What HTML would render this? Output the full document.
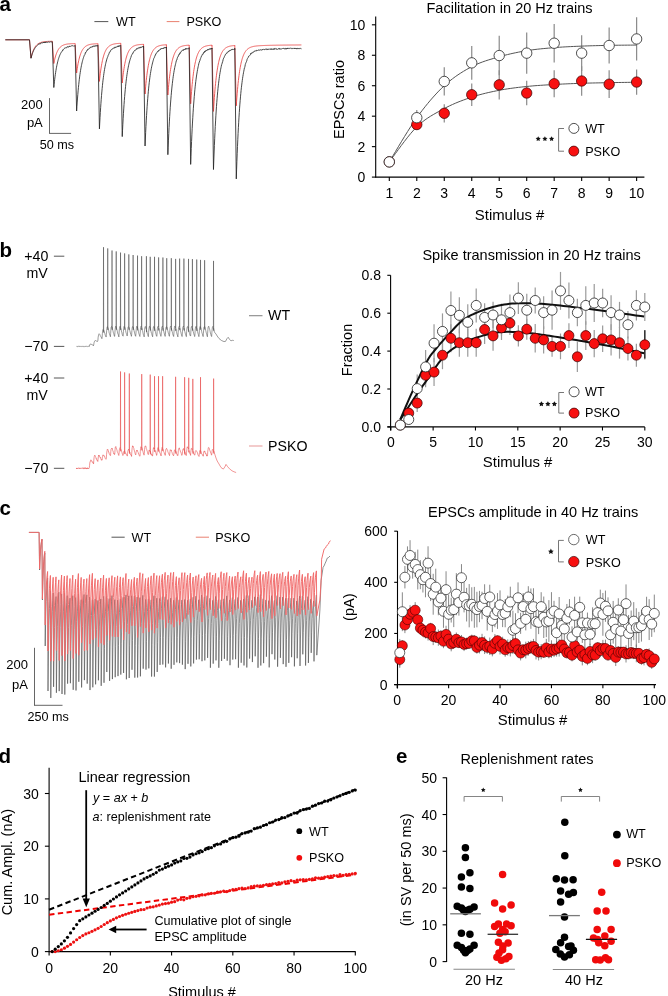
<!DOCTYPE html>
<html><head><meta charset="utf-8"><title>Figure</title>
<style>
html,body{margin:0;padding:0;background:#fff;}
body{width:668px;height:996px;overflow:hidden;}
svg{display:block;font-family:"Liberation Sans", sans-serif;will-change:transform;}
</style></head><body>
<svg width="668" height="996" viewBox="0 0 668 996">
<rect width="668" height="996" fill="#fff"/>
<text x="-0.6" y="11.4" style="font-size:20.5px;font-weight:bold">a</text>
<text x="-0.4" y="257.4" style="font-size:20.5px;font-weight:bold">b</text>
<text x="-0.6" y="515" style="font-size:20.5px;font-weight:bold">c</text>
<text x="-1.6" y="762.6" style="font-size:20.5px;font-weight:bold">d</text>
<text x="396" y="762.6" style="font-size:20.5px;font-weight:bold">e</text>
<line x1="94.4" y1="21.6" x2="108.3" y2="21.6" stroke="#555" stroke-width="1"/>
<text x="116" y="25.8" style="font-size:12.6px">WT</text>
<line x1="166.7" y1="21.6" x2="179.4" y2="21.6" stroke="#e98070" stroke-width="1"/>
<text x="186.4" y="25.8" style="font-size:12.6px">PSKO</text>
<polyline points="5.3,39.8 29.5,39.8 31,58 31.3,56.72 31.6,55.55 31.9,54.46 32.2,53.45 32.5,52.52 32.8,51.66 33.1,50.87 33.4,50.13 33.7,49.46 34,48.83 34.3,48.25 34.6,47.71 34.9,47.22 35.2,46.76 35.5,46.34 35.8,45.95 36.1,45.59 36.4,45.26 36.7,44.95 37,44.66 37.3,44.4 37.6,44.16 37.9,43.93 38.2,43.73 38.5,43.53 38.8,43.36 39.1,43.19 39.4,43.04 39.7,42.9 40,42.77 40.3,42.65 40.6,42.54 40.9,42.44 41.2,42.35 41.5,42.26 41.8,42.18 42.1,42.11 42.4,42.04 42.7,41.97 43,41.91 43.3,41.86 43.6,41.81 43.9,41.76 44.2,41.72 44.5,41.68 44.8,41.64 45.1,41.61 45.4,41.58 45.7,41.55 46,41.52 46.3,41.5 46.6,41.48 46.9,41.46 47.2,41.44 47.5,41.42 47.8,41.4 48.1,41.39 48.4,41.37 48.7,41.36 49,41.35 49.3,41.34 49.6,41.33 49.9,41.32 50.2,41.31 50.5,41.3 50.8,41.29 51.1,41.28 51.4,41.28 51.7,41.27 52,41.27 52.3,41.26 52.31,41.2 53.81,63.5 54.11,61.98 54.41,60.58 54.71,59.28 55.01,58.08 55.31,56.98 55.61,55.95 55.91,55.01 56.21,54.14 56.51,53.33 56.81,52.58 57.11,51.89 57.41,51.26 57.71,50.67 58.01,50.12 58.31,49.62 58.61,49.16 58.91,48.73 59.21,48.33 59.51,47.96 59.81,47.62 60.11,47.31 60.41,47.02 60.71,46.75 61.01,46.51 61.31,46.28 61.61,46.07 61.91,45.87 62.21,45.69 62.51,45.53 62.81,45.37 63.11,45.23 63.41,45.1 63.71,44.98 64.01,44.87 64.31,44.76 64.61,44.67 64.91,44.58 65.21,44.5 65.51,44.42 65.81,44.35 66.11,44.29 66.41,44.23 66.71,44.17 67.01,44.12 67.31,44.07 67.61,44.03 67.91,43.99 68.21,43.95 68.51,43.92 68.81,43.89 69.11,43.86 69.41,43.83 69.71,43.8 70.01,43.78 70.31,43.76 70.61,43.74 70.91,43.72 71.21,43.71 71.51,43.69 71.81,43.68 72.11,43.66 72.41,43.65 72.71,43.64 73.01,43.63 73.31,43.62 73.61,43.61 73.91,43.6 74.21,43.59 74.51,43.59 74.81,43.58 75.11,43.57 75.12,43.5 76.62,73 76.92,70.77 77.22,68.71 77.52,66.8 77.82,65.04 78.12,63.41 78.42,61.91 78.72,60.52 79.02,59.23 79.32,58.05 79.62,56.95 79.92,55.94 80.22,55 80.52,54.13 80.82,53.34 81.12,52.6 81.42,51.91 81.72,51.28 82.02,50.7 82.32,50.16 82.62,49.66 82.92,49.2 83.22,48.78 83.52,48.38 83.82,48.02 84.12,47.68 84.42,47.37 84.72,47.09 85.02,46.82 85.32,46.58 85.62,46.35 85.92,46.14 86.22,45.95 86.52,45.77 86.82,45.61 87.12,45.45 87.42,45.31 87.72,45.18 88.02,45.06 88.32,44.95 88.62,44.85 88.92,44.76 89.22,44.67 89.52,44.59 89.82,44.51 90.12,44.44 90.42,44.38 90.72,44.32 91.02,44.26 91.32,44.21 91.62,44.17 91.92,44.12 92.22,44.08 92.52,44.05 92.82,44.01 93.12,43.98 93.42,43.95 93.72,43.93 94.02,43.9 94.32,43.88 94.62,43.86 94.92,43.84 95.22,43.82 95.52,43.8 95.82,43.79 96.12,43.77 96.42,43.76 96.72,43.75 97.02,43.74 97.32,43.73 97.62,43.72 97.92,43.71 97.93,43.6 99.43,81.4 99.73,78.5 100.03,75.82 100.33,73.34 100.63,71.06 100.93,68.94 101.23,66.99 101.53,65.18 101.83,63.51 102.13,61.97 102.43,60.55 102.73,59.23 103.03,58.01 103.33,56.89 103.63,55.85 103.93,54.89 104.23,54 104.53,53.18 104.83,52.42 105.13,51.72 105.43,51.08 105.73,50.48 106.03,49.93 106.33,49.42 106.63,48.94 106.93,48.51 107.23,48.1 107.53,47.73 107.83,47.39 108.13,47.07 108.43,46.78 108.73,46.51 109.03,46.25 109.33,46.02 109.63,45.81 109.93,45.61 110.23,45.43 110.53,45.26 110.83,45.1 111.13,44.96 111.43,44.82 111.73,44.7 112.03,44.59 112.33,44.48 112.63,44.38 112.93,44.29 113.23,44.21 113.53,44.13 113.83,44.06 114.13,44 114.43,43.94 114.73,43.88 115.03,43.83 115.33,43.78 115.63,43.74 115.93,43.7 116.23,43.66 116.53,43.62 116.83,43.59 117.13,43.56 117.43,43.53 117.73,43.51 118.03,43.49 118.33,43.46 118.63,43.44 118.93,43.43 119.23,43.41 119.53,43.39 119.83,43.38 120.13,43.36 120.43,43.35 120.73,43.34 120.74,43.2 122.24,83 122.54,80.05 122.84,77.33 123.14,74.82 123.44,72.49 123.74,70.35 124.04,68.36 124.34,66.53 124.64,64.83 124.94,63.27 125.24,61.82 125.54,60.48 125.84,59.25 126.14,58.1 126.44,57.05 126.74,56.07 127.04,55.17 127.34,54.34 127.64,53.57 127.94,52.86 128.24,52.2 128.54,51.59 128.84,51.03 129.14,50.51 129.44,50.03 129.74,49.59 130.04,49.18 130.34,48.8 130.64,48.45 130.94,48.13 131.24,47.83 131.54,47.56 131.84,47.3 132.14,47.07 132.44,46.85 132.74,46.65 133.04,46.46 133.34,46.29 133.64,46.13 133.94,45.99 134.24,45.85 134.54,45.72 134.84,45.61 135.14,45.5 135.44,45.4 135.74,45.31 136.04,45.23 136.34,45.15 136.64,45.08 136.94,45.01 137.24,44.95 137.54,44.89 137.84,44.84 138.14,44.79 138.44,44.75 138.74,44.7 139.04,44.67 139.34,44.63 139.64,44.6 139.94,44.57 140.24,44.54 140.54,44.51 140.84,44.49 141.14,44.47 141.44,44.45 141.74,44.43 142.04,44.41 142.34,44.4 142.64,44.38 142.94,44.37 143.24,44.35 143.54,44.34 143.55,44.2 145.05,94 145.35,90.25 145.65,86.78 145.95,83.58 146.25,80.62 146.55,77.89 146.85,75.36 147.15,73.03 147.45,70.87 147.75,68.87 148.05,67.03 148.35,65.33 148.65,63.76 148.95,62.3 149.25,60.96 149.55,59.72 149.85,58.57 150.15,57.51 150.45,56.53 150.75,55.62 151.05,54.79 151.35,54.01 151.65,53.3 151.95,52.64 152.25,52.03 152.55,51.46 152.85,50.94 153.15,50.46 153.45,50.02 153.75,49.61 154.05,49.23 154.35,48.87 154.65,48.55 154.95,48.25 155.25,47.97 155.55,47.72 155.85,47.48 156.15,47.26 156.45,47.06 156.75,46.87 157.05,46.7 157.35,46.54 157.65,46.39 157.95,46.26 158.25,46.13 158.55,46.02 158.85,45.91 159.15,45.81 159.45,45.72 159.75,45.63 160.05,45.55 160.35,45.48 160.65,45.41 160.95,45.35 161.25,45.3 161.55,45.24 161.85,45.19 162.15,45.15 162.45,45.11 162.75,45.07 163.05,45.03 163.35,45 163.65,44.97 163.95,44.94 164.25,44.92 164.55,44.89 164.85,44.87 165.15,44.85 165.45,44.83 165.75,44.81 166.05,44.8 166.35,44.78 166.36,44.6 167.86,95 168.16,91.2 168.46,87.7 168.76,84.46 169.06,81.46 169.36,78.69 169.66,76.14 169.96,73.77 170.26,71.59 170.56,69.57 170.86,67.7 171.16,65.98 171.46,64.39 171.76,62.92 172.06,61.56 172.36,60.3 172.66,59.14 172.96,58.06 173.26,57.07 173.56,56.16 173.86,55.31 174.16,54.53 174.46,53.8 174.76,53.14 175.06,52.52 175.36,51.95 175.66,51.42 175.96,50.93 176.26,50.48 176.56,50.07 176.86,49.68 177.16,49.33 177.46,49 177.76,48.69 178.06,48.41 178.36,48.15 178.66,47.92 178.96,47.69 179.26,47.49 179.56,47.3 179.86,47.13 180.16,46.96 180.46,46.82 180.76,46.68 181.06,46.55 181.36,46.43 181.66,46.32 181.96,46.22 182.26,46.13 182.56,46.04 182.86,45.97 183.16,45.89 183.46,45.82 183.76,45.76 184.06,45.7 184.36,45.65 184.66,45.6 184.96,45.56 185.26,45.51 185.56,45.47 185.86,45.44 186.16,45.41 186.46,45.37 186.76,45.35 187.06,45.32 187.36,45.3 187.66,45.27 187.96,45.25 188.26,45.23 188.56,45.22 188.86,45.2 189.16,45.18 189.17,45 190.67,103.8 190.97,99.34 191.27,95.21 191.57,91.4 191.87,87.88 192.17,84.62 192.47,81.61 192.77,78.84 193.07,76.27 193.37,73.89 193.67,71.7 193.97,69.67 194.27,67.8 194.57,66.07 194.87,64.47 195.17,62.99 195.47,61.63 195.77,60.36 196.07,59.2 196.37,58.12 196.67,57.12 196.97,56.2 197.27,55.35 197.57,54.57 197.87,53.84 198.17,53.17 198.47,52.55 198.77,51.98 199.07,51.45 199.37,50.96 199.67,50.51 199.97,50.09 200.27,49.7 200.57,49.34 200.87,49.01 201.17,48.71 201.47,48.43 201.77,48.17 202.07,47.93 202.37,47.71 202.67,47.5 202.97,47.31 203.27,47.13 203.57,46.97 203.87,46.82 204.17,46.68 204.47,46.56 204.77,46.44 205.07,46.33 205.37,46.23 205.67,46.14 205.97,46.05 206.27,45.97 206.57,45.9 206.87,45.83 207.17,45.76 207.47,45.71 207.77,45.65 208.07,45.6 208.37,45.56 208.67,45.52 208.97,45.48 209.27,45.44 209.57,45.41 209.87,45.38 210.17,45.35 210.47,45.32 210.77,45.3 211.07,45.27 211.37,45.25 211.67,45.23 211.97,45.22 211.98,45 213.48,111.4 213.78,106.38 214.08,101.75 214.38,97.46 214.68,93.5 214.98,89.84 215.28,86.46 215.58,83.34 215.88,80.45 216.18,77.78 216.48,75.31 216.78,73.04 217.08,70.93 217.38,68.99 217.68,67.19 217.98,65.53 218.28,63.99 218.58,62.57 218.88,61.26 219.18,60.05 219.48,58.93 219.78,57.89 220.08,56.94 220.38,56.06 220.68,55.24 220.98,54.48 221.28,53.79 221.58,53.14 221.88,52.55 222.18,52 222.48,51.49 222.78,51.02 223.08,50.58 223.38,50.18 223.68,49.81 223.98,49.47 224.28,49.15 224.58,48.86 224.88,48.59 225.18,48.34 225.48,48.11 225.78,47.9 226.08,47.7 226.38,47.52 226.68,47.35 226.98,47.19 227.28,47.05 227.58,46.92 227.88,46.79 228.18,46.68 228.48,46.58 228.78,46.48 229.08,46.39 229.38,46.31 229.68,46.23 229.98,46.16 230.28,46.09 230.58,46.03 230.88,45.98 231.18,45.93 231.48,45.88 231.78,45.84 232.08,45.79 232.38,45.76 232.68,45.72 232.98,45.69 233.28,45.66 233.58,45.63 233.88,45.61 234.18,45.58 234.48,45.56 234.78,45.54 234.79,45.3 236.29,105.8 236.59,101.3 236.89,97.14 237.19,93.29 237.49,89.73 237.79,86.44 238.09,83.4 238.39,80.59 238.69,77.99 238.99,75.59 239.29,73.36 239.59,71.31 239.89,69.41 240.19,67.65 240.49,66.03 240.79,64.52 241.09,63.13 241.39,61.85 241.69,60.66 241.99,59.56 242.29,58.54 242.59,57.6 242.89,56.72 243.19,55.92 243.49,55.17 243.79,54.48 244.09,53.84 244.39,53.25 244.69,52.7 244.99,52.19 245.29,51.72 245.59,51.28 245.89,50.88 246.19,50.51 246.49,50.16 246.79,49.84 247.09,49.54 247.39,49.26 247.69,49.01 247.99,48.77 248.29,48.55 248.59,48.34 248.89,48.15 249.19,47.97 249.49,47.81 249.79,47.66 250.09,47.51 250.39,47.38 250.69,47.26 250.99,47.14 251.29,47.04 251.59,46.94 251.89,46.84 252.19,46.76 252.49,46.68 252.79,46.6 253.09,46.53 253.39,46.46 253.69,46.4 253.99,46.34 254.29,46.29 254.59,46.24 254.89,46.19 255.19,46.15 255.49,46.11 255.79,46.07 256.09,46.03 256.39,45.99 256.69,45.96 256.99,45.93 257.29,45.9 257.59,45.87 257.89,45.84 258.19,45.82 258.49,45.79 258.79,45.77 259.09,45.75 259.39,45.73 259.69,45.71 259.99,45.69 260.29,45.67 260.59,45.66 260.89,45.64 261.19,45.62 261.49,45.61 261.79,45.59 262.09,45.58 262.39,45.57 262.69,45.55 262.99,45.54 263.29,45.53 263.59,45.52 263.89,45.5 264.19,45.49 264.49,45.48 264.79,45.47 265.09,45.46 265.39,45.45 265.69,45.44 265.99,45.43 266.29,45.42 266.59,45.42 266.89,45.41 267.19,45.4 267.49,45.39 267.79,45.38 268.09,45.37 268.39,45.37 268.69,45.36 268.99,45.35 269.29,45.34 269.59,45.34 269.89,45.33 270.19,45.32 270.49,45.32 270.79,45.31 271.09,45.3 271.39,45.3 271.69,45.29 271.99,45.28 272.29,45.28 272.59,45.27 272.89,45.27 273.19,45.26 273.49,45.25 273.79,45.25 274.09,45.24 274.39,45.24 274.69,45.23 274.99,45.23 275.29,45.22 275.59,45.22 275.89,45.21 276.19,45.21 276.49,45.2 276.79,45.2 277.09,45.19 277.39,45.19 277.69,45.18 277.99,45.18 278.29,45.17 278.59,45.17 278.89,45.16 279.19,45.16 279.49,45.16 279.79,45.15 280.09,45.15 280.39,45.14 280.69,45.14 280.99,45.14 281.29,45.13 281.59,45.13 281.89,45.12 282.19,45.12 282.49,45.12 282.79,45.11 283.09,45.11 283.39,45.1 283.69,45.1 283.99,45.1 284.29,45.09 284.59,45.09 284.89,45.09 285.19,45.08 285.49,45.08 285.79,45.08 286.09,45.07 286.39,45.07 286.69,45.07 286.99,45.06 287.29,45.06 287.59,45.06 287.89,45.05 288.19,45.05 288.49,45.05 288.79,45.04 289.09,45.04 289.39,45.04 289.69,45.04 289.99,45.03 290.29,45.03 290.59,45.03 290.89,45.03 291.19,45.02 291.49,45.02 291.79,45.02 292.09,45.01 292.39,45.01 292.69,45.01 292.99,45.01 293.29,45 293.59,45 293.89,45 294.19,45 294.49,44.99 294.79,44.99 295.09,44.99 295.39,44.99 295.69,44.99 295.99,44.98 296.29,44.98 296.59,44.98 296.89,44.98 297.19,44.98 297.49,44.97 297.79,44.97 298.09,44.97 298.39,44.97 298.69,44.96 298.99,44.96 299.29,44.96 299.59,44.96 299.89,44.96 300.19,44.96 300.49,44.95 300.79,44.95 301.09,44.95 301.39,44.95" fill="none" stroke="#e8403f" stroke-width="0.85" stroke-linejoin="round"/>
<polyline points="5.3,39.8 29.5,39.8 31,58.3 31.3,57.14 31.6,56.05 31.9,55.05 32.2,54.11 32.5,53.24 32.8,52.44 33.1,51.69 33.4,50.99 33.7,50.34 34,49.74 34.3,49.18 34.6,48.66 34.9,48.17 35.2,47.72 35.5,47.31 35.8,46.92 36.1,46.56 36.4,46.22 36.7,45.91 37,45.62 37.3,45.35 37.6,45.1 37.9,44.87 38.2,44.65 38.5,44.45 38.8,44.26 39.1,43.66 39.4,44.21 39.7,43.72 40,43.86 40.3,43.99 40.6,43.43 40.9,43.28 41.2,42.74 41.5,42.84 41.8,42.98 42.1,43.08 42.4,43.13 42.7,42.63 43,42.25 43.3,42.41 43.6,42.97 43.9,42.22 44.2,42.41 44.5,42.84 44.8,41.89 45.1,42.43 45.4,42.74 45.7,41.99 46,42.27 46.3,42.6 46.6,41.8 46.9,42.16 47.2,42.37 47.5,42.26 47.8,42.04 48.1,41.76 48.4,42.03 48.7,41.89 49,41.98 49.3,41.86 49.6,42.31 49.9,42.23 50.2,41.77 50.5,42.01 50.8,41.71 51.1,41.88 51.4,41.77 51.7,42.06 52,41.77 52.3,41.85 52.31,41.8 53.81,87.5 54.11,84.54 54.41,81.78 54.71,79.22 55.01,76.84 55.31,74.63 55.61,72.58 55.91,70.67 56.21,68.89 56.51,67.24 56.81,65.71 57.11,64.28 57.41,62.95 57.71,61.72 58.01,60.58 58.31,59.51 58.61,58.53 58.91,57.61 59.21,56.75 59.51,55.96 59.81,55.22 60.11,54.53 60.41,53.9 60.71,53.3 61.01,52.75 61.31,52.24 61.61,51.77 61.91,51.54 62.21,50.83 62.51,50.94 62.81,49.86 63.11,50.09 63.41,49.46 63.71,49.18 64.01,49.12 64.31,48.77 64.61,48.43 64.91,47.8 65.21,47.7 65.51,48.13 65.81,47.77 66.11,47.79 66.41,47.9 66.71,47.49 67.01,46.73 67.31,46.87 67.61,47.04 67.91,46.58 68.21,47.22 68.51,47.11 68.81,46.93 69.11,46.48 69.41,46.78 69.71,46 70.01,46.12 70.31,46.21 70.61,46.44 70.91,46.13 71.21,45.74 71.51,45.9 71.81,45.85 72.11,45.78 72.41,45.62 72.71,45.83 73.01,45.84 73.31,46.14 73.61,46.13 73.91,45.83 74.21,45.75 74.51,46.05 74.81,46.14 75.11,45.91 75.12,45.5 76.62,111 76.92,106.36 77.22,102.06 77.52,98.05 77.82,94.33 78.12,90.87 78.42,87.65 78.72,84.67 79.02,81.89 79.32,79.31 79.62,76.91 79.92,74.68 80.22,72.6 80.52,70.68 80.82,68.89 81.12,67.22 81.42,65.68 81.72,64.24 82.02,62.9 82.32,61.66 82.62,60.51 82.92,59.43 83.22,58.44 83.52,57.51 83.82,56.65 84.12,55.85 84.42,55.1 84.72,54.71 85.02,54.21 85.32,52.71 85.62,52.99 85.92,51.88 86.22,51.6 86.52,51.47 86.82,50.98 87.12,50.02 87.42,50.17 87.72,49.25 88.02,49.23 88.32,49.4 88.62,48.75 88.92,48.67 89.22,48.57 89.52,48.45 89.82,48.19 90.12,47.25 90.42,47.49 90.72,47.37 91.02,46.82 91.32,47.16 91.62,47.1 91.92,47.2 92.22,47.2 92.52,46.29 92.82,46.29 93.12,46.63 93.42,46.02 93.72,46.04 94.02,46.32 94.32,45.85 94.62,46.4 94.92,46.41 95.22,45.54 95.52,45.99 95.82,46.2 96.12,46.34 96.42,45.6 96.72,45.46 97.02,46.13 97.32,46.13 97.62,45.39 97.92,45.61 97.93,45.3 99.43,128.9 99.73,123.02 100.03,117.55 100.33,112.46 100.63,107.74 100.93,103.35 101.23,99.27 101.53,95.47 101.83,91.95 102.13,88.67 102.43,85.62 102.73,82.79 103.03,80.16 103.33,77.71 103.63,75.44 103.93,73.33 104.23,71.37 104.53,69.54 104.83,67.84 105.13,66.27 105.43,64.8 105.73,63.44 106.03,62.17 106.33,61 106.63,59.9 106.93,58.89 107.23,57.94 107.53,57.28 107.83,56.59 108.13,55.16 108.43,54.95 108.73,54.44 109.03,53.57 109.33,52.62 109.63,51.97 109.93,51.72 110.23,51.79 110.53,50.61 110.83,50.18 111.13,50.17 111.43,49.53 111.73,49.3 112.03,48.88 112.33,49.11 112.63,49.03 112.93,48.53 113.23,48.01 113.53,48.01 113.83,48.08 114.13,48.25 114.43,48.14 114.73,47.24 115.03,46.87 115.33,47.56 115.63,47.53 115.93,46.95 116.23,47.16 116.53,47.15 116.83,46.81 117.13,46.99 117.43,46.06 117.73,46.23 118.03,46.17 118.33,45.95 118.63,46.68 118.93,45.75 119.23,46.34 119.53,45.69 119.83,45.94 120.13,45.95 120.43,45.68 120.73,45.98 120.74,45.5 122.24,136.6 122.54,130.23 122.84,124.31 123.14,118.8 123.44,113.69 123.74,108.93 124.04,104.51 124.34,100.41 124.64,96.59 124.94,93.04 125.24,89.74 125.54,86.68 125.84,83.83 126.14,81.18 126.44,78.72 126.74,76.43 127.04,74.31 127.34,72.33 127.64,70.49 127.94,68.79 128.24,67.2 128.54,65.72 128.84,64.35 129.14,63.08 129.44,61.9 129.74,60.8 130.04,59.77 130.34,58.86 130.64,57.76 130.94,57.35 131.24,56.01 131.54,55.34 131.84,54.84 132.14,54.25 132.44,53.51 132.74,53.69 133.04,53.11 133.34,51.93 133.64,51.77 133.94,51.24 134.24,51.09 134.54,50.57 134.84,50.48 135.14,50.61 135.44,49.79 135.74,49.81 136.04,49.51 136.34,49.45 136.64,48.56 136.94,49.05 137.24,49.07 137.54,48.57 137.84,48.1 138.14,48.34 138.44,48.25 138.74,48.07 139.04,47.45 139.34,48.17 139.64,48.05 139.94,47.43 140.24,47.51 140.54,46.88 140.84,47.76 141.14,47.52 141.44,47.27 141.74,47.34 142.04,46.71 142.34,46.78 142.64,46.67 142.94,46.98 143.24,46.43 143.54,47.2 143.55,46.3 145.05,146 145.35,139.01 145.65,132.52 145.95,126.49 146.25,120.88 146.55,115.67 146.85,110.82 147.15,106.32 147.45,102.13 147.75,98.24 148.05,94.63 148.35,91.27 148.65,88.14 148.95,85.24 149.25,82.54 149.55,80.03 149.85,77.7 150.15,75.54 150.45,73.52 150.75,71.65 151.05,69.91 151.35,68.3 151.65,66.79 151.95,65.4 152.25,64.1 152.55,62.89 152.85,61.77 153.15,60.69 153.45,59.71 153.75,58.46 154.05,58.21 154.35,57.56 154.65,56.65 154.95,55.59 155.25,55.51 155.55,54.29 155.85,54.43 156.15,53.69 156.45,52.93 156.75,52.72 157.05,52.43 157.35,51.69 157.65,51.93 157.95,51.18 158.25,51.35 158.55,51.01 158.85,50.02 159.15,50.32 159.45,49.76 159.75,50 160.05,49.59 160.35,49.33 160.65,49.6 160.95,48.61 161.25,48.96 161.55,48.6 161.85,48.18 162.15,48.78 162.45,48.48 162.75,48.71 163.05,48.33 163.35,47.98 163.65,48.55 163.95,47.6 164.25,47.47 164.55,48.08 164.85,47.66 165.15,47.6 165.45,48.06 165.75,47.46 166.05,47.98 166.35,47.69 166.36,47 167.86,154.7 168.16,147.14 168.46,140.12 168.76,133.59 169.06,127.52 169.36,121.89 169.66,116.64 169.96,111.77 170.26,107.24 170.56,103.04 170.86,99.12 171.16,95.49 171.46,92.11 171.76,88.97 172.06,86.05 172.36,83.34 172.66,80.82 172.96,78.47 173.26,76.29 173.56,74.27 173.86,72.39 174.16,70.64 174.46,69.01 174.76,67.5 175.06,66.1 175.36,64.79 175.66,63.58 175.96,62.28 176.26,60.96 176.56,60.18 176.86,59.99 177.16,58.59 177.46,57.56 177.76,56.97 178.06,56.9 178.36,55.54 178.66,55.57 178.96,54.38 179.26,54.7 179.56,53.8 179.86,52.88 180.16,53.36 180.46,52.41 180.76,52.44 181.06,51.9 181.36,51.17 181.66,50.9 181.96,50.69 182.26,50.46 182.56,50.12 182.86,49.91 183.16,50.61 183.46,49.58 183.76,49.82 184.06,49.28 184.36,49.23 184.66,49.64 184.96,49.69 185.26,49.11 185.56,48.53 185.86,49.43 186.16,48.38 186.46,48.64 186.76,48.71 187.06,48.98 187.36,48.84 187.66,48.57 187.96,48.29 188.26,48.67 188.56,48.66 188.86,48.61 189.16,48.41 189.17,47.6 190.67,164.4 190.97,156.19 191.27,148.55 191.57,141.46 191.87,134.86 192.17,128.74 192.47,123.04 192.77,117.74 193.07,112.82 193.37,108.25 193.67,104 193.97,100.05 194.27,96.38 194.57,92.96 194.87,89.79 195.17,86.84 195.47,84.1 195.77,81.55 196.07,79.19 196.37,76.99 196.67,74.94 196.97,73.04 197.27,71.27 197.57,69.63 197.87,68.1 198.17,66.69 198.47,65.37 198.77,63.74 199.07,62.8 199.37,61.93 199.67,60.97 199.97,60.38 200.27,58.93 200.57,58.57 200.87,57.55 201.17,57.26 201.47,56.05 201.77,55.74 202.07,54.82 202.37,54.42 202.67,54.67 202.97,53.61 203.27,53.78 203.57,53.03 203.87,52.19 204.17,52.62 204.47,51.57 204.77,52.06 205.07,50.98 205.37,51.4 205.67,50.67 205.97,50.63 206.27,51.04 206.57,50.39 206.87,50.4 207.17,50.32 207.47,49.54 207.77,50.14 208.07,50.08 208.37,49.21 208.67,49.49 208.97,49.12 209.27,49.49 209.57,48.69 209.87,49.09 210.17,49.29 210.47,49.17 210.77,48.47 211.07,49.14 211.37,48.48 211.67,49 211.97,48.64 211.98,48 213.48,169.5 213.78,160.95 214.08,153 214.38,145.61 214.68,138.75 214.98,132.36 215.28,126.43 215.58,120.92 215.88,115.8 216.18,111.03 216.48,106.61 216.78,102.49 217.08,98.67 217.38,95.12 217.68,91.81 217.98,88.74 218.28,85.89 218.58,83.24 218.88,80.77 219.18,78.48 219.48,76.35 219.78,74.37 220.08,72.53 220.38,70.82 220.68,69.23 220.98,67.76 221.28,66.38 221.58,64.77 221.88,64.16 222.18,63.13 222.48,61.99 222.78,61.31 223.08,59.71 223.38,58.87 223.68,58.02 223.98,57.7 224.28,56.9 224.58,56.24 224.88,55.78 225.18,55.06 225.48,54.3 225.78,54.31 226.08,53.68 226.38,53.46 226.68,53.57 226.98,52.48 227.28,52.62 227.58,52.33 227.88,51.7 228.18,51.63 228.48,51.89 228.78,51.05 229.08,51.21 229.38,51.15 229.68,50.49 229.98,50.96 230.28,50.44 230.58,50.17 230.88,50.25 231.18,49.84 231.48,50.01 231.78,49.47 232.08,50.03 232.38,49.55 232.68,49.16 232.98,49.28 233.28,49.66 233.58,49.51 233.88,49.12 234.18,48.93 234.48,48.9 234.78,49.45 234.79,48.3 236.29,178.9 236.59,169.88 236.89,161.5 237.19,153.71 237.49,146.46 237.79,139.72 238.09,133.46 238.39,127.63 238.69,122.22 238.99,117.18 239.29,112.5 239.59,108.14 239.89,104.09 240.19,100.33 240.49,96.83 240.79,93.57 241.09,90.54 241.39,87.72 241.69,85.1 241.99,82.66 242.29,80.39 242.59,78.28 242.89,76.32 243.19,74.49 243.49,72.79 243.79,71.21 244.09,69.74 244.39,67.98 244.69,67.49 244.99,66.27 245.29,64.53 245.59,63.63 245.89,62.89 246.19,62.23 246.49,61.55 246.79,60.82 247.09,59.38 247.39,58.62 247.69,58.29 247.99,57.78 248.29,57.34 248.59,56.28 248.89,56.35 249.19,56.18 249.49,55.76 249.79,55.41 250.09,55.03 250.39,54.73 250.69,53.51 250.99,54.09 251.29,53.17 251.59,52.97 251.89,52.87 252.19,53.14 252.49,52.58 252.79,52.14 253.09,51.97 253.39,52.34 253.69,52.09 253.99,51.26 254.29,51.23 254.59,51.22 254.89,50.94 255.19,51.17 255.49,50.72 255.79,50.97 256.09,51.24 256.39,51.06 256.69,50.23 256.99,50.25 257.29,50.38 257.59,50.54 257.89,50.22 258.19,50.02 258.49,50.05 258.79,49.85 259.09,50.46 259.39,50.24 259.69,49.91 259.99,50.15 260.29,49.92 260.59,49.89 260.89,49.69 261.19,49.77 261.49,50.24 261.79,50 262.09,50.01 262.39,49.28 262.69,49.62 262.99,49.46 263.29,49.15 263.59,49.43 263.89,49.09 264.19,49.22 264.49,49.76 264.79,49.63 265.09,49.62 265.39,48.98 265.69,49.04 265.99,48.88 266.29,48.94 266.59,48.92 266.89,49.76 267.19,49.68 267.49,48.97 267.79,49.01 268.09,49.7 268.39,49.29 268.69,49.07 268.99,49.16 269.29,48.95 269.59,49.25 269.89,49.37 270.19,49.15 270.49,49.44 270.79,48.72 271.09,49.2 271.39,49.57 271.69,48.72 271.99,49.06 272.29,49.18 272.59,48.88 272.89,49.49 273.19,49 273.49,48.98 273.79,49.4 274.09,48.5 274.39,49.34 274.69,48.59 274.99,48.83 275.29,48.93 275.59,48.91 275.89,48.47 276.19,48.73 276.49,48.76 276.79,49.36 277.09,49.31 277.39,48.97 277.69,49.31 277.99,49.23 278.29,48.73 278.59,48.47 278.89,48.95 279.19,48.66 279.49,48.33 279.79,49.3 280.09,49.28 280.39,48.84 280.69,48.91 280.99,48.96 281.29,49.21 281.59,48.74 281.89,48.85 282.19,48.49 282.49,48.5 282.79,48.77 283.09,48.47 283.39,48.26 283.69,48.6 283.99,48.97 284.29,48.49 284.59,49.07 284.89,48.9 285.19,48.85 285.49,49.08 285.79,48.26 286.09,48.36 286.39,49.08 286.69,49.07 286.99,48.24 287.29,48.93 287.59,48.17 287.89,48.28 288.19,48.25 288.49,48.43 288.79,48.52 289.09,49.03 289.39,48.56 289.69,48.24 289.99,48.38 290.29,48.11 290.59,48.13 290.89,48.53 291.19,48.6 291.49,48.33 291.79,48.46 292.09,48.18 292.39,48.73 292.69,48.46 292.99,48.22 293.29,48.56 293.59,48.26 293.89,48.34 294.19,48.17 294.49,48.82 294.79,48.32 295.09,48.99 295.39,48.43 295.69,48.18 295.99,48.73 296.29,48.75 296.59,48.9 296.89,48.14 297.19,48.8 297.49,48.86 297.79,48.3 298.09,48.45 298.39,48.61 298.69,48.23 298.99,48.86 299.29,48.68 299.59,48.83 299.89,48.42 300.19,48.49 300.49,48.16 300.79,48.28 301.09,48.69 301.39,48.92" fill="none" stroke="#262626" stroke-width="0.85" stroke-linejoin="round"/>
<line x1="49.5" y1="98.1" x2="49.5" y2="133.4" stroke="#555" stroke-width="0.9"/>
<line x1="49.1" y1="133.4" x2="71.1" y2="133.4" stroke="#555" stroke-width="0.9"/>
<text x="42.8" y="108.7" style="font-size:13px" text-anchor="end">200</text>
<text x="42.8" y="126.6" style="font-size:13px" text-anchor="end">pA</text>
<text x="39.8" y="148.5" style="font-size:12.6px">50 ms</text>
<text x="509.5" y="12.8" style="font-size:14.5px" text-anchor="middle">Facilitation in 20 Hz trains</text>
<line x1="375.7" y1="16.5" x2="375.7" y2="177.6" stroke="#000" stroke-width="1.1"/>
<line x1="375.2" y1="177.1" x2="644.4" y2="177.1" stroke="#000" stroke-width="1.1"/>
<line x1="371.9" y1="177.1" x2="375.7" y2="177.1" stroke="#000" stroke-width="1.1"/>
<text x="365.4" y="182.1" style="font-size:14px" text-anchor="end">0</text>
<line x1="371.9" y1="146.64" x2="375.7" y2="146.64" stroke="#000" stroke-width="1.1"/>
<text x="365.4" y="151.64" style="font-size:14px" text-anchor="end">2</text>
<line x1="371.9" y1="116.18" x2="375.7" y2="116.18" stroke="#000" stroke-width="1.1"/>
<text x="365.4" y="121.18" style="font-size:14px" text-anchor="end">4</text>
<line x1="371.9" y1="85.72" x2="375.7" y2="85.72" stroke="#000" stroke-width="1.1"/>
<text x="365.4" y="90.72" style="font-size:14px" text-anchor="end">6</text>
<line x1="371.9" y1="55.26" x2="375.7" y2="55.26" stroke="#000" stroke-width="1.1"/>
<text x="365.4" y="60.26" style="font-size:14px" text-anchor="end">8</text>
<line x1="371.9" y1="24.8" x2="375.7" y2="24.8" stroke="#000" stroke-width="1.1"/>
<text x="365.4" y="29.8" style="font-size:14px" text-anchor="end">10</text>
<line x1="389.3" y1="177.1" x2="389.3" y2="181.1" stroke="#000" stroke-width="1.1"/>
<text x="389.3" y="197.6" style="font-size:14px" text-anchor="middle">1</text>
<line x1="416.78" y1="177.1" x2="416.78" y2="181.1" stroke="#000" stroke-width="1.1"/>
<text x="416.78" y="197.6" style="font-size:14px" text-anchor="middle">2</text>
<line x1="444.26" y1="177.1" x2="444.26" y2="181.1" stroke="#000" stroke-width="1.1"/>
<text x="444.26" y="197.6" style="font-size:14px" text-anchor="middle">3</text>
<line x1="471.74" y1="177.1" x2="471.74" y2="181.1" stroke="#000" stroke-width="1.1"/>
<text x="471.74" y="197.6" style="font-size:14px" text-anchor="middle">4</text>
<line x1="499.22" y1="177.1" x2="499.22" y2="181.1" stroke="#000" stroke-width="1.1"/>
<text x="499.22" y="197.6" style="font-size:14px" text-anchor="middle">5</text>
<line x1="526.7" y1="177.1" x2="526.7" y2="181.1" stroke="#000" stroke-width="1.1"/>
<text x="526.7" y="197.6" style="font-size:14px" text-anchor="middle">6</text>
<line x1="554.18" y1="177.1" x2="554.18" y2="181.1" stroke="#000" stroke-width="1.1"/>
<text x="554.18" y="197.6" style="font-size:14px" text-anchor="middle">7</text>
<line x1="581.66" y1="177.1" x2="581.66" y2="181.1" stroke="#000" stroke-width="1.1"/>
<text x="581.66" y="197.6" style="font-size:14px" text-anchor="middle">8</text>
<line x1="609.14" y1="177.1" x2="609.14" y2="181.1" stroke="#000" stroke-width="1.1"/>
<text x="609.14" y="197.6" style="font-size:14px" text-anchor="middle">9</text>
<line x1="636.62" y1="177.1" x2="636.62" y2="181.1" stroke="#000" stroke-width="1.1"/>
<text x="636.62" y="197.6" style="font-size:14px" text-anchor="middle">10</text>
<text x="509.6" y="219.6" style="font-size:14.9px" text-anchor="middle">Stimulus #</text>
<text x="0" y="0" transform="translate(343.6 99.5) rotate(-90)" style="font-size:14.5px" text-anchor="middle">EPSCs ratio</text>
<line x1="389.3" y1="161.11" x2="389.3" y2="162.63" stroke="#8a8a8a" stroke-width="1.2"/>
<line x1="389.3" y1="161.11" x2="389.3" y2="162.63" stroke="#8a8a8a" stroke-width="1.2"/>
<line x1="416.78" y1="110.09" x2="416.78" y2="125.32" stroke="#8a8a8a" stroke-width="1.2"/>
<line x1="416.78" y1="119.23" x2="416.78" y2="129.89" stroke="#8a8a8a" stroke-width="1.2"/>
<line x1="444.26" y1="67.29" x2="444.26" y2="95.62" stroke="#8a8a8a" stroke-width="1.2"/>
<line x1="444.26" y1="104.15" x2="444.26" y2="122.42" stroke="#8a8a8a" stroke-width="1.2"/>
<line x1="471.74" y1="45.97" x2="471.74" y2="79.78" stroke="#8a8a8a" stroke-width="1.2"/>
<line x1="471.74" y1="83.44" x2="471.74" y2="105.98" stroke="#8a8a8a" stroke-width="1.2"/>
<line x1="499.22" y1="35.77" x2="499.22" y2="75.36" stroke="#8a8a8a" stroke-width="1.2"/>
<line x1="499.22" y1="70.19" x2="499.22" y2="99.43" stroke="#8a8a8a" stroke-width="1.2"/>
<line x1="526.7" y1="32.57" x2="526.7" y2="73.69" stroke="#8a8a8a" stroke-width="1.2"/>
<line x1="526.7" y1="80.85" x2="526.7" y2="105.21" stroke="#8a8a8a" stroke-width="1.2"/>
<line x1="554.18" y1="23.89" x2="554.18" y2="62.57" stroke="#8a8a8a" stroke-width="1.2"/>
<line x1="554.18" y1="70.34" x2="554.18" y2="97.14" stroke="#8a8a8a" stroke-width="1.2"/>
<line x1="581.66" y1="35.16" x2="581.66" y2="71.1" stroke="#8a8a8a" stroke-width="1.2"/>
<line x1="581.66" y1="66.23" x2="581.66" y2="95.77" stroke="#8a8a8a" stroke-width="1.2"/>
<line x1="609.14" y1="27.54" x2="609.14" y2="63.48" stroke="#8a8a8a" stroke-width="1.2"/>
<line x1="609.14" y1="70.34" x2="609.14" y2="98.06" stroke="#8a8a8a" stroke-width="1.2"/>
<line x1="636.62" y1="17.34" x2="636.62" y2="60.59" stroke="#8a8a8a" stroke-width="1.2"/>
<line x1="636.62" y1="69.42" x2="636.62" y2="94.71" stroke="#8a8a8a" stroke-width="1.2"/>
<polyline points="389.3,161.87 390.94,159.19 393.04,155.67 395.52,151.48 398.31,146.8 401.32,141.79 404.47,136.61 407.67,131.45 410.84,126.46 413.91,121.82 416.78,117.7 419.53,113.95 422.28,110.32 425.02,106.8 427.77,103.41 430.52,100.14 433.27,97 436.02,93.98 438.76,91.09 441.51,88.34 444.26,85.72 447.01,83.25 449.76,80.94 452.5,78.77 455.25,76.73 458,74.82 460.75,73.02 463.5,71.31 466.24,69.7 468.99,68.16 471.74,66.68 474.49,65.31 477.24,64.06 479.98,62.92 482.73,61.88 485.48,60.92 488.23,60.03 490.98,59.19 493.72,58.37 496.47,57.58 499.22,56.78 501.97,56.01 504.72,55.27 507.46,54.58 510.21,53.93 512.96,53.31 515.71,52.73 518.46,52.17 521.2,51.65 523.95,51.16 526.7,50.69 529.45,50.26 532.2,49.86 534.94,49.51 537.69,49.18 540.44,48.88 543.19,48.61 545.94,48.35 548.68,48.11 551.43,47.87 554.18,47.64 556.93,47.43 559.68,47.23 562.42,47.05 565.17,46.89 567.92,46.74 570.67,46.6 573.42,46.47 576.16,46.35 578.91,46.24 581.66,46.12 584.41,46.01 587.16,45.91 589.9,45.82 592.65,45.74 595.4,45.67 598.15,45.6 600.9,45.53 603.64,45.47 606.39,45.41 609.14,45.36 612.01,45.31 615.08,45.27 618.25,45.23 621.45,45.19 624.6,45.16 627.61,45.13 630.4,45.11 632.88,45.09 634.98,45.07 636.62,45.06" fill="none" stroke="#555" stroke-width="1" stroke-linejoin="round"/>
<polyline points="389.3,161.87 390.94,159.71 393.04,156.84 395.52,153.41 398.31,149.58 401.32,145.5 404.47,141.33 407.67,137.22 410.84,133.34 413.91,129.82 416.78,126.84 419.53,124.3 422.28,122 425.02,119.91 427.77,118 430.52,116.23 433.27,114.58 436.02,113.02 438.76,111.51 441.51,110.04 444.26,108.56 447.01,107.12 449.76,105.77 452.5,104.49 455.25,103.28 458,102.14 460.75,101.05 463.5,100.02 466.24,99.02 468.99,98.07 471.74,97.14 474.49,96.26 477.24,95.43 479.98,94.65 482.73,93.93 485.48,93.24 488.23,92.59 490.98,91.98 493.72,91.39 496.47,90.83 499.22,90.29 501.97,89.78 504.72,89.3 507.46,88.87 510.21,88.46 512.96,88.08 515.71,87.73 518.46,87.39 521.2,87.08 523.95,86.77 526.7,86.48 529.45,86.21 532.2,85.96 534.94,85.73 537.69,85.52 540.44,85.33 543.19,85.15 545.94,84.98 548.68,84.82 551.43,84.66 554.18,84.5 556.93,84.35 559.68,84.2 562.42,84.06 565.17,83.93 567.92,83.81 570.67,83.69 573.42,83.58 576.16,83.48 578.91,83.38 581.66,83.28 584.41,83.2 587.16,83.12 589.9,83.05 592.65,82.99 595.4,82.93 598.15,82.88 600.9,82.83 603.64,82.78 606.39,82.73 609.14,82.67 612.01,82.62 615.08,82.57 618.25,82.51 621.45,82.46 624.6,82.41 627.61,82.36 630.4,82.32 632.88,82.28 634.98,82.24 636.62,82.22" fill="none" stroke="#555" stroke-width="1" stroke-linejoin="round"/>
<circle cx="389.3" cy="161.87" r="5.2" fill="#f81010" stroke="#300" stroke-width="0.7"/>
<circle cx="416.78" cy="124.56" r="5.2" fill="#f81010" stroke="#300" stroke-width="0.7"/>
<circle cx="444.26" cy="113.29" r="5.2" fill="#f81010" stroke="#300" stroke-width="0.7"/>
<circle cx="471.74" cy="94.71" r="5.2" fill="#f81010" stroke="#300" stroke-width="0.7"/>
<circle cx="499.22" cy="84.81" r="5.2" fill="#f81010" stroke="#300" stroke-width="0.7"/>
<circle cx="526.7" cy="93.03" r="5.2" fill="#f81010" stroke="#300" stroke-width="0.7"/>
<circle cx="554.18" cy="83.74" r="5.2" fill="#f81010" stroke="#300" stroke-width="0.7"/>
<circle cx="581.66" cy="81" r="5.2" fill="#f81010" stroke="#300" stroke-width="0.7"/>
<circle cx="609.14" cy="84.2" r="5.2" fill="#f81010" stroke="#300" stroke-width="0.7"/>
<circle cx="636.62" cy="82.06" r="5.2" fill="#f81010" stroke="#300" stroke-width="0.7"/>
<circle cx="389.3" cy="161.87" r="5.2" fill="#fff" stroke="#222" stroke-width="0.8"/>
<circle cx="416.78" cy="117.7" r="5.2" fill="#fff" stroke="#222" stroke-width="0.8"/>
<circle cx="444.26" cy="81.46" r="5.2" fill="#fff" stroke="#222" stroke-width="0.8"/>
<circle cx="471.74" cy="62.87" r="5.2" fill="#fff" stroke="#222" stroke-width="0.8"/>
<circle cx="499.22" cy="55.56" r="5.2" fill="#fff" stroke="#222" stroke-width="0.8"/>
<circle cx="526.7" cy="53.13" r="5.2" fill="#fff" stroke="#222" stroke-width="0.8"/>
<circle cx="554.18" cy="43.23" r="5.2" fill="#fff" stroke="#222" stroke-width="0.8"/>
<circle cx="581.66" cy="53.13" r="5.2" fill="#fff" stroke="#222" stroke-width="0.8"/>
<circle cx="609.14" cy="45.51" r="5.2" fill="#fff" stroke="#222" stroke-width="0.8"/>
<circle cx="636.62" cy="38.96" r="5.2" fill="#fff" stroke="#222" stroke-width="0.8"/>
<polygon points="538.2,136.2 538.99,137.81 540.77,138.07 539.48,139.32 539.79,141.08 538.2,140.25 536.61,141.08 536.92,139.32 535.63,138.07 537.41,137.81" fill="#111"/>
<polygon points="544.9,136.2 545.69,137.81 547.47,138.07 546.18,139.32 546.49,141.08 544.9,140.25 543.31,141.08 543.62,139.32 542.33,138.07 544.11,137.81" fill="#111"/>
<polygon points="551.6,136.2 552.39,137.81 554.17,138.07 552.88,139.32 553.19,141.08 551.6,140.25 550.01,141.08 550.32,139.32 549.03,138.07 550.81,137.81" fill="#111"/>
<polyline points="564,128.5 558.6,128.5 558.6,151.2 564,151.2" fill="none" stroke="#666" stroke-width="0.9" stroke-linejoin="round"/>
<circle cx="573.9" cy="128.4" r="5" fill="#fff" stroke="#222" stroke-width="0.8"/>
<circle cx="573.8" cy="151.1" r="5" fill="#f81010" stroke="#300" stroke-width="0.7"/>
<text x="585.2" y="132.9" style="font-size:12.6px">WT</text>
<text x="585.2" y="155.6" style="font-size:12.6px">PSKO</text>
<text x="48.4" y="260.8" style="font-size:14.2px" text-anchor="end">+40</text>
<text x="47.8" y="277.8" style="font-size:14.2px" text-anchor="end">mV</text>
<text x="48.4" y="351" style="font-size:14.2px" text-anchor="end">−70</text>
<line x1="53.9" y1="256.2" x2="64.3" y2="256.2" stroke="#444" stroke-width="0.9"/>
<line x1="53.9" y1="346.4" x2="64.3" y2="346.4" stroke="#444" stroke-width="0.9"/>
<text x="48.4" y="382.6" style="font-size:14.2px" text-anchor="end">+40</text>
<text x="47.8" y="399.6" style="font-size:14.2px" text-anchor="end">mV</text>
<text x="48.4" y="472.9" style="font-size:14.2px" text-anchor="end">−70</text>
<line x1="53.9" y1="378" x2="64.3" y2="378" stroke="#444" stroke-width="0.9"/>
<line x1="53.9" y1="468.3" x2="64.3" y2="468.3" stroke="#444" stroke-width="0.9"/>
<line x1="249" y1="315.7" x2="262.5" y2="315.7" stroke="#888" stroke-width="1.1"/>
<text x="268" y="320" style="font-size:14.2px">WT</text>
<line x1="249" y1="446" x2="262.5" y2="446" stroke="#e9a0a0" stroke-width="1.1"/>
<text x="268" y="451.1" style="font-size:14.2px">PSKO</text>
<polyline points="76.4,346.43 76.65,346.52 76.9,346.27 77.15,346.41 77.4,346.64 77.65,346.64 77.9,346.18 78.15,346.22 78.4,346.13 78.65,346.36 78.9,346.12 79.15,346.37 79.4,346.49 79.65,346.27 79.9,346.51 80.15,346.45 80.4,346.11 80.65,346.44 80.9,346.26 81.15,346.35 81.4,346.27 81.65,346.52 81.9,346.36 82.15,346.19 82.4,346.43 82.65,346.57 82.9,346.28 83.15,346.23 83.4,346.33 83.65,346.66 83.9,346.69 84.15,346.5 84.4,346.64 84.65,346.61 84.9,346.33 85.15,346.16 85.4,346.49 85.65,346.43 85.9,346.32 86.15,346.24 86.4,346.34 86.65,346.38 86.9,346.26 87.15,346.28 87.4,346.37 87.65,346.62 87.9,346.45 88.15,346.27 88.4,346.27 88.65,346.37 88.9,346.22 89.15,346.22 89.4,346.41 89.65,345.04 89.9,344.57 90.15,344.08 90.4,344.08 90.65,344.05 90.9,344.06 91.15,344.17 91.4,344.13 91.65,344.48 91.9,344.46 92.15,344.79 92.4,344.82 92.65,345.05 92.9,344.98 93.15,345.23 93.4,345.8 93.65,345.14 93.9,343.61 94.15,342.38 94.4,341.66 94.65,341.06 94.9,340.9 95.15,340.5 95.4,340.5 95.65,340.64 95.9,340.69 96.15,340.76 96.4,340.86 96.65,341.19 96.9,341.03 97.15,341.52 97.4,341.36 97.65,341.26 97.9,340.37 98.15,337.27 98.4,335.84 98.65,334.7 98.9,334.07 99.15,333.72 99.4,333.98 99.65,334.24 99.9,334.7 100.15,335.4 100.4,335.8 100.65,336.19 100.9,336.82 101.15,337.1 101.4,337.55 101.65,338.28 101.9,338.68 102.15,337.03 102.4,333.31 102.65,330.94 102.9,329.54 103.15,329.38 103.4,329.51 103.52,247.2 103.7,332.51 103.4,329.77 103.65,330.14 103.9,330.63 104.15,331.4 104.4,332.1 104.65,332.93 104.9,333.7 105.15,334.97 105.4,335.56 105.65,335.93 105.9,336.71 106.15,337.04 106.4,334.39 106.65,330.72 106.9,328.34 107.15,327.09 107.4,326.66 107.6,326.97 107.72,248.4 107.9,329.97 107.65,327.15 107.9,327.96 108.15,328.51 108.4,329.28 108.65,330.31 108.9,331.36 109.15,332.89 109.4,333.59 109.65,334.65 109.9,335.05 110.15,335.83 110.4,336.75 110.65,333.52 110.9,329.54 111.15,327.3 111.4,326.83 111.65,326.33 111.9,326.82 112.02,250.5 112.2,329.82 111.9,326.97 112.15,327.33 112.4,328.57 112.65,329.69 112.9,330.69 113.15,331.53 113.4,332.77 113.65,333.37 113.9,334.36 114.15,335.23 114.4,336.24 114.65,336.46 114.9,332.88 115.15,329.43 115.4,327.63 115.65,326.45 115.9,326.28 116.1,326.76 116.22,251.4 116.4,329.76 116.15,326.73 116.4,327.83 116.65,328.85 116.9,329.73 117.15,330.67 117.4,331.61 117.65,332.95 117.9,333.93 118.15,334.34 118.4,335.21 118.65,336.3 118.9,336.95 119.15,331.98 119.4,328.79 119.65,327.15 119.9,326.51 120.15,326.24 120.4,326.96 120.52,252.6 120.7,329.96 120.4,327.17 120.65,327.77 120.9,328.87 121.15,329.59 121.4,331.1 121.65,332.03 121.9,332.79 122.15,334.09 122.4,334.81 122.65,335.68 122.9,335.92 123.15,336.18 123.4,331.72 123.65,328.5 123.9,327.05 124.15,326.24 124.4,326.81 124.5,326.69 124.62,253.4 124.8,329.69 124.65,327.05 124.9,328.06 125.15,328.59 125.4,329.88 125.65,330.7 125.9,332.24 126.15,332.98 126.4,333.68 126.65,334.54 126.9,335.6 127.15,336.02 127.4,335.48 127.65,331.05 127.9,328.34 128.15,326.97 128.4,326.5 128.65,326.5 128.7,326.66 128.82,254.4 129,329.66 128.9,327.22 129.15,327.78 129.4,328.84 129.65,330.22 129.9,330.9 130.15,331.98 130.4,332.98 130.65,334.05 130.9,334.61 131.15,335.39 131.4,336.34 131.65,334.73 131.9,330.74 132.15,328.26 132.4,326.85 132.65,326.53 132.9,326.56 133,326.84 133.12,255 133.3,329.84 133.15,326.97 133.4,328.07 133.65,329.04 133.9,330.24 134.15,331.03 134.4,332.12 134.65,333.45 134.9,334.04 135.15,334.96 135.4,336.03 135.65,336.31 135.9,334.03 136.15,330.33 136.4,327.89 136.65,326.78 136.9,326.14 137.15,326.64 137.4,327.35 137.52,255.6 137.7,330.35 137.4,327.05 137.65,328.09 137.9,329.38 138.15,330.06 138.4,331.26 138.65,332.71 138.9,333.67 139.15,334.28 139.4,335.26 139.65,335.94 139.9,336.51 140.15,333.81 140.4,329.62 140.65,327.84 140.9,326.35 141.15,326.64 141.4,326.87 141.5,327 141.62,256.2 141.8,330 141.65,327.42 141.9,328.47 142.15,329.37 142.4,330.63 142.65,331.29 142.9,332.55 143.15,333.74 143.4,334.66 143.65,335.05 143.9,335.81 144.15,336.86 144.4,332.89 144.65,329.18 144.9,327.58 145.15,326.51 145.4,326.58 145.65,326.82 145.9,327.57 146.15,328.45 146.3,329.11 146.42,256.2 146.6,332.11 146.4,329.41 146.65,330.84 146.9,331.76 147.15,332.85 147.4,333.87 147.65,334.37 147.9,335.57 148.15,336.26 148.4,336.7 148.65,332.45 148.9,328.87 149.15,327.44 149.4,326.31 149.65,326.49 149.9,326.69 150.1,327.51 150.22,256.8 150.4,330.51 150.15,327.42 150.4,328.69 150.65,329.67 150.9,330.85 151.15,331.97 151.4,333.1 151.65,333.51 151.9,334.71 152.15,335.47 152.4,336.23 152.65,336.8 152.9,331.9 153.15,329.01 153.4,327.1 153.65,326.49 153.9,326.62 154.15,326.75 154.4,327.8 154.52,256.8 154.7,330.8 154.4,327.76 154.65,328.52 154.9,329.6 155.15,330.59 155.4,331.76 155.65,332.77 155.9,333.88 156.15,334.78 156.4,335.71 156.65,336.22 156.9,336.35 157.15,331.3 157.4,328.64 157.65,327.02 157.9,326.51 158.15,326.41 158.4,327.36 158.5,327.4 158.62,257.4 158.8,330.4 158.65,328.08 158.9,328.69 159.15,329.98 159.4,331.32 159.65,331.8 159.9,332.95 160.15,334.14 160.4,334.57 160.65,335.77 160.9,336.36 161.15,335.49 161.4,330.92 161.65,328.49 161.9,326.78 162.15,326.46 162.4,326.33 162.65,327.22 162.8,327.68 162.92,257.5 163.1,330.68 162.9,327.99 163.15,329.33 163.4,330.36 163.65,330.95 163.9,331.93 164.15,332.96 164.4,333.93 164.65,335.09 164.9,335.74 165.15,336.42 165.4,334.62 165.65,330.15 165.9,327.92 166.15,327.06 166.4,326.6 166.6,326.57 166.72,258.2 166.9,329.57 166.65,326.7 166.9,327.11 167.15,328.42 167.4,329.13 167.65,330.31 167.9,331.13 168.15,332.24 168.4,333.22 168.65,334.16 168.9,334.77 169.15,335.91 169.4,336.29 169.65,334.03 169.9,330.11 170.15,327.88 170.4,326.55 170.65,326.29 170.9,326.87 171.15,327.33 171.2,327.56 171.32,258.2 171.5,330.56 171.4,328.08 171.65,329.56 171.9,330.09 172.15,331.68 172.4,332.35 172.65,333.37 172.9,334.63 173.15,335.12 173.4,336.03 173.65,336.51 173.9,333.58 174.15,329.78 174.4,327.55 174.65,326.35 174.9,326.34 175.15,326.79 175.4,327.37 175.5,327.85 175.62,258.9 175.8,330.85 175.65,328.44 175.9,329.28 176.15,330.52 176.4,331.6 176.65,332.71 176.9,333.71 177.15,334.59 177.4,335.22 177.65,335.97 177.9,336.87 178.15,332.65 178.4,329.44 178.65,327.67 178.9,326.79 179.15,326.48 179.4,326.75 179.5,327.14 179.62,258.6 179.8,330.14 179.65,327.69 179.9,328.66 180.15,329.61 180.4,330.57 180.65,331.69 180.9,332.48 181.15,333.56 181.4,334.35 181.65,335.46 181.9,336.36 182.15,336.52 182.4,331.89 182.65,329.11 182.9,327.12 183.15,326.49 183.4,326.22 183.65,326.76 183.8,327.39 183.92,258.6 184.1,330.39 183.9,327.85 184.15,328.75 184.4,329.94 184.65,331.08 184.9,331.77 185.15,332.94 185.4,333.77 185.65,334.68 185.9,335.4 186.15,336.46 186.4,336.64 186.65,331.44 186.9,328.78 187.15,327.34 187.4,326.69 187.65,326.55 187.9,326.75 188.15,328.03 188.4,328.82 188.52,258.9 188.7,331.82 188.4,329.08 188.65,330.01 188.9,330.9 189.15,331.92 189.4,333.14 189.65,333.69 189.9,334.95 190.15,335.56 190.4,336 190.65,335.98 190.9,331.09 191.15,328.15 191.4,326.74 191.65,326.64 191.9,326.37 192.15,327.3 192.3,327.61 192.42,259.1 192.6,330.61 192.4,328.15 192.65,328.71 192.9,329.98 193.15,331.26 193.4,332.12 193.65,333.34 193.9,333.97 194.15,334.97 194.4,335.49 194.65,336.56 194.9,335.25 195.15,330.74 195.4,328.02 195.65,326.73 195.9,326.47 196.15,326.4 196.4,327.24 196.6,327.91 196.72,259.5 196.9,330.91 196.65,327.97 196.9,329 197.15,330.05 197.4,331.43 197.65,332.07 197.9,333.09 198.15,333.96 198.4,334.71 198.65,335.71 198.9,336.64 199.15,334.59 199.4,330.26 199.65,327.84 199.9,326.94 200.15,326.43 200.4,326.68 200.52,259.9 200.7,329.68 200.4,326.71 200.65,327.42 200.9,327.97 201.15,329.44 201.4,330.06 201.65,331.38 201.9,332.65 202.15,333.4 202.4,334.18 202.65,335.24 202.9,336.09 203.15,336.59 203.4,333.43 203.65,330.1 203.9,327.38 204.15,326.75 204.4,326.66 204.5,326.5 204.62,260.2 204.8,329.5 204.65,326.54 204.9,327.46 205.15,328.47 205.4,329.18 205.65,330.29 205.9,331.24 206.15,332.32 206.4,333.26 206.65,334.26 206.9,335.35 207.15,336.06 207.4,336.76 207.65,333.17 207.9,329.68 208.15,327.27 208.4,326.6 208.65,326.15 208.9,326.82 209.15,327.75 209.4,328.46 209.65,329.39 209.9,330.45 210.15,331.58 210.4,332.91 210.65,333.9 210.9,334.65 211.15,335.6 211.4,336.19 211.65,336.55 211.9,332.45 212.15,329.29 212.4,327.43 212.65,326.62 212.9,326.45 213.15,326.69 213.4,327.66 213.52,260.9 213.7,330.66 213.4,327.94 213.65,328.44 213.9,329.94 214.15,330.5 214.4,332.07 216,334 217.2,336 219,338.5 221.5,340.5 224,341.6 225.5,341.4 227,338.6 228.2,337.3 229.5,339.4 231,340.8 232.5,340.3 233.8,340.5" fill="none" stroke="#4a4a4a" stroke-width="0.55" stroke-linejoin="round"/>
<polyline points="76.3,467.97 76.55,468.74 76.8,467.95 77.05,468.8 77.3,468.29 77.55,468.43 77.8,468.62 78.05,468.32 78.3,468.06 78.55,467.93 78.8,467.8 79.05,468.59 79.3,468.23 79.55,467.89 79.8,468.76 80.05,468.03 80.3,468.2 80.55,468.06 80.8,468.45 81.05,468.4 81.3,468.42 81.55,468.02 81.8,468.04 82.05,468 82.3,468.09 82.55,467.87 82.8,467.9 83.05,468.86 83.3,468.85 83.55,467.93 83.8,467.73 84.05,467.95 84.3,468.54 84.55,468.64 84.8,467.73 85.05,468.39 85.3,467.7 85.55,468.32 85.8,468.47 86.05,468.88 86.3,468.01 86.55,468.66 86.8,468.74 87.05,468.81 87.3,467.7 87.55,468.26 87.8,468.88 88.05,468.18 88.3,468.68 88.55,468.36 88.8,468.63 89.05,468.28 89.3,467.73 89.55,465.6 89.8,463.02 90.05,461.6 90.3,461.6 90.55,460.86 90.8,459.94 91.05,459.81 91.3,460.21 91.55,460.84 91.8,461.43 92.05,461.88 92.3,462.23 92.55,461.78 92.8,462.5 93.05,462.46 93.3,463.39 93.55,463.97 93.8,460.24 94.05,457.73 94.3,456.37 94.55,455.45 94.8,455.89 95.05,455.51 95.3,456.25 95.55,456.61 95.8,457.34 96.05,458.41 96.3,459.06 96.55,458.68 96.8,460.13 97.05,460.05 97.3,460.23 97.55,460.98 97.8,461.5 98.05,459.56 98.3,456.98 98.55,455.5 98.8,456.05 99.05,455.09 99.3,455.73 99.55,456.55 99.8,456.63 100.05,457.07 100.3,458.03 100.55,457.61 100.8,458.77 101.05,459.03 101.3,460.12 101.55,460.27 101.8,459.69 102.05,460.13 102.3,457.85 102.55,456.53 102.8,455.18 103.05,454.82 103.3,455.44 103.55,455.66 103.8,455.34 104.05,456.34 104.3,456.11 104.55,456.28 104.8,457.26 105.05,457.85 105.3,458.51 105.55,458.95 105.8,459.03 106.05,459.28 106.3,458.75 106.55,454.58 106.8,452.07 107.05,450.86 107.3,449.48 107.55,449.03 107.8,449.49 108.05,449.99 108.3,450.81 108.55,452.07 108.8,451.91 109.05,453.11 109.3,454.24 109.55,454.22 109.8,454.56 110.05,455.3 110.3,455.57 110.55,455.55 110.8,451.3 111.05,449.23 111.3,448.86 111.55,448.44 111.8,448.24 112.05,449 112.3,448.55 112.55,450.32 112.8,450.57 113.05,450.98 113.3,452.32 113.55,452.79 113.8,453.8 114.05,453.3 114.3,454.36 114.55,454.67 114.8,453.39 115.05,449.64 115.3,447.45 115.55,447.06 115.8,446.49 116.05,448.15 116.3,448.12 116.55,448.74 116.8,449.77 117.05,450.45 117.3,451.78 117.55,452.37 117.8,452.76 118.05,453.11 118.3,454.21 118.55,454.96 118.8,455.48 119.05,453.87 119.3,450.09 119.55,448.7 119.8,447.93 120.05,447.63 120.3,447.92 120.4,448.26 120.52,371.5 120.7,451.26 120.55,448.56 120.8,449.31 121.05,449.73 121.3,450.36 121.55,451.35 121.8,451.9 122.05,452.83 122.3,453.93 122.55,454.44 122.8,455.46 123.05,455.42 123.3,453.9 123.55,452.32 123.8,451.5 124.05,450.99 124.3,450.96 124.5,451.05 124.62,372.4 124.8,454.05 124.55,451.24 124.8,451.36 125.05,452.38 125.3,452.73 125.55,452.94 125.8,453.43 126.05,453.76 126.3,454.59 126.55,454.65 126.8,455.25 127.05,455.51 127.3,456.11 127.55,453.57 127.8,451.63 128.05,450.58 128.3,449.83 128.55,449.18 128.8,450.29 129.05,450.54 129.2,450.6 129.32,373.5 129.5,453.6 129.3,450.84 129.55,451.65 129.8,452.15 130.05,452.4 130.3,453.6 130.55,454.6 130.8,454.89 131.05,454.68 131.3,455.06 131.55,456.44 131.8,452.11 132.05,448.93 132.3,447.27 132.55,445.79 132.8,446.5 133.05,446.11 133.3,446.7 133.55,447.8 133.8,448.2 134.05,450.13 134.3,450.22 134.55,451.78 134.8,452.41 135.05,453.39 135.3,453.87 135.55,454.93 135.8,454.61 136.05,452.48 136.3,450.98 136.55,450.82 136.8,450.13 137.05,450.89 137.3,450.41 137.55,451.09 137.8,451.91 138.05,452.13 138.3,452.83 138.55,454.17 138.8,454.16 139.05,454.48 139.3,455.7 139.55,455.8 139.8,456.24 140.05,455.85 140.3,451.51 140.55,448.45 140.8,446.77 141.05,446.87 141.3,447.08 141.55,447.6 141.6,447.34 141.72,374.1 141.9,450.34 141.8,447.5 142.05,448.82 142.3,450.03 142.55,450.09 142.8,450.98 143.05,451.95 143.3,452.89 143.55,454.09 143.8,454.25 144.05,455.18 144.3,453.67 144.55,449.7 144.8,447.27 145.05,446.2 145.3,446.36 145.55,445.81 145.8,446.29 146.05,447.13 146.3,448.54 146.55,449.09 146.8,449.82 147.05,450.86 147.3,451.41 147.55,452.62 147.8,453.8 148.05,454.01 148.3,454.6 148.55,453.22 148.8,451.68 149.05,450.42 149.3,449.96 149.55,450.92 149.8,450.99 150.05,451.56 150.1,451.26 150.22,374.6 150.4,454.26 150.3,451.25 150.55,452.12 150.8,453.37 151.05,453.38 151.3,454.54 151.55,455.11 151.8,454.45 152.05,455.41 152.3,455.99 152.55,456.06 152.8,453.72 153.05,450.66 153.3,448.73 153.55,447.61 153.8,448.21 154.05,448.72 154.3,448.03 154.4,448.83 154.52,376.2 154.7,451.83 154.55,449.66 154.8,450.02 155.05,450.17 155.3,451.01 155.55,452.31 155.8,452.52 156.05,453.41 156.3,454 156.55,455.38 156.8,455.27 157.05,452.46 157.3,450.69 157.55,449.29 157.8,448.36 158.05,447.58 158.3,448.77 158.4,448.5 158.52,376.2 158.7,451.5 158.55,448.77 158.8,449.86 159.05,450.54 159.3,451.24 159.55,452.14 159.8,452.94 160.05,453.21 160.3,453.88 160.55,454 160.8,454.85 161.05,455.94 161.3,451.96 161.55,450.13 161.8,448.83 162.05,447.51 162.3,448.16 162.5,448.08 162.62,376.2 162.8,451.08 162.55,448.36 162.8,449.3 163.05,449.3 163.3,450.51 163.55,451.41 163.8,451.63 164.05,452.19 164.3,453.07 164.55,454.06 164.8,454.17 165.05,455.42 165.3,455.22 165.55,452.42 165.8,449.78 166.05,448.86 166.3,448.87 166.55,448.44 166.8,448.97 167.05,449.19 167.3,450.02 167.55,450.27 167.8,451.57 168.05,452.22 168.3,452.74 168.55,453.24 168.8,454.04 169.05,454.54 169.3,455.11 169.55,455.65 169.8,452.93 170.05,451.26 170.3,449.79 170.55,450.07 170.8,449.79 171.05,450.63 171.3,450.11 171.55,451.48 171.8,451.93 172.05,452.51 172.3,453.44 172.55,454.14 172.8,454.71 173.05,454.65 173.3,455.17 173.55,455.85 173.8,454.62 174.05,452.81 174.3,450.91 174.55,449.9 174.8,449.86 175.05,450.35 175.3,450.53 175.5,450.57 175.62,376.8 175.8,453.57 175.55,450.87 175.8,450.94 176.05,452.5 176.3,452.45 176.55,453.71 176.8,453.83 177.05,454.6 177.3,455.37 177.55,454.84 177.8,455.54 178.05,454.07 178.3,450.79 178.55,449.3 178.8,449.05 179.05,447.95 179.3,447.92 179.55,449.35 179.8,449.42 180.05,450.1 180.3,451.11 180.55,452.03 180.8,452.06 181.05,452.72 181.3,453.64 181.55,454.74 181.8,455.38 182.05,454.98 182.3,453.98 182.55,451.15 182.8,450.21 183.05,448.82 183.3,448.64 183.55,448.56 183.8,450.04 184.05,449.79 184.3,450.61 184.5,451.44 184.62,377.2 184.8,454.44 184.55,451.28 184.8,452.8 185.05,452.47 185.3,453.42 185.55,454.42 185.8,454.35 186.05,455.33 186.3,455.59 186.55,452.34 186.8,449.91 187.05,447.79 187.3,446.76 187.55,447.47 187.8,447.56 188.05,447.63 188.3,448.2 188.55,448.65 188.6,449.4 188.72,377.8 188.9,452.4 188.8,450.37 189.05,450.66 189.3,451.78 189.55,452.7 189.8,453.57 190.05,453.51 190.3,454.03 190.55,455.38 190.8,452.01 191.05,450.23 191.3,448.57 191.55,448.28 191.8,448.25 192.05,449.35 192.3,449.77 192.55,449.83 192.7,450.56 192.82,378.9 193,453.56 192.8,450.96 193.05,451.58 193.3,451.82 193.55,452.83 193.8,453.95 194.05,453.8 194.3,454.48 194.55,455.11 194.8,455.12 195.05,453.66 195.3,451.52 195.55,450.92 195.8,450.44 196.05,450.78 196.3,450.93 196.55,451.07 196.8,451.29 197.05,452.25 197.3,452.35 197.55,453.02 197.8,454.49 198.05,454.64 198.3,455.45 198.55,455.83 198.8,455.97 199.05,456.44 199.3,454.01 199.55,452.39 199.8,450.68 200.05,451.13 200.3,450.64 200.4,450.77 200.52,377.2 200.7,453.77 200.55,450.61 200.8,451.3 201.05,452.04 201.3,452.98 201.55,453.58 201.8,453.75 202.05,454.59 202.3,454.77 202.55,454.71 202.8,455.55 203.05,456.25 203.3,456.11 203.55,453.71 203.8,451.51 204.05,451.62 204.3,451.73 204.55,450.89 204.8,451.79 205.05,451.6 205.3,452.79 205.55,453.54 205.8,453.21 206.05,454.49 206.3,454.36 206.55,455.52 206.8,454.94 207.05,456.2 207.3,455.9 207.55,454.88 207.8,451.01 208.05,449.6 208.3,447.71 208.55,447.46 208.8,447.54 209.05,447.83 209.3,448.39 209.55,449.76 209.8,450.35 210.05,451.39 210.3,451.44 210.55,452.66 210.8,452.8 211.05,453.46 211.3,454.45 211.55,455.17 211.8,454.16 212.05,451.58 212.3,449.62 212.55,449.33 212.8,449.64 213.05,450.11 213.3,450.49 213.5,450.46 213.62,378.6 213.8,453.46 213.55,450.58 213.8,451.76 214.05,451.62 214.3,452.73 216,458 217.2,461 219,464 221,467.5 223.3,469.1 224.8,467 226,464.4 227.5,466.5 229.5,468.8 232,470.8 234,471.8 236.1,472.5" fill="none" stroke="#e64848" stroke-width="0.58" stroke-linejoin="round"/>
<text x="531.6" y="259.8" style="font-size:14.5px" text-anchor="middle">Spike transmission in 20 Hz trains</text>
<line x1="390.6" y1="275.2" x2="390.6" y2="430.6" stroke="#000" stroke-width="1.1"/>
<line x1="387.4" y1="426.9" x2="644.8" y2="426.9" stroke="#000" stroke-width="1.1"/>
<line x1="387.3" y1="426.9" x2="390.6" y2="426.9" stroke="#000" stroke-width="1.1"/>
<text x="381" y="431.9" style="font-size:14px" text-anchor="end">0.0</text>
<line x1="387.3" y1="389" x2="390.6" y2="389" stroke="#000" stroke-width="1.1"/>
<text x="381" y="394" style="font-size:14px" text-anchor="end">0.2</text>
<line x1="387.3" y1="351.1" x2="390.6" y2="351.1" stroke="#000" stroke-width="1.1"/>
<text x="381" y="356.1" style="font-size:14px" text-anchor="end">0.4</text>
<line x1="387.3" y1="313.2" x2="390.6" y2="313.2" stroke="#000" stroke-width="1.1"/>
<text x="381" y="318.2" style="font-size:14px" text-anchor="end">0.6</text>
<line x1="387.3" y1="275.3" x2="390.6" y2="275.3" stroke="#000" stroke-width="1.1"/>
<text x="381" y="280.3" style="font-size:14px" text-anchor="end">0.8</text>
<line x1="390.8" y1="426.9" x2="390.8" y2="430.5" stroke="#000" stroke-width="1.1"/>
<text x="390.8" y="447.3" style="font-size:14px" text-anchor="middle">0</text>
<line x1="433.13" y1="426.9" x2="433.13" y2="430.5" stroke="#000" stroke-width="1.1"/>
<text x="433.13" y="447.3" style="font-size:14px" text-anchor="middle">5</text>
<line x1="475.47" y1="426.9" x2="475.47" y2="430.5" stroke="#000" stroke-width="1.1"/>
<text x="475.47" y="447.3" style="font-size:14px" text-anchor="middle">10</text>
<line x1="517.81" y1="426.9" x2="517.81" y2="430.5" stroke="#000" stroke-width="1.1"/>
<text x="517.81" y="447.3" style="font-size:14px" text-anchor="middle">15</text>
<line x1="560.14" y1="426.9" x2="560.14" y2="430.5" stroke="#000" stroke-width="1.1"/>
<text x="560.14" y="447.3" style="font-size:14px" text-anchor="middle">20</text>
<line x1="602.48" y1="426.9" x2="602.48" y2="430.5" stroke="#000" stroke-width="1.1"/>
<text x="602.48" y="447.3" style="font-size:14px" text-anchor="middle">25</text>
<line x1="644.81" y1="426.9" x2="644.81" y2="430.5" stroke="#000" stroke-width="1.1"/>
<text x="644.81" y="447.3" style="font-size:14px" text-anchor="middle">30</text>
<text x="517.6" y="466.8" style="font-size:14.9px" text-anchor="middle">Stimulus #</text>
<text x="0" y="0" transform="translate(351.6 350) rotate(-90)" style="font-size:14.5px" text-anchor="middle">Fraction</text>
<line x1="400.33" y1="423.6" x2="400.33" y2="426.6" stroke="#9a9a9a" stroke-width="1.2"/>
<line x1="400.33" y1="423.6" x2="400.33" y2="426.6" stroke="#9a9a9a" stroke-width="1.2"/>
<line x1="408.76" y1="415.5" x2="408.76" y2="423.5" stroke="#9a9a9a" stroke-width="1.2"/>
<line x1="408.76" y1="408.1" x2="408.76" y2="418.1" stroke="#9a9a9a" stroke-width="1.2"/>
<line x1="417.19" y1="374.6" x2="417.19" y2="402.6" stroke="#9a9a9a" stroke-width="1.2"/>
<line x1="417.19" y1="394.1" x2="417.19" y2="412.1" stroke="#9a9a9a" stroke-width="1.2"/>
<line x1="425.62" y1="349.9" x2="425.62" y2="383.9" stroke="#9a9a9a" stroke-width="1.2"/>
<line x1="425.62" y1="363.3" x2="425.62" y2="387.3" stroke="#9a9a9a" stroke-width="1.2"/>
<line x1="434.05" y1="324.2" x2="434.05" y2="362.2" stroke="#9a9a9a" stroke-width="1.2"/>
<line x1="434.05" y1="358.1" x2="434.05" y2="386.1" stroke="#9a9a9a" stroke-width="1.2"/>
<line x1="442.48" y1="313.4" x2="442.48" y2="349.4" stroke="#9a9a9a" stroke-width="1.2"/>
<line x1="442.48" y1="341.2" x2="442.48" y2="369.2" stroke="#9a9a9a" stroke-width="1.2"/>
<line x1="450.91" y1="291.5" x2="450.91" y2="329.5" stroke="#9a9a9a" stroke-width="1.2"/>
<line x1="450.91" y1="324.3" x2="450.91" y2="352.3" stroke="#9a9a9a" stroke-width="1.2"/>
<line x1="459.34" y1="297.3" x2="459.34" y2="333.3" stroke="#9a9a9a" stroke-width="1.2"/>
<line x1="459.34" y1="328.7" x2="459.34" y2="356.7" stroke="#9a9a9a" stroke-width="1.2"/>
<line x1="467.77" y1="304.3" x2="467.77" y2="340.3" stroke="#9a9a9a" stroke-width="1.2"/>
<line x1="467.77" y1="328.7" x2="467.77" y2="356.7" stroke="#9a9a9a" stroke-width="1.2"/>
<line x1="476.2" y1="288.4" x2="476.2" y2="322.4" stroke="#9a9a9a" stroke-width="1.2"/>
<line x1="476.2" y1="328.7" x2="476.2" y2="356.7" stroke="#9a9a9a" stroke-width="1.2"/>
<line x1="484.63" y1="303.14" x2="484.63" y2="331.66" stroke="#9a9a9a" stroke-width="1.2"/>
<line x1="484.63" y1="314.95" x2="484.63" y2="344.05" stroke="#9a9a9a" stroke-width="1.2"/>
<line x1="493.06" y1="301.86" x2="493.06" y2="328.14" stroke="#9a9a9a" stroke-width="1.2"/>
<line x1="493.06" y1="320.99" x2="493.06" y2="350.81" stroke="#9a9a9a" stroke-width="1.2"/>
<line x1="501.49" y1="303.56" x2="501.49" y2="336.04" stroke="#9a9a9a" stroke-width="1.2"/>
<line x1="501.49" y1="315.83" x2="501.49" y2="339.97" stroke="#9a9a9a" stroke-width="1.2"/>
<line x1="509.92" y1="294.53" x2="509.92" y2="330.67" stroke="#9a9a9a" stroke-width="1.2"/>
<line x1="509.92" y1="311.19" x2="509.92" y2="335.01" stroke="#9a9a9a" stroke-width="1.2"/>
<line x1="518.35" y1="282.16" x2="518.35" y2="314.04" stroke="#9a9a9a" stroke-width="1.2"/>
<line x1="518.35" y1="325.23" x2="518.35" y2="346.57" stroke="#9a9a9a" stroke-width="1.2"/>
<line x1="526.78" y1="293.8" x2="526.78" y2="326.6" stroke="#9a9a9a" stroke-width="1.2"/>
<line x1="526.78" y1="318.7" x2="526.78" y2="339.7" stroke="#9a9a9a" stroke-width="1.2"/>
<line x1="535.21" y1="287.41" x2="535.21" y2="313.59" stroke="#9a9a9a" stroke-width="1.2"/>
<line x1="535.21" y1="324.02" x2="535.21" y2="352.58" stroke="#9a9a9a" stroke-width="1.2"/>
<line x1="543.64" y1="296.19" x2="543.64" y2="329.01" stroke="#9a9a9a" stroke-width="1.2"/>
<line x1="543.64" y1="326.3" x2="543.64" y2="353.5" stroke="#9a9a9a" stroke-width="1.2"/>
<line x1="552.07" y1="290.61" x2="552.07" y2="329.79" stroke="#9a9a9a" stroke-width="1.2"/>
<line x1="552.07" y1="336.07" x2="552.07" y2="356.73" stroke="#9a9a9a" stroke-width="1.2"/>
<line x1="560.5" y1="271.94" x2="560.5" y2="309.86" stroke="#9a9a9a" stroke-width="1.2"/>
<line x1="560.5" y1="333.52" x2="560.5" y2="359.28" stroke="#9a9a9a" stroke-width="1.2"/>
<line x1="568.93" y1="282.39" x2="568.93" y2="318.61" stroke="#9a9a9a" stroke-width="1.2"/>
<line x1="568.93" y1="323.19" x2="568.93" y2="348.01" stroke="#9a9a9a" stroke-width="1.2"/>
<line x1="577.36" y1="298.84" x2="577.36" y2="326.36" stroke="#9a9a9a" stroke-width="1.2"/>
<line x1="577.36" y1="341.71" x2="577.36" y2="371.89" stroke="#9a9a9a" stroke-width="1.2"/>
<line x1="585.79" y1="286.14" x2="585.79" y2="324.66" stroke="#9a9a9a" stroke-width="1.2"/>
<line x1="585.79" y1="321.29" x2="585.79" y2="349.91" stroke="#9a9a9a" stroke-width="1.2"/>
<line x1="594.22" y1="284" x2="594.22" y2="322" stroke="#9a9a9a" stroke-width="1.2"/>
<line x1="594.22" y1="329.99" x2="594.22" y2="357.21" stroke="#9a9a9a" stroke-width="1.2"/>
<line x1="602.65" y1="288.84" x2="602.65" y2="317.16" stroke="#9a9a9a" stroke-width="1.2"/>
<line x1="602.65" y1="325.49" x2="602.65" y2="352.11" stroke="#9a9a9a" stroke-width="1.2"/>
<line x1="611.08" y1="295.17" x2="611.08" y2="330.03" stroke="#9a9a9a" stroke-width="1.2"/>
<line x1="611.08" y1="324.21" x2="611.08" y2="355.59" stroke="#9a9a9a" stroke-width="1.2"/>
<line x1="619.51" y1="301.86" x2="619.51" y2="328.14" stroke="#9a9a9a" stroke-width="1.2"/>
<line x1="619.51" y1="326.78" x2="619.51" y2="358.62" stroke="#9a9a9a" stroke-width="1.2"/>
<line x1="627.94" y1="310.88" x2="627.94" y2="338.52" stroke="#9a9a9a" stroke-width="1.2"/>
<line x1="627.94" y1="336.47" x2="627.94" y2="360.53" stroke="#9a9a9a" stroke-width="1.2"/>
<line x1="636.37" y1="290.19" x2="636.37" y2="320.61" stroke="#9a9a9a" stroke-width="1.2"/>
<line x1="636.37" y1="343.76" x2="636.37" y2="366.64" stroke="#9a9a9a" stroke-width="1.2"/>
<line x1="644.8" y1="292.89" x2="644.8" y2="321.11" stroke="#9a9a9a" stroke-width="1.2"/>
<line x1="644.8" y1="330.02" x2="644.8" y2="359.58" stroke="#9a9a9a" stroke-width="1.2"/>
<line x1="644.8" y1="330.3" x2="644.8" y2="358.4" stroke="#222" stroke-width="1.3"/>
<polyline points="400.3,419.5 401.6,416.45 403.39,412.24 405.51,407.25 407.83,401.85 410.2,396.41 412.5,391.3 414.83,386.24 417.34,380.87 419.91,375.47 422.41,370.29 424.75,365.61 426.8,361.7 428.43,358.77 429.72,356.65 430.83,355.03 431.95,353.59 433.25,352.02 434.9,350 436.98,347.49 439.35,344.72 441.91,341.82 444.53,338.91 447.1,336.1 449.5,333.5 451.72,331.08 453.84,328.75 455.91,326.52 457.97,324.4 460.09,322.42 462.3,320.6 464.56,318.96 466.83,317.51 469.15,316.19 471.56,314.97 474.09,313.78 476.8,312.6 479.76,311.4 482.96,310.21 486.29,309.06 489.65,307.99 492.92,307.03 496,306.2 498.88,305.52 501.63,304.97 504.3,304.52 506.93,304.16 509.55,303.86 512.2,303.6 514.88,303.39 517.54,303.26 520.21,303.19 522.87,303.16 525.53,303.17 528.2,303.2 530.88,303.25 533.56,303.35 536.24,303.47 538.93,303.63 541.62,303.81 544.3,304 546.94,304.21 549.54,304.45 552.13,304.71 554.77,304.99 557.51,305.28 560.4,305.6 563.32,305.92 566.21,306.25 569.21,306.59 572.42,306.97 575.98,307.4 580,307.9 584.61,308.47 589.74,309.11 595.22,309.81 600.87,310.53 606.52,311.27 612,312 617.72,312.79 623.88,313.67 630.05,314.56 635.77,315.39 640.61,316.09 644.1,316.6" fill="none" stroke="#111" stroke-width="2" stroke-linejoin="round"/>
<polyline points="400.3,419.5 402.21,416.58 404.92,412.41 408.09,407.54 411.39,402.49 414.47,397.8 417,394 418.87,391.25 420.34,389.14 421.59,387.39 422.81,385.71 424.19,383.81 425.9,381.4 428.04,378.31 430.47,374.73 433.05,370.93 435.64,367.17 438.11,363.71 440.3,360.8 442.16,358.51 443.79,356.63 445.28,355.04 446.75,353.64 448.29,352.3 450,350.9 451.87,349.47 453.83,348.1 455.85,346.79 457.94,345.54 460.09,344.34 462.3,343.2 464.53,342.12 466.8,341.12 469.12,340.18 471.54,339.27 474.09,338.38 476.8,337.5 479.76,336.59 482.96,335.65 486.29,334.74 489.65,333.89 492.92,333.16 496,332.6 498.88,332.22 501.63,331.99 504.3,331.88 506.93,331.84 509.55,331.86 512.2,331.9 514.88,331.97 517.54,332.1 520.21,332.27 522.87,332.49 525.53,332.74 528.2,333 530.88,333.29 533.56,333.61 536.24,333.97 538.93,334.34 541.62,334.72 544.3,335.1 546.94,335.47 549.54,335.85 552.13,336.23 554.77,336.63 557.51,337.05 560.4,337.5 563.32,337.96 566.21,338.41 569.21,338.89 572.42,339.41 575.98,340.01 580,340.7 584.61,341.5 589.74,342.4 595.22,343.37 600.87,344.4 606.52,345.45 612,346.5 617.72,347.65 623.88,348.94 630.05,350.26 635.77,351.5 640.61,352.55 644.1,353.3" fill="none" stroke="#111" stroke-width="2" stroke-linejoin="round"/>
<circle cx="400.33" cy="425.1" r="5" fill="#f81010" stroke="#300" stroke-width="0.7"/>
<circle cx="408.76" cy="413.1" r="5" fill="#f81010" stroke="#300" stroke-width="0.7"/>
<circle cx="417.19" cy="403.1" r="5" fill="#f81010" stroke="#300" stroke-width="0.7"/>
<circle cx="425.62" cy="375.3" r="5" fill="#f81010" stroke="#300" stroke-width="0.7"/>
<circle cx="434.05" cy="372.1" r="5" fill="#f81010" stroke="#300" stroke-width="0.7"/>
<circle cx="442.48" cy="355.2" r="5" fill="#f81010" stroke="#300" stroke-width="0.7"/>
<circle cx="450.91" cy="338.3" r="5" fill="#f81010" stroke="#300" stroke-width="0.7"/>
<circle cx="459.34" cy="342.7" r="5" fill="#f81010" stroke="#300" stroke-width="0.7"/>
<circle cx="467.77" cy="342.7" r="5" fill="#f81010" stroke="#300" stroke-width="0.7"/>
<circle cx="476.2" cy="342.7" r="5" fill="#f81010" stroke="#300" stroke-width="0.7"/>
<circle cx="484.63" cy="329.5" r="5" fill="#f81010" stroke="#300" stroke-width="0.7"/>
<circle cx="493.06" cy="335.9" r="5" fill="#f81010" stroke="#300" stroke-width="0.7"/>
<circle cx="501.49" cy="327.9" r="5" fill="#f81010" stroke="#300" stroke-width="0.7"/>
<circle cx="509.92" cy="323.1" r="5" fill="#f81010" stroke="#300" stroke-width="0.7"/>
<circle cx="518.35" cy="335.9" r="5" fill="#f81010" stroke="#300" stroke-width="0.7"/>
<circle cx="526.78" cy="329.2" r="5" fill="#f81010" stroke="#300" stroke-width="0.7"/>
<circle cx="535.21" cy="338.3" r="5" fill="#f81010" stroke="#300" stroke-width="0.7"/>
<circle cx="543.64" cy="339.9" r="5" fill="#f81010" stroke="#300" stroke-width="0.7"/>
<circle cx="552.07" cy="346.4" r="5" fill="#f81010" stroke="#300" stroke-width="0.7"/>
<circle cx="560.5" cy="346.4" r="5" fill="#f81010" stroke="#300" stroke-width="0.7"/>
<circle cx="568.93" cy="335.6" r="5" fill="#f81010" stroke="#300" stroke-width="0.7"/>
<circle cx="577.36" cy="356.8" r="5" fill="#f81010" stroke="#300" stroke-width="0.7"/>
<circle cx="585.79" cy="335.6" r="5" fill="#f81010" stroke="#300" stroke-width="0.7"/>
<circle cx="594.22" cy="343.6" r="5" fill="#f81010" stroke="#300" stroke-width="0.7"/>
<circle cx="602.65" cy="338.8" r="5" fill="#f81010" stroke="#300" stroke-width="0.7"/>
<circle cx="611.08" cy="339.9" r="5" fill="#f81010" stroke="#300" stroke-width="0.7"/>
<circle cx="619.51" cy="342.7" r="5" fill="#f81010" stroke="#300" stroke-width="0.7"/>
<circle cx="627.94" cy="348.5" r="5" fill="#f81010" stroke="#300" stroke-width="0.7"/>
<circle cx="636.37" cy="355.2" r="5" fill="#f81010" stroke="#300" stroke-width="0.7"/>
<circle cx="644.8" cy="344.8" r="5" fill="#f81010" stroke="#300" stroke-width="0.7"/>
<circle cx="400.33" cy="425.1" r="5" fill="#fff" stroke="#222" stroke-width="0.8"/>
<circle cx="408.76" cy="419.5" r="5" fill="#fff" stroke="#222" stroke-width="0.8"/>
<circle cx="417.19" cy="388.6" r="5" fill="#fff" stroke="#222" stroke-width="0.8"/>
<circle cx="425.62" cy="366.9" r="5" fill="#fff" stroke="#222" stroke-width="0.8"/>
<circle cx="434.05" cy="343.2" r="5" fill="#fff" stroke="#222" stroke-width="0.8"/>
<circle cx="442.48" cy="331.4" r="5" fill="#fff" stroke="#222" stroke-width="0.8"/>
<circle cx="450.91" cy="310.5" r="5" fill="#fff" stroke="#222" stroke-width="0.8"/>
<circle cx="459.34" cy="315.3" r="5" fill="#fff" stroke="#222" stroke-width="0.8"/>
<circle cx="467.77" cy="322.3" r="5" fill="#fff" stroke="#222" stroke-width="0.8"/>
<circle cx="476.2" cy="305.4" r="5" fill="#fff" stroke="#222" stroke-width="0.8"/>
<circle cx="484.63" cy="317.4" r="5" fill="#fff" stroke="#222" stroke-width="0.8"/>
<circle cx="493.06" cy="315" r="5" fill="#fff" stroke="#222" stroke-width="0.8"/>
<circle cx="501.49" cy="319.8" r="5" fill="#fff" stroke="#222" stroke-width="0.8"/>
<circle cx="509.92" cy="312.6" r="5" fill="#fff" stroke="#222" stroke-width="0.8"/>
<circle cx="518.35" cy="298.1" r="5" fill="#fff" stroke="#222" stroke-width="0.8"/>
<circle cx="526.78" cy="310.2" r="5" fill="#fff" stroke="#222" stroke-width="0.8"/>
<circle cx="535.21" cy="300.5" r="5" fill="#fff" stroke="#222" stroke-width="0.8"/>
<circle cx="543.64" cy="312.6" r="5" fill="#fff" stroke="#222" stroke-width="0.8"/>
<circle cx="552.07" cy="310.2" r="5" fill="#fff" stroke="#222" stroke-width="0.8"/>
<circle cx="560.5" cy="290.9" r="5" fill="#fff" stroke="#222" stroke-width="0.8"/>
<circle cx="568.93" cy="300.5" r="5" fill="#fff" stroke="#222" stroke-width="0.8"/>
<circle cx="577.36" cy="312.6" r="5" fill="#fff" stroke="#222" stroke-width="0.8"/>
<circle cx="585.79" cy="305.4" r="5" fill="#fff" stroke="#222" stroke-width="0.8"/>
<circle cx="594.22" cy="303" r="5" fill="#fff" stroke="#222" stroke-width="0.8"/>
<circle cx="602.65" cy="303" r="5" fill="#fff" stroke="#222" stroke-width="0.8"/>
<circle cx="611.08" cy="312.6" r="5" fill="#fff" stroke="#222" stroke-width="0.8"/>
<circle cx="619.51" cy="315" r="5" fill="#fff" stroke="#222" stroke-width="0.8"/>
<circle cx="627.94" cy="324.7" r="5" fill="#fff" stroke="#222" stroke-width="0.8"/>
<circle cx="636.37" cy="305.4" r="5" fill="#fff" stroke="#222" stroke-width="0.8"/>
<circle cx="644.8" cy="307" r="5" fill="#fff" stroke="#222" stroke-width="0.8"/>
<polygon points="541.4,401.2 542.22,402.87 544.06,403.13 542.73,404.43 543.05,406.27 541.4,405.4 539.75,406.27 540.07,404.43 538.74,403.13 540.58,402.87" fill="#111"/>
<polygon points="547.9,401.2 548.72,402.87 550.56,403.13 549.23,404.43 549.55,406.27 547.9,405.4 546.25,406.27 546.57,404.43 545.24,403.13 547.08,402.87" fill="#111"/>
<polygon points="554.4,401.2 555.22,402.87 557.06,403.13 555.73,404.43 556.05,406.27 554.4,405.4 552.75,406.27 553.07,404.43 551.74,403.13 553.58,402.87" fill="#111"/>
<polyline points="564,392.5 558.8,392.5 558.8,413.1 564,413.1" fill="none" stroke="#666" stroke-width="0.9" stroke-linejoin="round"/>
<circle cx="574.1" cy="391.8" r="5" fill="#fff" stroke="#222" stroke-width="0.8"/>
<circle cx="574.1" cy="413.1" r="5" fill="#f81010" stroke="#300" stroke-width="0.7"/>
<text x="585" y="396.2" style="font-size:12.6px">WT</text>
<text x="585" y="417.4" style="font-size:12.6px">PSKO</text>
<line x1="111.5" y1="537.2" x2="124.7" y2="537.2" stroke="#555" stroke-width="1"/>
<text x="131.6" y="541.7" style="font-size:12.6px">WT</text>
<line x1="195.8" y1="537.2" x2="209" y2="537.2" stroke="#e98070" stroke-width="1"/>
<text x="215.2" y="541.7" style="font-size:12.6px">PSKO</text>
<line x1="34.5" y1="647.8" x2="34.5" y2="705.5" stroke="#555" stroke-width="0.9"/>
<line x1="34.1" y1="705.3" x2="62.5" y2="705.3" stroke="#555" stroke-width="0.9"/>
<text x="28" y="668.9" style="font-size:13px" text-anchor="end">200</text>
<text x="28" y="689.2" style="font-size:13px" text-anchor="end">pA</text>
<text x="27.6" y="720.6" style="font-size:12.6px">250 ms</text>
<polyline points="28.9,532.4 39.1,532.4 39.6,570 40.08,557.84 40.56,549.98 41.04,544.91 41.52,541.62 42,539.5 42.4,600 42.88,581.27 43.36,569.16 43.84,561.33 44.32,556.27 44.8,553 45.2,646 45.68,618.9 46.16,601.38 46.64,590.05 47.12,582.73 47.6,578 48,691 48.48,651.08 48.96,625.27 49.44,608.59 49.92,597.81 50.4,590.84 50.8,697.94 51.28,656.12 51.76,629.09 52.24,611.62 52.72,600.32 53.2,593.02 53.6,686.82 54.08,650.84 54.56,627.58 55.04,612.55 55.52,602.83 56,596.55 56.4,692.79 56.88,652.68 57.36,626.75 57.84,609.99 58.32,599.15 58.8,592.15 59.2,691.14 59.68,652.4 60.16,627.36 60.64,611.17 61.12,600.7 61.6,593.94 62,694 62.48,653.88 62.96,627.95 63.44,611.19 63.92,600.36 64.4,593.36 64.8,694.58 65.28,655.13 65.76,629.63 66.24,613.15 66.72,602.5 67.2,595.62 67.6,683.66 68.08,649.58 68.56,627.55 69.04,613.31 69.52,604.11 70,598.16 70.4,683.21 70.88,648.32 71.36,625.77 71.84,611.19 72.32,601.77 72.8,595.68 73.2,689.8 73.68,653.06 74.16,629.31 74.64,613.96 75.12,604.03 75.6,597.62 76,690.47 76.48,652.03 76.96,627.18 77.44,611.12 77.92,600.74 78.4,594.03 78.8,681.78 79.28,649.03 79.76,627.87 80.24,614.19 80.72,605.34 81.2,599.63 81.6,687.44 82.08,650.39 82.56,626.45 83.04,610.97 83.52,600.97 84,594.5 84.4,680.11 84.88,646.12 85.36,624.14 85.84,609.94 86.32,600.76 86.8,594.83 87.2,683.63 87.68,649.12 88.16,626.82 88.64,612.4 89.12,603.08 89.6,597.06 90,690.06 90.48,654.02 90.96,630.73 91.44,615.67 91.92,605.94 92.4,599.65 92.8,687.31 93.28,652.08 93.76,629.31 94.24,614.59 94.72,605.07 95.2,598.92 95.6,684.35 96.08,650.9 96.56,629.27 97.04,615.29 97.52,606.26 98,600.42 98.4,680.31 98.88,647.88 99.36,626.92 99.84,613.37 100.32,604.61 100.8,598.95 101.2,685.83 101.68,650.16 102.16,627.1 102.64,612.2 103.12,602.56 103.6,596.34 104,682.76 104.48,648.38 104.96,626.16 105.44,611.8 105.92,602.52 106.4,596.52 106.8,672.03 107.28,642.79 107.76,623.88 108.24,611.66 108.72,603.77 109.2,598.66 109.6,680.92 110.08,646.9 110.56,624.91 111.04,610.7 111.52,601.51 112,595.57 112.4,679.1 112.88,647.44 113.36,626.98 113.84,613.75 114.32,605.2 114.8,599.67 115.2,677.21 115.68,646.47 116.16,626.6 116.64,613.76 117.12,605.46 117.6,600.09 118,676.11 118.48,645.39 118.96,625.53 119.44,612.7 119.92,604.4 120.4,599.04 120.8,674.59 121.28,643.8 121.76,623.9 122.24,611.03 122.72,602.72 123.2,597.34 123.6,672.98 124.08,641.86 124.56,621.75 125.04,608.75 125.52,600.34 126,594.91 126.4,679.31 126.88,646.04 127.36,624.53 127.84,610.63 128.32,601.65 128.8,595.84 129.2,678.02 129.68,645.23 130.16,624.03 130.64,610.33 131.12,601.47 131.6,595.75 132,669.78 132.48,640.4 132.96,621.4 133.44,609.13 133.92,601.19 134.4,596.06 134.8,677.65 135.28,645.5 135.76,624.73 136.24,611.29 136.72,602.61 137.2,597 137.6,677.5 138.08,645.65 138.56,625.07 139.04,611.76 139.52,603.16 140,597.6 140.4,676.34 140.88,644.05 141.36,623.18 141.84,609.68 142.32,600.96 142.8,595.33 143.2,668.7 143.68,641.08 144.16,623.23 144.64,611.69 145.12,604.23 145.6,599.41 146,669.62 146.48,641.44 146.96,623.22 147.44,611.44 147.92,603.83 148.4,598.91 148.8,668.37 149.28,641.03 149.76,623.36 150.24,611.94 150.72,604.55 151.2,599.78 151.6,676.57 152.08,644.34 152.56,623.51 153.04,610.05 153.52,601.35 154,595.72 154.4,676.6 154.88,645.34 155.36,625.13 155.84,612.06 156.32,603.62 156.8,598.16 157.2,671.96 157.68,642.66 158.16,623.71 158.64,611.47 159.12,603.56 159.6,598.44 160,664.9 160.48,637.67 160.96,620.07 161.44,608.7 161.92,601.34 162.4,596.59 162.8,664.53 163.28,637.52 163.76,620.06 164.24,608.77 164.72,601.48 165.2,596.77 165.6,667.37 166.08,640.35 166.56,622.88 167.04,611.59 167.52,604.29 168,599.58 168.4,663.52 168.88,637.45 169.36,620.6 169.84,609.71 170.32,602.67 170.8,598.12 171.2,668.72 171.68,641.41 172.16,623.76 172.64,612.36 173.12,604.98 173.6,600.22 174,664.83 174.48,637.94 174.96,620.56 175.44,609.32 175.92,602.06 176.4,597.37 176.8,662.4 177.28,637.43 177.76,621.28 178.24,610.85 178.72,604.11 179.2,599.75 179.6,663.13 180.08,637.96 180.56,621.69 181.04,611.17 181.52,604.37 182,599.97 182.4,664.69 182.88,638.7 183.36,621.9 183.84,611.05 184.32,604.03 184.8,599.49 185.2,669.12 185.68,641.65 186.16,623.89 186.64,612.41 187.12,604.99 187.6,600.2 188,663.82 188.48,637.94 188.96,621.21 189.44,610.39 189.92,603.4 190.4,598.89 190.8,666.44 191.28,638.83 191.76,620.99 192.24,609.46 192.72,602 193.2,597.19 193.6,663.42 194.08,636.61 194.56,619.28 195.04,608.08 195.52,600.84 196,596.16 196.4,659.64 196.88,635.77 197.36,620.35 197.84,610.38 198.32,603.93 198.8,599.77 199.2,659.29 199.68,633.67 200.16,617.11 200.64,606.41 201.12,599.49 201.6,595.02 202,661.23 202.48,635.57 202.96,618.99 203.44,608.27 203.92,601.34 204.4,596.86 204.8,660.41 205.28,634.61 205.76,617.93 206.24,607.15 206.72,600.18 207.2,595.68 207.6,657.88 208.08,634.09 208.56,618.72 209.04,608.78 209.52,602.36 210,598.21 210.4,667.74 210.88,640.85 211.36,623.48 211.84,612.24 212.32,604.98 212.8,600.29 213.2,663.65 213.68,636.84 214.16,619.51 214.64,608.31 215.12,601.07 215.6,596.39 216,660.39 216.48,636.21 216.96,620.59 217.44,610.49 217.92,603.96 218.4,599.74 218.8,667.74 219.28,640.62 219.76,623.09 220.24,611.76 220.72,604.43 221.2,599.7 221.6,660.98 222.08,636.19 222.56,620.17 223.04,609.81 223.52,603.12 224,598.79 224.4,658.84 224.88,633.73 225.36,617.5 225.84,607.01 226.32,600.23 226.8,595.85 227.2,660.74 227.68,636.48 228.16,620.81 228.64,610.67 229.12,604.12 229.6,599.89 230,665.22 230.48,638.2 230.96,620.74 231.44,609.45 231.92,602.15 232.4,597.44 232.8,659.61 233.28,635.59 233.76,620.07 234.24,610.03 234.72,603.54 235.2,599.35 235.6,659.22 236.08,634.58 236.56,618.66 237.04,608.36 237.52,601.71 238,597.41 238.4,667.69 238.88,640.8 239.36,623.43 239.84,612.2 240.32,604.94 240.8,600.25 241.2,662.75 241.68,637.39 242.16,620.99 242.64,610.4 243.12,603.55 243.6,599.12 244,665.46 244.48,637.53 244.96,619.48 245.44,607.81 245.92,600.27 246.4,595.39 246.8,667.47 247.28,638.78 247.76,620.23 248.24,608.24 248.72,600.49 249.2,595.49 249.6,658.59 250.08,635.31 250.56,620.26 251.04,610.54 251.52,604.25 252,600.19 252.4,662.07 252.88,636.06 253.36,619.24 253.84,608.37 254.32,601.35 254.8,596.81 255.2,656.31 255.68,632.64 256.16,617.35 256.64,607.46 257.12,601.06 257.6,596.93 258,667.77 258.48,638.59 258.96,619.73 259.44,607.54 259.92,599.66 260.4,594.56 260.8,665.52 261.28,638.9 261.76,621.69 262.24,610.56 262.72,603.37 263.2,598.73 263.6,663.12 264.08,637.93 264.56,621.65 265.04,611.13 265.52,604.32 266,599.93 266.4,656.73 266.88,634.35 267.36,619.89 267.84,610.54 268.32,604.5 268.8,600.59 269.2,667.38 269.68,638.8 270.16,620.33 270.64,608.39 271.12,600.67 271.6,595.68 272,654.18 272.48,632.72 272.96,618.84 273.44,609.88 273.92,604.08 274.4,600.33 274.8,659.5 275.28,634.02 275.76,617.55 276.24,606.91 276.72,600.03 277.2,595.58 277.6,666.7 278.08,638.9 278.56,620.94 279.04,609.33 279.52,601.82 280,596.97 280.4,657.84 280.88,633.6 281.36,617.94 281.84,607.82 282.32,601.27 282.8,597.04 283.2,664.14 283.68,637.92 284.16,620.98 284.64,610.03 285.12,602.95 285.6,598.37 286,666.81 286.48,639.37 286.96,621.63 287.44,610.17 287.92,602.76 288.4,597.97 288.8,662.88 289.28,637.06 289.76,620.37 290.24,609.58 290.72,602.61 291.2,598.1 291.6,657.18 292.08,633.62 292.56,618.39 293.04,608.55 293.52,602.19 294,598.07 294.4,666.4 294.88,640.31 295.36,623.45 295.84,612.55 296.32,605.5 296.8,600.94 297.2,658.28 297.68,633.52 298.16,617.51 298.64,607.17 299.12,600.48 299.6,596.16 300,665.95 300.48,638.03 300.96,619.98 301.44,608.32 301.92,600.78 302.4,595.9 302.8,654.34 303.28,632.75 303.76,618.79 304.24,609.77 304.72,603.94 305.2,600.17 305.6,665.54 306.08,638.06 306.56,620.29 307.04,608.81 307.52,601.39 308,596.59 308.4,662.92 308.88,637.52 309.36,621.11 309.84,610.5 310.32,603.64 310.8,599.21 311.2,652.86 311.68,632.17 312.16,618.8 312.64,610.15 313.12,604.57 313.6,600.95 314,661.39 314.48,634.92 314.96,617.81 315.44,606.76 315.92,599.61 316.4,594.99 316.8,655.17 319.9,610 321.1,580.3 323.1,567.2 324,566 325.2,563.2 326.2,561 327.2,558.2 328.5,557.5 330,556" fill="none" stroke="#4a4a4a" stroke-width="0.62" stroke-linejoin="round"/>
<polyline points="28.9,532.4 39.1,532.4 39.6,569 40.08,557.04 40.56,549.31 41.04,544.32 41.52,541.09 42,539 42.4,599 42.88,579.99 43.36,567.7 43.84,559.75 44.32,554.62 44.8,551.3 45.2,625 45.68,603.68 46.16,589.89 46.64,580.98 47.12,575.22 47.6,571.5 48,651 48.48,620.89 48.96,601.43 49.44,588.85 49.92,580.72 50.4,575.46 50.8,661.25 51.28,627.8 51.76,606.18 52.24,592.2 52.72,583.16 53.2,577.32 53.6,661.14 54.08,627.54 54.56,605.83 55.04,591.79 55.52,582.71 56,576.85 56.4,650.48 56.88,622.34 57.36,604.14 57.84,592.39 58.32,584.78 58.8,579.87 59.2,660.56 59.68,626.46 60.16,604.42 60.64,590.17 61.12,580.96 61.6,575.01 62,655.63 62.48,623.95 62.96,603.46 63.44,590.22 63.92,581.67 64.4,576.14 64.8,661.08 65.28,627.01 65.76,604.99 66.24,590.76 66.72,581.56 67.2,575.61 67.6,654.07 68.08,623.95 68.56,604.48 69.04,591.9 69.52,583.76 70,578.51 70.4,650.5 70.88,620.47 71.36,601.06 71.84,588.52 72.32,580.41 72.8,575.16 73.2,658.54 73.68,626.94 74.16,606.51 74.64,593.31 75.12,584.77 75.6,579.26 76,653.44 76.48,621.62 76.96,601.05 77.44,587.75 77.92,579.16 78.4,573.6 78.8,655.31 79.28,624.26 79.76,604.19 80.24,591.21 80.72,582.83 81.2,577.41 81.6,642.74 82.08,617.38 82.56,600.99 83.04,590.4 83.52,583.55 84,579.13 84.4,650.86 84.88,622.06 85.36,603.44 85.84,591.41 86.32,583.63 86.8,578.6 87.2,650.35 87.68,620.18 88.16,600.68 88.64,588.07 89.12,579.93 89.6,574.66 90,643.88 90.48,615.76 90.96,597.58 91.44,585.83 91.92,578.24 92.4,573.33 92.8,639.71 93.28,615.37 93.76,599.64 94.24,589.47 94.72,582.9 95.2,578.65 95.6,638.03 96.08,614.86 96.56,599.88 97.04,590.2 97.52,583.94 98,579.9 98.4,646.79 98.88,619.39 99.36,601.69 99.84,590.24 100.32,582.84 100.8,578.06 101.2,643.23 101.68,616.11 102.16,598.58 102.64,587.24 103.12,579.92 103.6,575.18 104,644.75 104.48,618.32 104.96,601.23 105.44,590.18 105.92,583.04 106.4,578.43 106.8,635.41 107.28,612.45 107.76,597.62 108.24,588.03 108.72,581.83 109.2,577.82 109.6,640.29 110.08,614.53 110.56,597.88 111.04,587.12 111.52,580.16 112,575.67 112.4,636.42 112.88,612.82 113.36,597.57 113.84,587.71 114.32,581.34 114.8,577.22 115.2,636.87 115.68,612.55 116.16,596.83 116.64,586.67 117.12,580.1 117.6,575.86 118,636.92 118.48,613 118.96,597.53 119.44,587.54 119.92,581.08 120.4,576.91 120.8,628.82 121.28,608.44 121.76,595.26 122.24,586.75 122.72,581.24 123.2,577.69 123.6,639.88 124.08,613.42 124.56,596.32 125.04,585.27 125.52,578.12 126,573.5 126.4,631.9 126.88,610.87 127.36,597.28 127.84,588.49 128.32,582.81 128.8,579.14 129.2,633.88 129.68,612.22 130.16,598.22 130.64,589.18 131.12,583.33 131.6,579.55 132,625.77 132.48,606.46 132.96,593.98 133.44,585.91 133.92,580.69 134.4,577.32 134.8,625.69 135.28,606.72 135.76,594.46 136.24,586.53 136.72,581.41 137.2,578.1 137.6,637.4 138.08,611.61 138.56,594.93 139.04,584.16 139.52,577.19 140,572.69 140.4,626.64 140.88,605.53 141.36,591.89 141.84,583.07 142.32,577.37 142.8,573.68 143.2,633.15 143.68,611.37 144.16,597.3 144.64,588.2 145.12,582.32 145.6,578.51 146,627.91 146.48,607.84 146.96,594.86 147.44,586.48 147.92,581.06 148.4,577.56 148.8,631.97 149.28,609.6 149.76,595.14 150.24,585.8 150.72,579.76 151.2,575.85 151.6,630.12 152.08,607.41 152.56,592.73 153.04,583.24 153.52,577.11 154,573.15 154.4,633.22 154.88,610.25 155.36,595.4 155.84,585.8 156.32,579.6 156.8,575.59 157.2,628.13 157.68,607.26 158.16,593.77 158.64,585.04 159.12,579.41 159.6,575.76 160,619.32 160.48,601.37 160.96,589.77 161.44,582.27 161.92,577.42 162.4,574.28 162.8,619.68 163.28,600.83 163.76,588.64 164.24,580.76 164.72,575.67 165.2,572.38 165.6,627.92 166.08,606.86 166.56,593.24 167.04,584.44 167.52,578.75 168,575.07 168.4,622.92 168.88,602.88 169.36,589.92 169.84,581.55 170.32,576.13 170.8,572.63 171.2,624.33 171.68,603.57 172.16,590.14 172.64,581.47 173.12,575.86 173.6,572.23 174,627.23 174.48,607.07 174.96,594.04 175.44,585.62 175.92,580.18 176.4,576.66 176.8,621.41 177.28,604.01 177.76,592.77 178.24,585.5 178.72,580.8 179.2,577.77 179.6,625.1 180.08,604.2 180.56,590.68 181.04,581.95 181.52,576.3 182,572.65 182.4,622.02 182.88,602.33 183.36,589.61 183.84,581.38 184.32,576.07 184.8,572.63 185.2,618.62 185.68,601.23 186.16,589.99 186.64,582.72 187.12,578.03 187.6,574.99 188,614.67 188.48,598.07 188.96,587.33 189.44,580.4 189.92,575.91 190.4,573.01 190.8,622.44 191.28,604.35 191.76,592.66 192.24,585.1 192.72,580.21 193.2,577.06 193.6,617.15 194.08,600.66 194.56,590.01 195.04,583.12 195.52,578.67 196,575.79 196.4,610.12 196.88,595.96 197.36,586.81 197.84,580.89 198.32,577.07 198.8,574.59 199.2,611.66 199.68,598.37 200.16,589.78 200.64,584.23 201.12,580.64 201.6,578.32 202,621.97 202.48,603.79 202.96,592.04 203.44,584.44 203.92,579.53 204.4,576.36 204.8,609.49 205.28,594.9 205.76,585.47 206.24,579.37 206.72,575.43 207.2,572.88 207.6,615.35 208.08,598.26 208.56,587.21 209.04,580.07 209.52,575.46 210,572.47 210.4,609.6 210.88,595.82 211.36,586.91 211.84,581.15 212.32,577.43 212.8,575.02 213.2,615.81 213.68,598.9 214.16,587.98 214.64,580.92 215.12,576.35 215.6,573.4 216,617.73 216.48,601.71 216.96,591.36 217.44,584.66 217.92,580.34 218.4,577.54 218.8,608.48 219.28,593.82 219.76,584.35 220.24,578.23 220.72,574.27 221.2,571.71 221.6,620.64 222.08,601.76 222.56,589.55 223.04,581.66 223.52,576.56 224,573.26 224.4,613.28 224.88,597.05 225.36,586.55 225.84,579.77 226.32,575.38 226.8,572.55 227.2,620.6 227.68,602.87 228.16,591.41 228.64,584.01 229.12,579.22 229.6,576.13 230,612.02 230.48,597.95 230.96,588.86 231.44,582.98 231.92,579.18 232.4,576.72 232.8,614.6 233.28,599.25 233.76,589.33 234.24,582.91 234.72,578.77 235.2,576.09 235.6,610.13 236.08,594.96 236.56,585.15 237.04,578.81 237.52,574.72 238,572.07 238.4,608.5 238.88,595.86 239.36,587.69 239.84,582.41 240.32,578.99 240.8,576.79 241.2,612.91 241.68,596.12 242.16,585.26 242.64,578.24 243.12,573.7 243.6,570.77 244,619.47 244.48,601.02 244.96,589.1 245.44,581.39 245.92,576.41 246.4,573.19 246.8,612.37 247.28,598.39 247.76,589.36 248.24,583.52 248.72,579.75 249.2,577.31 249.6,609.76 250.08,596.77 250.56,588.38 251.04,582.96 251.52,579.45 252,577.18 252.4,607.59 252.88,592.89 253.36,583.38 253.84,577.24 254.32,573.27 254.8,570.7 255.2,605.53 255.68,593.44 256.16,585.63 256.64,580.58 257.12,577.32 257.6,575.21 258,612.63 258.48,596.28 258.96,585.7 259.44,578.87 259.92,574.45 260.4,571.6 260.8,611.6 261.28,596.77 261.76,587.17 262.24,580.97 262.72,576.97 263.2,574.38 263.6,616.82 264.08,598.97 264.56,587.44 265.04,579.98 265.52,575.16 266,572.05 266.4,610.46 266.88,594.9 267.36,584.83 267.84,578.33 268.32,574.13 268.8,571.41 269.2,608.37 269.68,594.58 270.16,585.67 270.64,579.91 271.12,576.19 271.6,573.78 272,618.64 272.48,600.93 272.96,589.49 273.44,582.09 273.92,577.3 274.4,574.21 274.8,615.8 275.28,598.92 275.76,588.01 276.24,580.96 276.72,576.4 277.2,573.45 277.6,605.46 278.08,592.79 278.56,584.6 279.04,579.31 279.52,575.88 280,573.67 280.4,608.96 280.88,594.36 281.36,584.93 281.84,578.83 282.32,574.88 282.8,572.33 283.2,605.66 283.68,593.93 284.16,586.34 284.64,581.44 285.12,578.27 285.6,576.23 286,614.9 286.48,597.69 286.96,586.57 287.44,579.39 287.92,574.74 288.4,571.74 288.8,607.96 289.28,595.21 289.76,586.96 290.24,581.63 290.72,578.19 291.2,575.96 291.6,609.29 292.08,595.35 292.56,586.34 293.04,580.52 293.52,576.76 294,574.33 294.4,613.52 294.88,598.05 295.36,588.05 295.84,581.59 296.32,577.41 296.8,574.71 297.2,615.98 297.68,597.65 298.16,585.8 298.64,578.15 299.12,573.2 299.6,570 300,614.35 300.48,598.4 300.96,588.09 301.44,581.43 301.92,577.12 302.4,574.34 302.8,609.89 303.28,596.65 303.76,588.1 304.24,582.57 304.72,579 305.2,576.68 305.6,615.04 306.08,598.36 306.56,587.57 307.04,580.6 307.52,576.1 308,573.19 308.4,609.56 308.88,596.23 309.36,587.62 309.84,582.05 310.32,578.45 310.8,576.12 311.2,613.37 311.68,597.13 312.16,586.64 312.64,579.85 313.12,575.47 313.6,572.63 314,606.59 314.48,592.36 314.96,583.17 315.44,577.23 315.92,573.38 316.4,570.9 316.8,615.87 319.9,600 321.3,577.3 321.6,559.2 324.1,549.1 325.5,548 326.2,546.5 327.2,545.1 328.5,544 329,542.5 330.4,540.6" fill="none" stroke="#f06868" stroke-width="0.95" stroke-linejoin="round"/>
<text x="533.2" y="517.2" style="font-size:14.5px" text-anchor="middle">EPSCs amplitude in 40 Hz trains</text>
<line x1="397.5" y1="531" x2="397.5" y2="688.4" stroke="#000" stroke-width="1.1"/>
<line x1="394.2" y1="684.6" x2="656" y2="684.6" stroke="#000" stroke-width="1.1"/>
<line x1="394.2" y1="684.6" x2="397.5" y2="684.6" stroke="#000" stroke-width="1.1"/>
<text x="387.6" y="689.6" style="font-size:14px" text-anchor="end">0</text>
<line x1="394.2" y1="633.46" x2="397.5" y2="633.46" stroke="#000" stroke-width="1.1"/>
<text x="387.6" y="638.46" style="font-size:14px" text-anchor="end">200</text>
<line x1="394.2" y1="582.32" x2="397.5" y2="582.32" stroke="#000" stroke-width="1.1"/>
<text x="387.6" y="587.32" style="font-size:14px" text-anchor="end">400</text>
<line x1="394.2" y1="531.18" x2="397.5" y2="531.18" stroke="#000" stroke-width="1.1"/>
<text x="387.6" y="536.18" style="font-size:14px" text-anchor="end">600</text>
<line x1="397.2" y1="684.6" x2="397.2" y2="688.2" stroke="#000" stroke-width="1.1"/>
<text x="397.2" y="704.6" style="font-size:14px" text-anchor="middle">0</text>
<line x1="448.62" y1="684.6" x2="448.62" y2="688.2" stroke="#000" stroke-width="1.1"/>
<text x="448.62" y="704.6" style="font-size:14px" text-anchor="middle">20</text>
<line x1="500.04" y1="684.6" x2="500.04" y2="688.2" stroke="#000" stroke-width="1.1"/>
<text x="500.04" y="704.6" style="font-size:14px" text-anchor="middle">40</text>
<line x1="551.46" y1="684.6" x2="551.46" y2="688.2" stroke="#000" stroke-width="1.1"/>
<text x="551.46" y="704.6" style="font-size:14px" text-anchor="middle">60</text>
<line x1="602.88" y1="684.6" x2="602.88" y2="688.2" stroke="#000" stroke-width="1.1"/>
<text x="602.88" y="704.6" style="font-size:14px" text-anchor="middle">80</text>
<line x1="654.3" y1="684.6" x2="654.3" y2="688.2" stroke="#000" stroke-width="1.1"/>
<text x="654.3" y="704.6" style="font-size:14px" text-anchor="middle">100</text>
<text x="532.6" y="725.2" style="font-size:14.9px" text-anchor="middle">Stimulus #</text>
<text x="0" y="0" transform="translate(354.2 607.2) rotate(-90)" style="font-size:14.5px" text-anchor="middle">(pA)</text>
<line x1="399.77" y1="638.95" x2="399.77" y2="666.32" stroke="#6a6a6a" stroke-width="0.8"/>
<line x1="402.34" y1="592.31" x2="402.34" y2="631.14" stroke="#6a6a6a" stroke-width="0.8"/>
<line x1="404.91" y1="565.99" x2="404.91" y2="588.42" stroke="#6a6a6a" stroke-width="0.8"/>
<line x1="407.48" y1="546.37" x2="407.48" y2="572.25" stroke="#6a6a6a" stroke-width="0.8"/>
<line x1="410.06" y1="540.2" x2="410.06" y2="570.74" stroke="#6a6a6a" stroke-width="0.8"/>
<line x1="412.63" y1="555.3" x2="412.63" y2="578.66" stroke="#6a6a6a" stroke-width="0.8"/>
<line x1="415.2" y1="551.86" x2="415.2" y2="576.99" stroke="#6a6a6a" stroke-width="0.8"/>
<line x1="417.77" y1="549.62" x2="417.77" y2="589.45" stroke="#6a6a6a" stroke-width="0.8"/>
<line x1="420.34" y1="560.14" x2="420.34" y2="589.16" stroke="#6a6a6a" stroke-width="0.8"/>
<line x1="422.91" y1="567.02" x2="422.91" y2="592.51" stroke="#6a6a6a" stroke-width="0.8"/>
<line x1="425.48" y1="557.35" x2="425.48" y2="597.28" stroke="#6a6a6a" stroke-width="0.8"/>
<line x1="428.05" y1="546.29" x2="428.05" y2="579.99" stroke="#6a6a6a" stroke-width="0.8"/>
<line x1="430.62" y1="566.01" x2="430.62" y2="601.05" stroke="#6a6a6a" stroke-width="0.8"/>
<line x1="433.19" y1="573.8" x2="433.19" y2="614.71" stroke="#6a6a6a" stroke-width="0.8"/>
<line x1="435.76" y1="568.69" x2="435.76" y2="605.57" stroke="#6a6a6a" stroke-width="0.8"/>
<line x1="438.34" y1="588.69" x2="438.34" y2="615.25" stroke="#6a6a6a" stroke-width="0.8"/>
<line x1="440.91" y1="587.79" x2="440.91" y2="608.47" stroke="#6a6a6a" stroke-width="0.8"/>
<line x1="443.48" y1="594.73" x2="443.48" y2="627.83" stroke="#6a6a6a" stroke-width="0.8"/>
<line x1="446.05" y1="571.28" x2="446.05" y2="608.02" stroke="#6a6a6a" stroke-width="0.8"/>
<line x1="448.62" y1="594.75" x2="448.62" y2="633.75" stroke="#6a6a6a" stroke-width="0.8"/>
<line x1="451.19" y1="597.71" x2="451.19" y2="622.55" stroke="#6a6a6a" stroke-width="0.8"/>
<line x1="453.76" y1="592.04" x2="453.76" y2="627.1" stroke="#6a6a6a" stroke-width="0.8"/>
<line x1="456.33" y1="573.14" x2="456.33" y2="615.19" stroke="#6a6a6a" stroke-width="0.8"/>
<line x1="458.9" y1="589.23" x2="458.9" y2="615.63" stroke="#6a6a6a" stroke-width="0.8"/>
<line x1="461.48" y1="564.12" x2="461.48" y2="591.31" stroke="#6a6a6a" stroke-width="0.8"/>
<line x1="464.05" y1="582.13" x2="464.05" y2="612.39" stroke="#6a6a6a" stroke-width="0.8"/>
<line x1="466.62" y1="587.87" x2="466.62" y2="621.47" stroke="#6a6a6a" stroke-width="0.8"/>
<line x1="469.19" y1="584.1" x2="469.19" y2="627.34" stroke="#6a6a6a" stroke-width="0.8"/>
<line x1="471.76" y1="587.28" x2="471.76" y2="621.27" stroke="#6a6a6a" stroke-width="0.8"/>
<line x1="474.33" y1="586.9" x2="474.33" y2="627.79" stroke="#6a6a6a" stroke-width="0.8"/>
<line x1="476.9" y1="591.8" x2="476.9" y2="627.35" stroke="#6a6a6a" stroke-width="0.8"/>
<line x1="479.47" y1="590.86" x2="479.47" y2="622.2" stroke="#6a6a6a" stroke-width="0.8"/>
<line x1="482.04" y1="591.74" x2="482.04" y2="619.23" stroke="#6a6a6a" stroke-width="0.8"/>
<line x1="484.61" y1="584.27" x2="484.61" y2="612.79" stroke="#6a6a6a" stroke-width="0.8"/>
<line x1="487.19" y1="592.2" x2="487.19" y2="630.54" stroke="#6a6a6a" stroke-width="0.8"/>
<line x1="489.76" y1="584.72" x2="489.76" y2="609.26" stroke="#6a6a6a" stroke-width="0.8"/>
<line x1="492.33" y1="608.54" x2="492.33" y2="632.17" stroke="#6a6a6a" stroke-width="0.8"/>
<line x1="494.9" y1="601.87" x2="494.9" y2="627.23" stroke="#6a6a6a" stroke-width="0.8"/>
<line x1="497.47" y1="593.04" x2="497.47" y2="628.89" stroke="#6a6a6a" stroke-width="0.8"/>
<line x1="500.04" y1="590.4" x2="500.04" y2="619.41" stroke="#6a6a6a" stroke-width="0.8"/>
<line x1="502.61" y1="601.9" x2="502.61" y2="627.11" stroke="#6a6a6a" stroke-width="0.8"/>
<line x1="505.18" y1="599.21" x2="505.18" y2="627.28" stroke="#6a6a6a" stroke-width="0.8"/>
<line x1="507.75" y1="595.64" x2="507.75" y2="617.97" stroke="#6a6a6a" stroke-width="0.8"/>
<line x1="510.32" y1="586.7" x2="510.32" y2="617.2" stroke="#6a6a6a" stroke-width="0.8"/>
<line x1="512.89" y1="610.7" x2="512.89" y2="649.83" stroke="#6a6a6a" stroke-width="0.8"/>
<line x1="515.47" y1="613.24" x2="515.47" y2="643.95" stroke="#6a6a6a" stroke-width="0.8"/>
<line x1="518.04" y1="582.39" x2="518.04" y2="613.14" stroke="#6a6a6a" stroke-width="0.8"/>
<line x1="520.61" y1="612.8" x2="520.61" y2="633.89" stroke="#6a6a6a" stroke-width="0.8"/>
<line x1="523.18" y1="593.1" x2="523.18" y2="619.97" stroke="#6a6a6a" stroke-width="0.8"/>
<line x1="525.75" y1="608.24" x2="525.75" y2="630.42" stroke="#6a6a6a" stroke-width="0.8"/>
<line x1="528.32" y1="586.21" x2="528.32" y2="607.77" stroke="#6a6a6a" stroke-width="0.8"/>
<line x1="530.89" y1="588.49" x2="530.89" y2="628.82" stroke="#6a6a6a" stroke-width="0.8"/>
<line x1="533.46" y1="588.24" x2="533.46" y2="625.13" stroke="#6a6a6a" stroke-width="0.8"/>
<line x1="536.03" y1="601.82" x2="536.03" y2="641.39" stroke="#6a6a6a" stroke-width="0.8"/>
<line x1="538.61" y1="610.61" x2="538.61" y2="634.12" stroke="#6a6a6a" stroke-width="0.8"/>
<line x1="541.18" y1="592.21" x2="541.18" y2="621.08" stroke="#6a6a6a" stroke-width="0.8"/>
<line x1="543.75" y1="596.54" x2="543.75" y2="638.01" stroke="#6a6a6a" stroke-width="0.8"/>
<line x1="546.32" y1="606.73" x2="546.32" y2="637.16" stroke="#6a6a6a" stroke-width="0.8"/>
<line x1="548.89" y1="600.15" x2="548.89" y2="641.91" stroke="#6a6a6a" stroke-width="0.8"/>
<line x1="551.46" y1="592.15" x2="551.46" y2="634.73" stroke="#6a6a6a" stroke-width="0.8"/>
<line x1="554.03" y1="600.8" x2="554.03" y2="621.4" stroke="#6a6a6a" stroke-width="0.8"/>
<line x1="556.6" y1="617.55" x2="556.6" y2="647.97" stroke="#6a6a6a" stroke-width="0.8"/>
<line x1="559.17" y1="597" x2="559.17" y2="630.88" stroke="#6a6a6a" stroke-width="0.8"/>
<line x1="561.74" y1="611.22" x2="561.74" y2="639.71" stroke="#6a6a6a" stroke-width="0.8"/>
<line x1="564.32" y1="614.35" x2="564.32" y2="643.46" stroke="#6a6a6a" stroke-width="0.8"/>
<line x1="566.89" y1="603.97" x2="566.89" y2="632.62" stroke="#6a6a6a" stroke-width="0.8"/>
<line x1="569.46" y1="599.09" x2="569.46" y2="624.86" stroke="#6a6a6a" stroke-width="0.8"/>
<line x1="572.03" y1="626.41" x2="572.03" y2="647.47" stroke="#6a6a6a" stroke-width="0.8"/>
<line x1="574.6" y1="596.71" x2="574.6" y2="634" stroke="#6a6a6a" stroke-width="0.8"/>
<line x1="577.17" y1="610.18" x2="577.17" y2="653.61" stroke="#6a6a6a" stroke-width="0.8"/>
<line x1="579.74" y1="596.61" x2="579.74" y2="617.95" stroke="#6a6a6a" stroke-width="0.8"/>
<line x1="582.31" y1="602.71" x2="582.31" y2="642.93" stroke="#6a6a6a" stroke-width="0.8"/>
<line x1="584.88" y1="618.32" x2="584.88" y2="651.3" stroke="#6a6a6a" stroke-width="0.8"/>
<line x1="587.45" y1="612.56" x2="587.45" y2="633.47" stroke="#6a6a6a" stroke-width="0.8"/>
<line x1="590.02" y1="623.31" x2="590.02" y2="645.35" stroke="#6a6a6a" stroke-width="0.8"/>
<line x1="592.6" y1="607.34" x2="592.6" y2="639.89" stroke="#6a6a6a" stroke-width="0.8"/>
<line x1="595.17" y1="612.3" x2="595.17" y2="635.16" stroke="#6a6a6a" stroke-width="0.8"/>
<line x1="597.74" y1="598.96" x2="597.74" y2="626.23" stroke="#6a6a6a" stroke-width="0.8"/>
<line x1="600.31" y1="589.66" x2="600.31" y2="616.44" stroke="#6a6a6a" stroke-width="0.8"/>
<line x1="602.88" y1="592.97" x2="602.88" y2="635.77" stroke="#6a6a6a" stroke-width="0.8"/>
<line x1="605.45" y1="590.58" x2="605.45" y2="621.84" stroke="#6a6a6a" stroke-width="0.8"/>
<line x1="608.02" y1="597.35" x2="608.02" y2="624.36" stroke="#6a6a6a" stroke-width="0.8"/>
<line x1="610.59" y1="613.76" x2="610.59" y2="655.81" stroke="#6a6a6a" stroke-width="0.8"/>
<line x1="613.16" y1="600.93" x2="613.16" y2="643.64" stroke="#6a6a6a" stroke-width="0.8"/>
<line x1="615.74" y1="610.7" x2="615.74" y2="647.71" stroke="#6a6a6a" stroke-width="0.8"/>
<line x1="618.31" y1="598.27" x2="618.31" y2="621.87" stroke="#6a6a6a" stroke-width="0.8"/>
<line x1="620.88" y1="610.63" x2="620.88" y2="651.56" stroke="#6a6a6a" stroke-width="0.8"/>
<line x1="623.45" y1="604.43" x2="623.45" y2="635.04" stroke="#6a6a6a" stroke-width="0.8"/>
<line x1="626.02" y1="584.4" x2="626.02" y2="622.95" stroke="#6a6a6a" stroke-width="0.8"/>
<line x1="628.59" y1="614.99" x2="628.59" y2="652.05" stroke="#6a6a6a" stroke-width="0.8"/>
<line x1="631.16" y1="610.53" x2="631.16" y2="646.02" stroke="#6a6a6a" stroke-width="0.8"/>
<line x1="633.73" y1="602.1" x2="633.73" y2="640.2" stroke="#6a6a6a" stroke-width="0.8"/>
<line x1="636.3" y1="608.24" x2="636.3" y2="647.38" stroke="#6a6a6a" stroke-width="0.8"/>
<line x1="638.87" y1="611.9" x2="638.87" y2="642.98" stroke="#6a6a6a" stroke-width="0.8"/>
<line x1="641.44" y1="609.97" x2="641.44" y2="641.58" stroke="#6a6a6a" stroke-width="0.8"/>
<line x1="644.02" y1="607.78" x2="644.02" y2="630.48" stroke="#6a6a6a" stroke-width="0.8"/>
<line x1="646.59" y1="596.76" x2="646.59" y2="625.75" stroke="#6a6a6a" stroke-width="0.8"/>
<line x1="649.16" y1="599.17" x2="649.16" y2="640.02" stroke="#6a6a6a" stroke-width="0.8"/>
<line x1="651.73" y1="611.38" x2="651.73" y2="636.9" stroke="#6a6a6a" stroke-width="0.8"/>
<line x1="654.3" y1="594.59" x2="654.3" y2="632.28" stroke="#6a6a6a" stroke-width="0.8"/>
<line x1="399.77" y1="651.23" x2="399.77" y2="667.86" stroke="#6a6a6a" stroke-width="0.8"/>
<line x1="402.34" y1="640.23" x2="402.34" y2="651.24" stroke="#6a6a6a" stroke-width="0.8"/>
<line x1="404.91" y1="616.9" x2="404.91" y2="633.14" stroke="#6a6a6a" stroke-width="0.8"/>
<line x1="407.48" y1="612.02" x2="407.48" y2="627.28" stroke="#6a6a6a" stroke-width="0.8"/>
<line x1="410.06" y1="605.19" x2="410.06" y2="623.37" stroke="#6a6a6a" stroke-width="0.8"/>
<line x1="412.63" y1="605.85" x2="412.63" y2="618.63" stroke="#6a6a6a" stroke-width="0.8"/>
<line x1="415.2" y1="602.11" x2="415.2" y2="618.28" stroke="#6a6a6a" stroke-width="0.8"/>
<line x1="417.77" y1="611.17" x2="417.77" y2="628.14" stroke="#6a6a6a" stroke-width="0.8"/>
<line x1="420.34" y1="621.74" x2="420.34" y2="634.44" stroke="#6a6a6a" stroke-width="0.8"/>
<line x1="422.91" y1="624.5" x2="422.91" y2="635.77" stroke="#6a6a6a" stroke-width="0.8"/>
<line x1="425.48" y1="625.88" x2="425.48" y2="638.47" stroke="#6a6a6a" stroke-width="0.8"/>
<line x1="428.05" y1="625.35" x2="428.05" y2="640.56" stroke="#6a6a6a" stroke-width="0.8"/>
<line x1="430.62" y1="622.82" x2="430.62" y2="634.39" stroke="#6a6a6a" stroke-width="0.8"/>
<line x1="433.19" y1="628" x2="433.19" y2="645.11" stroke="#6a6a6a" stroke-width="0.8"/>
<line x1="435.76" y1="631.07" x2="435.76" y2="642.99" stroke="#6a6a6a" stroke-width="0.8"/>
<line x1="438.34" y1="629.55" x2="438.34" y2="645.79" stroke="#6a6a6a" stroke-width="0.8"/>
<line x1="440.91" y1="630.13" x2="440.91" y2="642.29" stroke="#6a6a6a" stroke-width="0.8"/>
<line x1="443.48" y1="634.31" x2="443.48" y2="648.16" stroke="#6a6a6a" stroke-width="0.8"/>
<line x1="446.05" y1="625.78" x2="446.05" y2="643.04" stroke="#6a6a6a" stroke-width="0.8"/>
<line x1="448.62" y1="632.32" x2="448.62" y2="645.99" stroke="#6a6a6a" stroke-width="0.8"/>
<line x1="451.19" y1="636.39" x2="451.19" y2="651.34" stroke="#6a6a6a" stroke-width="0.8"/>
<line x1="453.76" y1="636.45" x2="453.76" y2="648.81" stroke="#6a6a6a" stroke-width="0.8"/>
<line x1="456.33" y1="632.49" x2="456.33" y2="646.01" stroke="#6a6a6a" stroke-width="0.8"/>
<line x1="458.9" y1="637.77" x2="458.9" y2="647.54" stroke="#6a6a6a" stroke-width="0.8"/>
<line x1="461.48" y1="634.97" x2="461.48" y2="648.96" stroke="#6a6a6a" stroke-width="0.8"/>
<line x1="464.05" y1="637.73" x2="464.05" y2="651.07" stroke="#6a6a6a" stroke-width="0.8"/>
<line x1="466.62" y1="637.61" x2="466.62" y2="649.57" stroke="#6a6a6a" stroke-width="0.8"/>
<line x1="469.19" y1="637.93" x2="469.19" y2="648.73" stroke="#6a6a6a" stroke-width="0.8"/>
<line x1="471.76" y1="634.65" x2="471.76" y2="646.99" stroke="#6a6a6a" stroke-width="0.8"/>
<line x1="474.33" y1="634.98" x2="474.33" y2="646.9" stroke="#6a6a6a" stroke-width="0.8"/>
<line x1="476.9" y1="641.18" x2="476.9" y2="653.73" stroke="#6a6a6a" stroke-width="0.8"/>
<line x1="479.47" y1="636.83" x2="479.47" y2="653.48" stroke="#6a6a6a" stroke-width="0.8"/>
<line x1="482.04" y1="633.81" x2="482.04" y2="651.26" stroke="#6a6a6a" stroke-width="0.8"/>
<line x1="484.61" y1="636.43" x2="484.61" y2="654.05" stroke="#6a6a6a" stroke-width="0.8"/>
<line x1="487.19" y1="640.78" x2="487.19" y2="653.86" stroke="#6a6a6a" stroke-width="0.8"/>
<line x1="489.76" y1="637.54" x2="489.76" y2="655.02" stroke="#6a6a6a" stroke-width="0.8"/>
<line x1="492.33" y1="641.72" x2="492.33" y2="656.33" stroke="#6a6a6a" stroke-width="0.8"/>
<line x1="494.9" y1="634.13" x2="494.9" y2="652.51" stroke="#6a6a6a" stroke-width="0.8"/>
<line x1="497.47" y1="635.5" x2="497.47" y2="645.85" stroke="#6a6a6a" stroke-width="0.8"/>
<line x1="500.04" y1="638.29" x2="500.04" y2="654.46" stroke="#6a6a6a" stroke-width="0.8"/>
<line x1="502.61" y1="636.72" x2="502.61" y2="651.34" stroke="#6a6a6a" stroke-width="0.8"/>
<line x1="505.18" y1="642.83" x2="505.18" y2="656.77" stroke="#6a6a6a" stroke-width="0.8"/>
<line x1="507.75" y1="639.39" x2="507.75" y2="655.58" stroke="#6a6a6a" stroke-width="0.8"/>
<line x1="510.32" y1="639.57" x2="510.32" y2="656.44" stroke="#6a6a6a" stroke-width="0.8"/>
<line x1="512.89" y1="637.19" x2="512.89" y2="654.04" stroke="#6a6a6a" stroke-width="0.8"/>
<line x1="515.47" y1="637.38" x2="515.47" y2="649.76" stroke="#6a6a6a" stroke-width="0.8"/>
<line x1="518.04" y1="643.5" x2="518.04" y2="656.21" stroke="#6a6a6a" stroke-width="0.8"/>
<line x1="520.61" y1="645.75" x2="520.61" y2="660.43" stroke="#6a6a6a" stroke-width="0.8"/>
<line x1="523.18" y1="644.88" x2="523.18" y2="654.48" stroke="#6a6a6a" stroke-width="0.8"/>
<line x1="525.75" y1="641.71" x2="525.75" y2="658.41" stroke="#6a6a6a" stroke-width="0.8"/>
<line x1="528.32" y1="641.08" x2="528.32" y2="655.68" stroke="#6a6a6a" stroke-width="0.8"/>
<line x1="530.89" y1="640.54" x2="530.89" y2="653.83" stroke="#6a6a6a" stroke-width="0.8"/>
<line x1="533.46" y1="638.9" x2="533.46" y2="653.98" stroke="#6a6a6a" stroke-width="0.8"/>
<line x1="536.03" y1="641.49" x2="536.03" y2="659.48" stroke="#6a6a6a" stroke-width="0.8"/>
<line x1="538.61" y1="643.83" x2="538.61" y2="660.44" stroke="#6a6a6a" stroke-width="0.8"/>
<line x1="541.18" y1="644" x2="541.18" y2="659.24" stroke="#6a6a6a" stroke-width="0.8"/>
<line x1="543.75" y1="646.78" x2="543.75" y2="657.89" stroke="#6a6a6a" stroke-width="0.8"/>
<line x1="546.32" y1="638.84" x2="546.32" y2="656.99" stroke="#6a6a6a" stroke-width="0.8"/>
<line x1="548.89" y1="645.56" x2="548.89" y2="658.33" stroke="#6a6a6a" stroke-width="0.8"/>
<line x1="551.46" y1="640.29" x2="551.46" y2="657.83" stroke="#6a6a6a" stroke-width="0.8"/>
<line x1="554.03" y1="643.29" x2="554.03" y2="657.1" stroke="#6a6a6a" stroke-width="0.8"/>
<line x1="556.6" y1="641.22" x2="556.6" y2="656.61" stroke="#6a6a6a" stroke-width="0.8"/>
<line x1="559.17" y1="639.16" x2="559.17" y2="656.54" stroke="#6a6a6a" stroke-width="0.8"/>
<line x1="561.74" y1="640.1" x2="561.74" y2="649.84" stroke="#6a6a6a" stroke-width="0.8"/>
<line x1="564.32" y1="643.04" x2="564.32" y2="654.96" stroke="#6a6a6a" stroke-width="0.8"/>
<line x1="566.89" y1="647.43" x2="566.89" y2="658.27" stroke="#6a6a6a" stroke-width="0.8"/>
<line x1="569.46" y1="647.53" x2="569.46" y2="657.17" stroke="#6a6a6a" stroke-width="0.8"/>
<line x1="572.03" y1="649.02" x2="572.03" y2="661.37" stroke="#6a6a6a" stroke-width="0.8"/>
<line x1="574.6" y1="636.79" x2="574.6" y2="654.42" stroke="#6a6a6a" stroke-width="0.8"/>
<line x1="577.17" y1="646.16" x2="577.17" y2="657.69" stroke="#6a6a6a" stroke-width="0.8"/>
<line x1="579.74" y1="644.99" x2="579.74" y2="655.23" stroke="#6a6a6a" stroke-width="0.8"/>
<line x1="582.31" y1="647.5" x2="582.31" y2="665.38" stroke="#6a6a6a" stroke-width="0.8"/>
<line x1="584.88" y1="647.6" x2="584.88" y2="661.35" stroke="#6a6a6a" stroke-width="0.8"/>
<line x1="587.45" y1="651.64" x2="587.45" y2="665.19" stroke="#6a6a6a" stroke-width="0.8"/>
<line x1="590.02" y1="643.68" x2="590.02" y2="659.22" stroke="#6a6a6a" stroke-width="0.8"/>
<line x1="592.6" y1="646.44" x2="592.6" y2="663.16" stroke="#6a6a6a" stroke-width="0.8"/>
<line x1="595.17" y1="649.43" x2="595.17" y2="660.73" stroke="#6a6a6a" stroke-width="0.8"/>
<line x1="597.74" y1="642.12" x2="597.74" y2="653.19" stroke="#6a6a6a" stroke-width="0.8"/>
<line x1="600.31" y1="644.06" x2="600.31" y2="657.17" stroke="#6a6a6a" stroke-width="0.8"/>
<line x1="602.88" y1="639.9" x2="602.88" y2="656.91" stroke="#6a6a6a" stroke-width="0.8"/>
<line x1="605.45" y1="639.63" x2="605.45" y2="657.37" stroke="#6a6a6a" stroke-width="0.8"/>
<line x1="608.02" y1="649.57" x2="608.02" y2="660.52" stroke="#6a6a6a" stroke-width="0.8"/>
<line x1="610.59" y1="642.73" x2="610.59" y2="658.28" stroke="#6a6a6a" stroke-width="0.8"/>
<line x1="613.16" y1="646.82" x2="613.16" y2="660.13" stroke="#6a6a6a" stroke-width="0.8"/>
<line x1="615.74" y1="648.75" x2="615.74" y2="666.04" stroke="#6a6a6a" stroke-width="0.8"/>
<line x1="618.31" y1="646.12" x2="618.31" y2="658.04" stroke="#6a6a6a" stroke-width="0.8"/>
<line x1="620.88" y1="646.56" x2="620.88" y2="658.26" stroke="#6a6a6a" stroke-width="0.8"/>
<line x1="623.45" y1="647.41" x2="623.45" y2="656.81" stroke="#6a6a6a" stroke-width="0.8"/>
<line x1="626.02" y1="645.31" x2="626.02" y2="662.53" stroke="#6a6a6a" stroke-width="0.8"/>
<line x1="628.59" y1="648.44" x2="628.59" y2="659.17" stroke="#6a6a6a" stroke-width="0.8"/>
<line x1="631.16" y1="646.6" x2="631.16" y2="658.37" stroke="#6a6a6a" stroke-width="0.8"/>
<line x1="633.73" y1="647.63" x2="633.73" y2="659.1" stroke="#6a6a6a" stroke-width="0.8"/>
<line x1="636.3" y1="644.57" x2="636.3" y2="662.26" stroke="#6a6a6a" stroke-width="0.8"/>
<line x1="638.87" y1="648.37" x2="638.87" y2="658.33" stroke="#6a6a6a" stroke-width="0.8"/>
<line x1="641.44" y1="652.47" x2="641.44" y2="664.78" stroke="#6a6a6a" stroke-width="0.8"/>
<line x1="644.02" y1="649.88" x2="644.02" y2="665.35" stroke="#6a6a6a" stroke-width="0.8"/>
<line x1="646.59" y1="648.98" x2="646.59" y2="659.71" stroke="#6a6a6a" stroke-width="0.8"/>
<line x1="649.16" y1="648.39" x2="649.16" y2="662.91" stroke="#6a6a6a" stroke-width="0.8"/>
<line x1="651.73" y1="655.8" x2="651.73" y2="668.91" stroke="#6a6a6a" stroke-width="0.8"/>
<line x1="654.3" y1="654.31" x2="654.3" y2="663.63" stroke="#6a6a6a" stroke-width="0.8"/>
<circle cx="399.77" cy="659.54" r="5" fill="#f81010" stroke="#400" stroke-width="0.6"/>
<circle cx="402.34" cy="645.73" r="5" fill="#f81010" stroke="#400" stroke-width="0.6"/>
<circle cx="404.91" cy="625.02" r="5" fill="#f81010" stroke="#400" stroke-width="0.6"/>
<circle cx="407.48" cy="619.65" r="5" fill="#f81010" stroke="#400" stroke-width="0.6"/>
<circle cx="410.06" cy="614.28" r="5" fill="#f81010" stroke="#400" stroke-width="0.6"/>
<circle cx="412.63" cy="612.24" r="5" fill="#f81010" stroke="#400" stroke-width="0.6"/>
<circle cx="415.2" cy="610.19" r="5" fill="#f81010" stroke="#400" stroke-width="0.6"/>
<circle cx="417.77" cy="619.65" r="5" fill="#f81010" stroke="#400" stroke-width="0.6"/>
<circle cx="420.34" cy="628.09" r="5" fill="#f81010" stroke="#400" stroke-width="0.6"/>
<circle cx="422.91" cy="630.14" r="5" fill="#f81010" stroke="#400" stroke-width="0.6"/>
<circle cx="425.48" cy="632.17" r="5" fill="#f81010" stroke="#400" stroke-width="0.6"/>
<circle cx="428.05" cy="632.96" r="5" fill="#f81010" stroke="#400" stroke-width="0.6"/>
<circle cx="430.62" cy="628.6" r="5" fill="#f81010" stroke="#400" stroke-width="0.6"/>
<circle cx="433.19" cy="636.55" r="5" fill="#f81010" stroke="#400" stroke-width="0.6"/>
<circle cx="435.76" cy="637.03" r="5" fill="#f81010" stroke="#400" stroke-width="0.6"/>
<circle cx="438.34" cy="637.67" r="5" fill="#f81010" stroke="#400" stroke-width="0.6"/>
<circle cx="440.91" cy="636.21" r="5" fill="#f81010" stroke="#400" stroke-width="0.6"/>
<circle cx="443.48" cy="641.23" r="5" fill="#f81010" stroke="#400" stroke-width="0.6"/>
<circle cx="446.05" cy="634.41" r="5" fill="#f81010" stroke="#400" stroke-width="0.6"/>
<circle cx="448.62" cy="639.15" r="5" fill="#f81010" stroke="#400" stroke-width="0.6"/>
<circle cx="451.19" cy="643.86" r="5" fill="#f81010" stroke="#400" stroke-width="0.6"/>
<circle cx="453.76" cy="642.63" r="5" fill="#f81010" stroke="#400" stroke-width="0.6"/>
<circle cx="456.33" cy="639.25" r="5" fill="#f81010" stroke="#400" stroke-width="0.6"/>
<circle cx="458.9" cy="642.65" r="5" fill="#f81010" stroke="#400" stroke-width="0.6"/>
<circle cx="461.48" cy="641.97" r="5" fill="#f81010" stroke="#400" stroke-width="0.6"/>
<circle cx="464.05" cy="644.4" r="5" fill="#f81010" stroke="#400" stroke-width="0.6"/>
<circle cx="466.62" cy="643.59" r="5" fill="#f81010" stroke="#400" stroke-width="0.6"/>
<circle cx="469.19" cy="643.33" r="5" fill="#f81010" stroke="#400" stroke-width="0.6"/>
<circle cx="471.76" cy="640.82" r="5" fill="#f81010" stroke="#400" stroke-width="0.6"/>
<circle cx="474.33" cy="640.94" r="5" fill="#f81010" stroke="#400" stroke-width="0.6"/>
<circle cx="476.9" cy="647.46" r="5" fill="#f81010" stroke="#400" stroke-width="0.6"/>
<circle cx="479.47" cy="645.15" r="5" fill="#f81010" stroke="#400" stroke-width="0.6"/>
<circle cx="482.04" cy="642.54" r="5" fill="#f81010" stroke="#400" stroke-width="0.6"/>
<circle cx="484.61" cy="645.24" r="5" fill="#f81010" stroke="#400" stroke-width="0.6"/>
<circle cx="487.19" cy="647.32" r="5" fill="#f81010" stroke="#400" stroke-width="0.6"/>
<circle cx="489.76" cy="646.28" r="5" fill="#f81010" stroke="#400" stroke-width="0.6"/>
<circle cx="492.33" cy="649.03" r="5" fill="#f81010" stroke="#400" stroke-width="0.6"/>
<circle cx="494.9" cy="643.32" r="5" fill="#f81010" stroke="#400" stroke-width="0.6"/>
<circle cx="497.47" cy="640.67" r="5" fill="#f81010" stroke="#400" stroke-width="0.6"/>
<circle cx="500.04" cy="646.37" r="5" fill="#f81010" stroke="#400" stroke-width="0.6"/>
<circle cx="502.61" cy="644.03" r="5" fill="#f81010" stroke="#400" stroke-width="0.6"/>
<circle cx="505.18" cy="649.8" r="5" fill="#f81010" stroke="#400" stroke-width="0.6"/>
<circle cx="507.75" cy="647.48" r="5" fill="#f81010" stroke="#400" stroke-width="0.6"/>
<circle cx="510.32" cy="648.01" r="5" fill="#f81010" stroke="#400" stroke-width="0.6"/>
<circle cx="512.89" cy="645.61" r="5" fill="#f81010" stroke="#400" stroke-width="0.6"/>
<circle cx="515.47" cy="643.57" r="5" fill="#f81010" stroke="#400" stroke-width="0.6"/>
<circle cx="518.04" cy="649.86" r="5" fill="#f81010" stroke="#400" stroke-width="0.6"/>
<circle cx="520.61" cy="653.09" r="5" fill="#f81010" stroke="#400" stroke-width="0.6"/>
<circle cx="523.18" cy="649.68" r="5" fill="#f81010" stroke="#400" stroke-width="0.6"/>
<circle cx="525.75" cy="650.06" r="5" fill="#f81010" stroke="#400" stroke-width="0.6"/>
<circle cx="528.32" cy="648.38" r="5" fill="#f81010" stroke="#400" stroke-width="0.6"/>
<circle cx="530.89" cy="647.19" r="5" fill="#f81010" stroke="#400" stroke-width="0.6"/>
<circle cx="533.46" cy="646.44" r="5" fill="#f81010" stroke="#400" stroke-width="0.6"/>
<circle cx="536.03" cy="650.49" r="5" fill="#f81010" stroke="#400" stroke-width="0.6"/>
<circle cx="538.61" cy="652.13" r="5" fill="#f81010" stroke="#400" stroke-width="0.6"/>
<circle cx="541.18" cy="651.62" r="5" fill="#f81010" stroke="#400" stroke-width="0.6"/>
<circle cx="543.75" cy="652.33" r="5" fill="#f81010" stroke="#400" stroke-width="0.6"/>
<circle cx="546.32" cy="647.92" r="5" fill="#f81010" stroke="#400" stroke-width="0.6"/>
<circle cx="548.89" cy="651.94" r="5" fill="#f81010" stroke="#400" stroke-width="0.6"/>
<circle cx="551.46" cy="649.06" r="5" fill="#f81010" stroke="#400" stroke-width="0.6"/>
<circle cx="554.03" cy="650.2" r="5" fill="#f81010" stroke="#400" stroke-width="0.6"/>
<circle cx="556.6" cy="648.91" r="5" fill="#f81010" stroke="#400" stroke-width="0.6"/>
<circle cx="559.17" cy="647.85" r="5" fill="#f81010" stroke="#400" stroke-width="0.6"/>
<circle cx="561.74" cy="644.97" r="5" fill="#f81010" stroke="#400" stroke-width="0.6"/>
<circle cx="564.32" cy="649" r="5" fill="#f81010" stroke="#400" stroke-width="0.6"/>
<circle cx="566.89" cy="652.85" r="5" fill="#f81010" stroke="#400" stroke-width="0.6"/>
<circle cx="569.46" cy="652.35" r="5" fill="#f81010" stroke="#400" stroke-width="0.6"/>
<circle cx="572.03" cy="655.2" r="5" fill="#f81010" stroke="#400" stroke-width="0.6"/>
<circle cx="574.6" cy="645.61" r="5" fill="#f81010" stroke="#400" stroke-width="0.6"/>
<circle cx="577.17" cy="651.92" r="5" fill="#f81010" stroke="#400" stroke-width="0.6"/>
<circle cx="579.74" cy="650.11" r="5" fill="#f81010" stroke="#400" stroke-width="0.6"/>
<circle cx="582.31" cy="656.44" r="5" fill="#f81010" stroke="#400" stroke-width="0.6"/>
<circle cx="584.88" cy="654.47" r="5" fill="#f81010" stroke="#400" stroke-width="0.6"/>
<circle cx="587.45" cy="658.42" r="5" fill="#f81010" stroke="#400" stroke-width="0.6"/>
<circle cx="590.02" cy="651.45" r="5" fill="#f81010" stroke="#400" stroke-width="0.6"/>
<circle cx="592.6" cy="654.8" r="5" fill="#f81010" stroke="#400" stroke-width="0.6"/>
<circle cx="595.17" cy="655.08" r="5" fill="#f81010" stroke="#400" stroke-width="0.6"/>
<circle cx="597.74" cy="647.66" r="5" fill="#f81010" stroke="#400" stroke-width="0.6"/>
<circle cx="600.31" cy="650.61" r="5" fill="#f81010" stroke="#400" stroke-width="0.6"/>
<circle cx="602.88" cy="648.4" r="5" fill="#f81010" stroke="#400" stroke-width="0.6"/>
<circle cx="605.45" cy="648.5" r="5" fill="#f81010" stroke="#400" stroke-width="0.6"/>
<circle cx="608.02" cy="655.05" r="5" fill="#f81010" stroke="#400" stroke-width="0.6"/>
<circle cx="610.59" cy="650.51" r="5" fill="#f81010" stroke="#400" stroke-width="0.6"/>
<circle cx="613.16" cy="653.47" r="5" fill="#f81010" stroke="#400" stroke-width="0.6"/>
<circle cx="615.74" cy="657.4" r="5" fill="#f81010" stroke="#400" stroke-width="0.6"/>
<circle cx="618.31" cy="652.08" r="5" fill="#f81010" stroke="#400" stroke-width="0.6"/>
<circle cx="620.88" cy="652.41" r="5" fill="#f81010" stroke="#400" stroke-width="0.6"/>
<circle cx="623.45" cy="652.11" r="5" fill="#f81010" stroke="#400" stroke-width="0.6"/>
<circle cx="626.02" cy="653.92" r="5" fill="#f81010" stroke="#400" stroke-width="0.6"/>
<circle cx="628.59" cy="653.8" r="5" fill="#f81010" stroke="#400" stroke-width="0.6"/>
<circle cx="631.16" cy="652.49" r="5" fill="#f81010" stroke="#400" stroke-width="0.6"/>
<circle cx="633.73" cy="653.36" r="5" fill="#f81010" stroke="#400" stroke-width="0.6"/>
<circle cx="636.3" cy="653.41" r="5" fill="#f81010" stroke="#400" stroke-width="0.6"/>
<circle cx="638.87" cy="653.35" r="5" fill="#f81010" stroke="#400" stroke-width="0.6"/>
<circle cx="641.44" cy="658.63" r="5" fill="#f81010" stroke="#400" stroke-width="0.6"/>
<circle cx="644.02" cy="657.62" r="5" fill="#f81010" stroke="#400" stroke-width="0.6"/>
<circle cx="646.59" cy="654.35" r="5" fill="#f81010" stroke="#400" stroke-width="0.6"/>
<circle cx="649.16" cy="655.65" r="5" fill="#f81010" stroke="#400" stroke-width="0.6"/>
<circle cx="651.73" cy="662.35" r="5" fill="#f81010" stroke="#400" stroke-width="0.6"/>
<circle cx="654.3" cy="658.97" r="5" fill="#f81010" stroke="#400" stroke-width="0.6"/>
<circle cx="399.77" cy="652.64" r="5" fill="#fff" stroke="#222" stroke-width="0.7"/>
<circle cx="402.34" cy="611.73" r="5" fill="#fff" stroke="#222" stroke-width="0.7"/>
<circle cx="404.91" cy="577.21" r="5" fill="#fff" stroke="#222" stroke-width="0.7"/>
<circle cx="407.48" cy="559.31" r="5" fill="#fff" stroke="#222" stroke-width="0.7"/>
<circle cx="410.06" cy="555.47" r="5" fill="#fff" stroke="#222" stroke-width="0.7"/>
<circle cx="412.63" cy="566.98" r="5" fill="#fff" stroke="#222" stroke-width="0.7"/>
<circle cx="415.2" cy="564.42" r="5" fill="#fff" stroke="#222" stroke-width="0.7"/>
<circle cx="417.77" cy="569.54" r="5" fill="#fff" stroke="#222" stroke-width="0.7"/>
<circle cx="420.34" cy="574.65" r="5" fill="#fff" stroke="#222" stroke-width="0.7"/>
<circle cx="422.91" cy="579.76" r="5" fill="#fff" stroke="#222" stroke-width="0.7"/>
<circle cx="425.48" cy="577.32" r="5" fill="#fff" stroke="#222" stroke-width="0.7"/>
<circle cx="428.05" cy="563.14" r="5" fill="#fff" stroke="#222" stroke-width="0.7"/>
<circle cx="430.62" cy="583.53" r="5" fill="#fff" stroke="#222" stroke-width="0.7"/>
<circle cx="433.19" cy="594.25" r="5" fill="#fff" stroke="#222" stroke-width="0.7"/>
<circle cx="435.76" cy="587.13" r="5" fill="#fff" stroke="#222" stroke-width="0.7"/>
<circle cx="438.34" cy="601.97" r="5" fill="#fff" stroke="#222" stroke-width="0.7"/>
<circle cx="440.91" cy="598.13" r="5" fill="#fff" stroke="#222" stroke-width="0.7"/>
<circle cx="443.48" cy="611.28" r="5" fill="#fff" stroke="#222" stroke-width="0.7"/>
<circle cx="446.05" cy="589.65" r="5" fill="#fff" stroke="#222" stroke-width="0.7"/>
<circle cx="448.62" cy="614.25" r="5" fill="#fff" stroke="#222" stroke-width="0.7"/>
<circle cx="451.19" cy="610.13" r="5" fill="#fff" stroke="#222" stroke-width="0.7"/>
<circle cx="453.76" cy="609.57" r="5" fill="#fff" stroke="#222" stroke-width="0.7"/>
<circle cx="456.33" cy="594.16" r="5" fill="#fff" stroke="#222" stroke-width="0.7"/>
<circle cx="458.9" cy="602.43" r="5" fill="#fff" stroke="#222" stroke-width="0.7"/>
<circle cx="461.48" cy="577.72" r="5" fill="#fff" stroke="#222" stroke-width="0.7"/>
<circle cx="464.05" cy="597.26" r="5" fill="#fff" stroke="#222" stroke-width="0.7"/>
<circle cx="466.62" cy="604.67" r="5" fill="#fff" stroke="#222" stroke-width="0.7"/>
<circle cx="469.19" cy="605.72" r="5" fill="#fff" stroke="#222" stroke-width="0.7"/>
<circle cx="471.76" cy="604.28" r="5" fill="#fff" stroke="#222" stroke-width="0.7"/>
<circle cx="474.33" cy="607.34" r="5" fill="#fff" stroke="#222" stroke-width="0.7"/>
<circle cx="476.9" cy="609.58" r="5" fill="#fff" stroke="#222" stroke-width="0.7"/>
<circle cx="479.47" cy="606.53" r="5" fill="#fff" stroke="#222" stroke-width="0.7"/>
<circle cx="482.04" cy="605.49" r="5" fill="#fff" stroke="#222" stroke-width="0.7"/>
<circle cx="484.61" cy="598.53" r="5" fill="#fff" stroke="#222" stroke-width="0.7"/>
<circle cx="487.19" cy="611.37" r="5" fill="#fff" stroke="#222" stroke-width="0.7"/>
<circle cx="489.76" cy="596.99" r="5" fill="#fff" stroke="#222" stroke-width="0.7"/>
<circle cx="492.33" cy="620.36" r="5" fill="#fff" stroke="#222" stroke-width="0.7"/>
<circle cx="494.9" cy="614.55" r="5" fill="#fff" stroke="#222" stroke-width="0.7"/>
<circle cx="497.47" cy="610.97" r="5" fill="#fff" stroke="#222" stroke-width="0.7"/>
<circle cx="500.04" cy="604.91" r="5" fill="#fff" stroke="#222" stroke-width="0.7"/>
<circle cx="502.61" cy="614.51" r="5" fill="#fff" stroke="#222" stroke-width="0.7"/>
<circle cx="505.18" cy="613.25" r="5" fill="#fff" stroke="#222" stroke-width="0.7"/>
<circle cx="507.75" cy="606.8" r="5" fill="#fff" stroke="#222" stroke-width="0.7"/>
<circle cx="510.32" cy="601.95" r="5" fill="#fff" stroke="#222" stroke-width="0.7"/>
<circle cx="512.89" cy="630.26" r="5" fill="#fff" stroke="#222" stroke-width="0.7"/>
<circle cx="515.47" cy="628.59" r="5" fill="#fff" stroke="#222" stroke-width="0.7"/>
<circle cx="518.04" cy="597.76" r="5" fill="#fff" stroke="#222" stroke-width="0.7"/>
<circle cx="520.61" cy="623.34" r="5" fill="#fff" stroke="#222" stroke-width="0.7"/>
<circle cx="523.18" cy="606.54" r="5" fill="#fff" stroke="#222" stroke-width="0.7"/>
<circle cx="525.75" cy="619.33" r="5" fill="#fff" stroke="#222" stroke-width="0.7"/>
<circle cx="528.32" cy="596.99" r="5" fill="#fff" stroke="#222" stroke-width="0.7"/>
<circle cx="530.89" cy="608.65" r="5" fill="#fff" stroke="#222" stroke-width="0.7"/>
<circle cx="533.46" cy="606.69" r="5" fill="#fff" stroke="#222" stroke-width="0.7"/>
<circle cx="536.03" cy="621.61" r="5" fill="#fff" stroke="#222" stroke-width="0.7"/>
<circle cx="538.61" cy="622.36" r="5" fill="#fff" stroke="#222" stroke-width="0.7"/>
<circle cx="541.18" cy="606.64" r="5" fill="#fff" stroke="#222" stroke-width="0.7"/>
<circle cx="543.75" cy="617.28" r="5" fill="#fff" stroke="#222" stroke-width="0.7"/>
<circle cx="546.32" cy="621.95" r="5" fill="#fff" stroke="#222" stroke-width="0.7"/>
<circle cx="548.89" cy="621.03" r="5" fill="#fff" stroke="#222" stroke-width="0.7"/>
<circle cx="551.46" cy="613.44" r="5" fill="#fff" stroke="#222" stroke-width="0.7"/>
<circle cx="554.03" cy="611.1" r="5" fill="#fff" stroke="#222" stroke-width="0.7"/>
<circle cx="556.6" cy="632.76" r="5" fill="#fff" stroke="#222" stroke-width="0.7"/>
<circle cx="559.17" cy="613.94" r="5" fill="#fff" stroke="#222" stroke-width="0.7"/>
<circle cx="561.74" cy="625.47" r="5" fill="#fff" stroke="#222" stroke-width="0.7"/>
<circle cx="564.32" cy="628.9" r="5" fill="#fff" stroke="#222" stroke-width="0.7"/>
<circle cx="566.89" cy="618.29" r="5" fill="#fff" stroke="#222" stroke-width="0.7"/>
<circle cx="569.46" cy="611.97" r="5" fill="#fff" stroke="#222" stroke-width="0.7"/>
<circle cx="572.03" cy="636.94" r="5" fill="#fff" stroke="#222" stroke-width="0.7"/>
<circle cx="574.6" cy="615.36" r="5" fill="#fff" stroke="#222" stroke-width="0.7"/>
<circle cx="577.17" cy="631.9" r="5" fill="#fff" stroke="#222" stroke-width="0.7"/>
<circle cx="579.74" cy="607.28" r="5" fill="#fff" stroke="#222" stroke-width="0.7"/>
<circle cx="582.31" cy="622.82" r="5" fill="#fff" stroke="#222" stroke-width="0.7"/>
<circle cx="584.88" cy="634.81" r="5" fill="#fff" stroke="#222" stroke-width="0.7"/>
<circle cx="587.45" cy="623.02" r="5" fill="#fff" stroke="#222" stroke-width="0.7"/>
<circle cx="590.02" cy="634.33" r="5" fill="#fff" stroke="#222" stroke-width="0.7"/>
<circle cx="592.6" cy="623.61" r="5" fill="#fff" stroke="#222" stroke-width="0.7"/>
<circle cx="595.17" cy="623.73" r="5" fill="#fff" stroke="#222" stroke-width="0.7"/>
<circle cx="597.74" cy="612.59" r="5" fill="#fff" stroke="#222" stroke-width="0.7"/>
<circle cx="600.31" cy="603.05" r="5" fill="#fff" stroke="#222" stroke-width="0.7"/>
<circle cx="602.88" cy="614.37" r="5" fill="#fff" stroke="#222" stroke-width="0.7"/>
<circle cx="605.45" cy="606.21" r="5" fill="#fff" stroke="#222" stroke-width="0.7"/>
<circle cx="608.02" cy="610.85" r="5" fill="#fff" stroke="#222" stroke-width="0.7"/>
<circle cx="610.59" cy="634.79" r="5" fill="#fff" stroke="#222" stroke-width="0.7"/>
<circle cx="613.16" cy="622.29" r="5" fill="#fff" stroke="#222" stroke-width="0.7"/>
<circle cx="615.74" cy="629.2" r="5" fill="#fff" stroke="#222" stroke-width="0.7"/>
<circle cx="618.31" cy="610.07" r="5" fill="#fff" stroke="#222" stroke-width="0.7"/>
<circle cx="620.88" cy="631.09" r="5" fill="#fff" stroke="#222" stroke-width="0.7"/>
<circle cx="623.45" cy="619.73" r="5" fill="#fff" stroke="#222" stroke-width="0.7"/>
<circle cx="626.02" cy="603.67" r="5" fill="#fff" stroke="#222" stroke-width="0.7"/>
<circle cx="628.59" cy="633.52" r="5" fill="#fff" stroke="#222" stroke-width="0.7"/>
<circle cx="631.16" cy="628.28" r="5" fill="#fff" stroke="#222" stroke-width="0.7"/>
<circle cx="633.73" cy="621.15" r="5" fill="#fff" stroke="#222" stroke-width="0.7"/>
<circle cx="636.3" cy="627.81" r="5" fill="#fff" stroke="#222" stroke-width="0.7"/>
<circle cx="638.87" cy="627.44" r="5" fill="#fff" stroke="#222" stroke-width="0.7"/>
<circle cx="641.44" cy="625.77" r="5" fill="#fff" stroke="#222" stroke-width="0.7"/>
<circle cx="644.02" cy="619.13" r="5" fill="#fff" stroke="#222" stroke-width="0.7"/>
<circle cx="646.59" cy="611.25" r="5" fill="#fff" stroke="#222" stroke-width="0.7"/>
<circle cx="649.16" cy="619.59" r="5" fill="#fff" stroke="#222" stroke-width="0.7"/>
<circle cx="651.73" cy="624.14" r="5" fill="#fff" stroke="#222" stroke-width="0.7"/>
<circle cx="654.3" cy="613.43" r="5" fill="#fff" stroke="#222" stroke-width="0.7"/>
<polygon points="550.9,548.6 551.78,550.39 553.75,550.67 552.33,552.06 552.66,554.03 550.9,553.1 549.14,554.03 549.47,552.06 548.05,550.67 550.02,550.39" fill="#111"/>
<polyline points="563.8,540.4 558.5,540.4 558.5,561.9 563.8,561.9" fill="none" stroke="#666" stroke-width="0.9" stroke-linejoin="round"/>
<circle cx="573.8" cy="539.6" r="5.2" fill="#fff" stroke="#444" stroke-width="0.8"/>
<circle cx="573.8" cy="561.6" r="5.2" fill="#f81010" stroke="#300" stroke-width="0.7"/>
<text x="585.8" y="543.7" style="font-size:12.6px">WT</text>
<text x="585.8" y="566.5" style="font-size:12.6px">PSKO</text>
<line x1="49.1" y1="767.8" x2="49.1" y2="952.1" stroke="#000" stroke-width="1.1"/>
<line x1="48.6" y1="951.6" x2="355.6" y2="951.6" stroke="#000" stroke-width="1.1"/>
<line x1="44.9" y1="951.6" x2="49.1" y2="951.6" stroke="#000" stroke-width="1.1"/>
<text x="38.8" y="956.6" style="font-size:14px" text-anchor="end">0</text>
<line x1="44.9" y1="898.9" x2="49.1" y2="898.9" stroke="#000" stroke-width="1.1"/>
<text x="38.8" y="903.9" style="font-size:14px" text-anchor="end">10</text>
<line x1="44.9" y1="846.2" x2="49.1" y2="846.2" stroke="#000" stroke-width="1.1"/>
<text x="38.8" y="851.2" style="font-size:14px" text-anchor="end">20</text>
<line x1="44.9" y1="793.5" x2="49.1" y2="793.5" stroke="#000" stroke-width="1.1"/>
<text x="38.8" y="798.5" style="font-size:14px" text-anchor="end">30</text>
<line x1="49.1" y1="951.6" x2="49.1" y2="955.6" stroke="#000" stroke-width="1.1"/>
<text x="49.1" y="972.6" style="font-size:14px" text-anchor="middle">0</text>
<line x1="110.34" y1="951.6" x2="110.34" y2="955.6" stroke="#000" stroke-width="1.1"/>
<text x="110.34" y="972.6" style="font-size:14px" text-anchor="middle">20</text>
<line x1="171.58" y1="951.6" x2="171.58" y2="955.6" stroke="#000" stroke-width="1.1"/>
<text x="171.58" y="972.6" style="font-size:14px" text-anchor="middle">40</text>
<line x1="232.82" y1="951.6" x2="232.82" y2="955.6" stroke="#000" stroke-width="1.1"/>
<text x="232.82" y="972.6" style="font-size:14px" text-anchor="middle">60</text>
<line x1="294.06" y1="951.6" x2="294.06" y2="955.6" stroke="#000" stroke-width="1.1"/>
<text x="294.06" y="972.6" style="font-size:14px" text-anchor="middle">80</text>
<line x1="355.3" y1="951.6" x2="355.3" y2="955.6" stroke="#000" stroke-width="1.1"/>
<text x="355.3" y="972.6" style="font-size:14px" text-anchor="middle">100</text>
<text x="202" y="996.5" style="font-size:14.5px" text-anchor="middle">Stimulus #</text>
<text x="0" y="0" transform="translate(12 862.2) rotate(-90)" style="font-size:14.5px" text-anchor="middle">Cum. Ampl. (nA)</text>
<line x1="49.1" y1="909.7" x2="355.3" y2="789.55" stroke="#000" stroke-width="2" stroke-dasharray="5.4 3.4"/>
<line x1="49.1" y1="914.71" x2="355.3" y2="874.66" stroke="#e00" stroke-width="2" stroke-dasharray="5.4 3.4"/>
<circle cx="52.16" cy="951.6" r="1.6" fill="#ee1111"/>
<circle cx="55.22" cy="951.6" r="1.6" fill="#ee1111"/>
<circle cx="58.29" cy="950.76" r="1.6" fill="#ee1111"/>
<circle cx="61.35" cy="949.75" r="1.6" fill="#ee1111"/>
<circle cx="64.41" cy="948.17" r="1.6" fill="#ee1111"/>
<circle cx="67.47" cy="946.36" r="1.6" fill="#ee1111"/>
<circle cx="70.53" cy="944.39" r="1.6" fill="#ee1111"/>
<circle cx="73.6" cy="942.06" r="1.6" fill="#ee1111"/>
<circle cx="76.66" cy="939.76" r="1.6" fill="#ee1111"/>
<circle cx="79.72" cy="937.48" r="1.6" fill="#ee1111"/>
<circle cx="82.78" cy="935.55" r="1.6" fill="#ee1111"/>
<circle cx="85.84" cy="933.95" r="1.6" fill="#ee1111"/>
<circle cx="88.91" cy="932.75" r="1.6" fill="#ee1111"/>
<circle cx="91.97" cy="931.32" r="1.6" fill="#ee1111"/>
<circle cx="95.03" cy="929.85" r="1.6" fill="#ee1111"/>
<circle cx="98.09" cy="928.34" r="1.6" fill="#ee1111"/>
<circle cx="101.15" cy="926.48" r="1.6" fill="#ee1111"/>
<circle cx="104.22" cy="924.51" r="1.6" fill="#ee1111"/>
<circle cx="107.28" cy="922.63" r="1.6" fill="#ee1111"/>
<circle cx="110.34" cy="920.97" r="1.6" fill="#ee1111"/>
<circle cx="113.4" cy="919.46" r="1.6" fill="#ee1111"/>
<circle cx="116.46" cy="917.87" r="1.6" fill="#ee1111"/>
<circle cx="119.53" cy="916.49" r="1.6" fill="#ee1111"/>
<circle cx="122.59" cy="915.3" r="1.6" fill="#ee1111"/>
<circle cx="125.65" cy="914.23" r="1.6" fill="#ee1111"/>
<circle cx="128.71" cy="913.27" r="1.6" fill="#ee1111"/>
<circle cx="131.77" cy="912.31" r="1.6" fill="#ee1111"/>
<circle cx="134.84" cy="911.38" r="1.6" fill="#ee1111"/>
<circle cx="137.9" cy="910.54" r="1.6" fill="#ee1111"/>
<circle cx="140.96" cy="909.7" r="1.6" fill="#ee1111"/>
<circle cx="144.02" cy="909.48" r="1.6" fill="#ee1111"/>
<circle cx="147.08" cy="908.01" r="1.6" fill="#ee1111"/>
<circle cx="150.15" cy="907.18" r="1.6" fill="#ee1111"/>
<circle cx="153.21" cy="906.81" r="1.6" fill="#ee1111"/>
<circle cx="156.27" cy="905.97" r="1.6" fill="#ee1111"/>
<circle cx="159.33" cy="905.04" r="1.6" fill="#ee1111"/>
<circle cx="162.39" cy="904.07" r="1.6" fill="#ee1111"/>
<circle cx="165.46" cy="903.61" r="1.6" fill="#ee1111"/>
<circle cx="168.52" cy="903.14" r="1.6" fill="#ee1111"/>
<circle cx="171.58" cy="902.14" r="1.6" fill="#ee1111"/>
<circle cx="174.64" cy="901.69" r="1.6" fill="#ee1111"/>
<circle cx="177.7" cy="900.12" r="1.6" fill="#ee1111"/>
<circle cx="180.77" cy="899.35" r="1.6" fill="#ee1111"/>
<circle cx="183.83" cy="899.83" r="1.6" fill="#ee1111"/>
<circle cx="186.89" cy="898.33" r="1.6" fill="#ee1111"/>
<circle cx="189.95" cy="897.81" r="1.6" fill="#ee1111"/>
<circle cx="193.01" cy="896.73" r="1.6" fill="#ee1111"/>
<circle cx="196.08" cy="896.35" r="1.6" fill="#ee1111"/>
<circle cx="199.14" cy="895.82" r="1.6" fill="#ee1111"/>
<circle cx="202.2" cy="894.95" r="1.6" fill="#ee1111"/>
<circle cx="205.26" cy="894.85" r="1.6" fill="#ee1111"/>
<circle cx="208.32" cy="893.95" r="1.6" fill="#ee1111"/>
<circle cx="211.39" cy="893.28" r="1.6" fill="#ee1111"/>
<circle cx="214.45" cy="893.23" r="1.6" fill="#ee1111"/>
<circle cx="217.51" cy="892.12" r="1.6" fill="#ee1111"/>
<circle cx="220.57" cy="891.79" r="1.6" fill="#ee1111"/>
<circle cx="223.63" cy="891.05" r="1.6" fill="#ee1111"/>
<circle cx="226.7" cy="891.57" r="1.6" fill="#ee1111"/>
<circle cx="229.76" cy="890.62" r="1.6" fill="#ee1111"/>
<circle cx="232.82" cy="889.58" r="1.6" fill="#ee1111"/>
<circle cx="235.88" cy="889.45" r="1.6" fill="#ee1111"/>
<circle cx="238.94" cy="888.67" r="1.6" fill="#ee1111"/>
<circle cx="242.01" cy="888.03" r="1.6" fill="#ee1111"/>
<circle cx="245.07" cy="888.51" r="1.6" fill="#ee1111"/>
<circle cx="248.13" cy="887.93" r="1.6" fill="#ee1111"/>
<circle cx="251.19" cy="886.65" r="1.6" fill="#ee1111"/>
<circle cx="254.25" cy="886.15" r="1.6" fill="#ee1111"/>
<circle cx="257.32" cy="885.88" r="1.6" fill="#ee1111"/>
<circle cx="260.38" cy="885.94" r="1.6" fill="#ee1111"/>
<circle cx="263.44" cy="885.34" r="1.6" fill="#ee1111"/>
<circle cx="266.5" cy="884.7" r="1.6" fill="#ee1111"/>
<circle cx="269.56" cy="884.38" r="1.6" fill="#ee1111"/>
<circle cx="272.63" cy="883.95" r="1.6" fill="#ee1111"/>
<circle cx="275.69" cy="883.54" r="1.6" fill="#ee1111"/>
<circle cx="278.75" cy="882.54" r="1.6" fill="#ee1111"/>
<circle cx="281.81" cy="882.94" r="1.6" fill="#ee1111"/>
<circle cx="284.87" cy="881.85" r="1.6" fill="#ee1111"/>
<circle cx="287.94" cy="881.38" r="1.6" fill="#ee1111"/>
<circle cx="291" cy="880.64" r="1.6" fill="#ee1111"/>
<circle cx="294.06" cy="881.3" r="1.6" fill="#ee1111"/>
<circle cx="297.12" cy="880.16" r="1.6" fill="#ee1111"/>
<circle cx="300.18" cy="879.81" r="1.6" fill="#ee1111"/>
<circle cx="303.25" cy="879.66" r="1.6" fill="#ee1111"/>
<circle cx="306.31" cy="879.81" r="1.6" fill="#ee1111"/>
<circle cx="309.37" cy="879.46" r="1.6" fill="#ee1111"/>
<circle cx="312.43" cy="878.92" r="1.6" fill="#ee1111"/>
<circle cx="315.49" cy="877.76" r="1.6" fill="#ee1111"/>
<circle cx="318.56" cy="878.19" r="1.6" fill="#ee1111"/>
<circle cx="321.62" cy="877.86" r="1.6" fill="#ee1111"/>
<circle cx="324.68" cy="877.22" r="1.6" fill="#ee1111"/>
<circle cx="327.74" cy="876.68" r="1.6" fill="#ee1111"/>
<circle cx="330.8" cy="876.04" r="1.6" fill="#ee1111"/>
<circle cx="333.87" cy="875.54" r="1.6" fill="#ee1111"/>
<circle cx="336.93" cy="875.85" r="1.6" fill="#ee1111"/>
<circle cx="339.99" cy="874.67" r="1.6" fill="#ee1111"/>
<circle cx="343.05" cy="875.42" r="1.6" fill="#ee1111"/>
<circle cx="346.11" cy="874.61" r="1.6" fill="#ee1111"/>
<circle cx="349.18" cy="874.46" r="1.6" fill="#ee1111"/>
<circle cx="352.24" cy="873.91" r="1.6" fill="#ee1111"/>
<circle cx="355.3" cy="873.41" r="1.6" fill="#ee1111"/>
<circle cx="52.16" cy="951.6" r="1.6" fill="#000"/>
<circle cx="55.22" cy="949.13" r="1.6" fill="#000"/>
<circle cx="58.29" cy="946.57" r="1.6" fill="#000"/>
<circle cx="61.35" cy="943.89" r="1.6" fill="#000"/>
<circle cx="64.41" cy="940.85" r="1.6" fill="#000"/>
<circle cx="67.47" cy="937.37" r="1.6" fill="#000"/>
<circle cx="70.53" cy="932.95" r="1.6" fill="#000"/>
<circle cx="73.6" cy="928.6" r="1.6" fill="#000"/>
<circle cx="76.66" cy="924.54" r="1.6" fill="#000"/>
<circle cx="79.72" cy="920.72" r="1.6" fill="#000"/>
<circle cx="82.78" cy="918.79" r="1.6" fill="#000"/>
<circle cx="85.84" cy="916.89" r="1.6" fill="#000"/>
<circle cx="88.91" cy="915.01" r="1.6" fill="#000"/>
<circle cx="91.97" cy="913.14" r="1.6" fill="#000"/>
<circle cx="95.03" cy="911.26" r="1.6" fill="#000"/>
<circle cx="98.09" cy="909.38" r="1.6" fill="#000"/>
<circle cx="101.15" cy="907.49" r="1.6" fill="#000"/>
<circle cx="104.22" cy="905.43" r="1.6" fill="#000"/>
<circle cx="107.28" cy="903.38" r="1.6" fill="#000"/>
<circle cx="110.34" cy="901.19" r="1.6" fill="#000"/>
<circle cx="113.4" cy="899.01" r="1.6" fill="#000"/>
<circle cx="116.46" cy="896.9" r="1.6" fill="#000"/>
<circle cx="119.53" cy="894.82" r="1.6" fill="#000"/>
<circle cx="122.59" cy="892.97" r="1.6" fill="#000"/>
<circle cx="125.65" cy="891.02" r="1.6" fill="#000"/>
<circle cx="128.71" cy="888.97" r="1.6" fill="#000"/>
<circle cx="131.77" cy="886.95" r="1.6" fill="#000"/>
<circle cx="134.84" cy="884.93" r="1.6" fill="#000"/>
<circle cx="137.9" cy="882.91" r="1.6" fill="#000"/>
<circle cx="140.96" cy="880.89" r="1.6" fill="#000"/>
<circle cx="144.02" cy="878.88" r="1.6" fill="#000"/>
<circle cx="147.08" cy="877.32" r="1.6" fill="#000"/>
<circle cx="150.15" cy="875.95" r="1.6" fill="#000"/>
<circle cx="153.21" cy="874.25" r="1.6" fill="#000"/>
<circle cx="156.27" cy="872.54" r="1.6" fill="#000"/>
<circle cx="159.33" cy="870.06" r="1.6" fill="#000"/>
<circle cx="162.39" cy="869.08" r="1.6" fill="#000"/>
<circle cx="165.46" cy="867.43" r="1.6" fill="#000"/>
<circle cx="168.52" cy="866.18" r="1.6" fill="#000"/>
<circle cx="171.58" cy="864.9" r="1.6" fill="#000"/>
<circle cx="174.64" cy="863.04" r="1.6" fill="#000"/>
<circle cx="177.7" cy="861.93" r="1.6" fill="#000"/>
<circle cx="180.77" cy="860.95" r="1.6" fill="#000"/>
<circle cx="183.83" cy="858.51" r="1.6" fill="#000"/>
<circle cx="186.89" cy="858.3" r="1.6" fill="#000"/>
<circle cx="189.95" cy="857.05" r="1.6" fill="#000"/>
<circle cx="193.01" cy="854.92" r="1.6" fill="#000"/>
<circle cx="196.08" cy="853.73" r="1.6" fill="#000"/>
<circle cx="199.14" cy="852.83" r="1.6" fill="#000"/>
<circle cx="202.2" cy="851.56" r="1.6" fill="#000"/>
<circle cx="205.26" cy="849.6" r="1.6" fill="#000"/>
<circle cx="208.32" cy="848.71" r="1.6" fill="#000"/>
<circle cx="211.39" cy="847.72" r="1.6" fill="#000"/>
<circle cx="214.45" cy="845.82" r="1.6" fill="#000"/>
<circle cx="217.51" cy="844.32" r="1.6" fill="#000"/>
<circle cx="220.57" cy="843.97" r="1.6" fill="#000"/>
<circle cx="223.63" cy="841.96" r="1.6" fill="#000"/>
<circle cx="226.7" cy="841.33" r="1.6" fill="#000"/>
<circle cx="229.76" cy="838.93" r="1.6" fill="#000"/>
<circle cx="232.82" cy="837.7" r="1.6" fill="#000"/>
<circle cx="235.88" cy="837.2" r="1.6" fill="#000"/>
<circle cx="238.94" cy="836.17" r="1.6" fill="#000"/>
<circle cx="242.01" cy="833.6" r="1.6" fill="#000"/>
<circle cx="245.07" cy="832.94" r="1.6" fill="#000"/>
<circle cx="248.13" cy="832.27" r="1.6" fill="#000"/>
<circle cx="251.19" cy="831.05" r="1.6" fill="#000"/>
<circle cx="254.25" cy="828.69" r="1.6" fill="#000"/>
<circle cx="257.32" cy="827.95" r="1.6" fill="#000"/>
<circle cx="260.38" cy="827.19" r="1.6" fill="#000"/>
<circle cx="263.44" cy="825.48" r="1.6" fill="#000"/>
<circle cx="266.5" cy="824.69" r="1.6" fill="#000"/>
<circle cx="269.56" cy="822.73" r="1.6" fill="#000"/>
<circle cx="272.63" cy="821.99" r="1.6" fill="#000"/>
<circle cx="275.69" cy="820.04" r="1.6" fill="#000"/>
<circle cx="278.75" cy="819.53" r="1.6" fill="#000"/>
<circle cx="281.81" cy="817.72" r="1.6" fill="#000"/>
<circle cx="284.87" cy="817.54" r="1.6" fill="#000"/>
<circle cx="287.94" cy="815.91" r="1.6" fill="#000"/>
<circle cx="291" cy="814.72" r="1.6" fill="#000"/>
<circle cx="294.06" cy="813.03" r="1.6" fill="#000"/>
<circle cx="297.12" cy="813.04" r="1.6" fill="#000"/>
<circle cx="300.18" cy="810.68" r="1.6" fill="#000"/>
<circle cx="303.25" cy="809.57" r="1.6" fill="#000"/>
<circle cx="306.31" cy="809.04" r="1.6" fill="#000"/>
<circle cx="309.37" cy="808.46" r="1.6" fill="#000"/>
<circle cx="312.43" cy="806.15" r="1.6" fill="#000"/>
<circle cx="315.49" cy="805.13" r="1.6" fill="#000"/>
<circle cx="318.56" cy="803.59" r="1.6" fill="#000"/>
<circle cx="321.62" cy="803" r="1.6" fill="#000"/>
<circle cx="324.68" cy="801.19" r="1.6" fill="#000"/>
<circle cx="327.74" cy="801.08" r="1.6" fill="#000"/>
<circle cx="330.8" cy="799.87" r="1.6" fill="#000"/>
<circle cx="333.87" cy="798.09" r="1.6" fill="#000"/>
<circle cx="336.93" cy="796.98" r="1.6" fill="#000"/>
<circle cx="339.99" cy="795.78" r="1.6" fill="#000"/>
<circle cx="343.05" cy="794.35" r="1.6" fill="#000"/>
<circle cx="346.11" cy="793.47" r="1.6" fill="#000"/>
<circle cx="349.18" cy="792.37" r="1.6" fill="#000"/>
<circle cx="352.24" cy="790.95" r="1.6" fill="#000"/>
<circle cx="355.3" cy="790.11" r="1.6" fill="#000"/>
<text x="78.4" y="782.4" style="font-size:14.5px">Linear regression</text>
<line x1="86.2" y1="790.2" x2="86.2" y2="900" stroke="#000" stroke-width="1.8"/>
<polygon points="82.6,898.6 89.9,898.6 86.25,907.2" fill="#000"/>
<line x1="146.6" y1="929.5" x2="115" y2="929.5" stroke="#000" stroke-width="1.8"/>
<polygon points="116.2,925.8 116.2,933.2 108.6,929.5" fill="#000"/>
<text x="93" y="802.3" style="font-size:12.6px"><tspan font-style="italic">y</tspan> = <tspan font-style="italic">ax</tspan> + <tspan font-style="italic">b</tspan></text>
<text x="92.6" y="820.6" style="font-size:12.6px"><tspan font-style="italic">a</tspan>: replenishment rate</text>
<text x="154.4" y="925.3" style="font-size:12.6px">Cumulative plot of single</text>
<text x="154.4" y="940.6" style="font-size:12.6px">EPSC amplitude</text>
<circle cx="299.3" cy="831.2" r="2.9" fill="#000"/>
<text x="309" y="835.5" style="font-size:12.6px">WT</text>
<circle cx="299.3" cy="857.8" r="2.9" fill="#f20c0c"/>
<text x="309" y="862.1" style="font-size:12.6px">PSKO</text>
<text x="527" y="763.9" style="font-size:14.5px" text-anchor="middle">Replenishment rates</text>
<line x1="446.6" y1="777.4" x2="446.6" y2="962.1" stroke="#000" stroke-width="1.1"/>
<line x1="442.6" y1="961.6" x2="446.6" y2="961.6" stroke="#000" stroke-width="1.1"/>
<text x="437" y="966.6" style="font-size:14px" text-anchor="end">0</text>
<line x1="442.6" y1="924.83" x2="446.6" y2="924.83" stroke="#000" stroke-width="1.1"/>
<text x="437" y="929.83" style="font-size:14px" text-anchor="end">10</text>
<line x1="442.6" y1="888.06" x2="446.6" y2="888.06" stroke="#000" stroke-width="1.1"/>
<text x="437" y="893.06" style="font-size:14px" text-anchor="end">20</text>
<line x1="442.6" y1="851.29" x2="446.6" y2="851.29" stroke="#000" stroke-width="1.1"/>
<text x="437" y="856.29" style="font-size:14px" text-anchor="end">30</text>
<line x1="442.6" y1="814.52" x2="446.6" y2="814.52" stroke="#000" stroke-width="1.1"/>
<text x="437" y="819.52" style="font-size:14px" text-anchor="end">40</text>
<line x1="442.6" y1="777.75" x2="446.6" y2="777.75" stroke="#000" stroke-width="1.1"/>
<text x="437" y="782.75" style="font-size:14px" text-anchor="end">50</text>
<text x="0" y="0" transform="translate(411 869.8) rotate(-90)" style="font-size:14.5px" text-anchor="middle">(in SV per 50 ms)</text>
<polyline points="464.1,801.6 464.1,796.5 502.4,796.5 502.4,801.6" fill="none" stroke="#777" stroke-width="0.9" stroke-linejoin="round"/>
<polygon points="483.25,787.4 483.98,788.89 485.63,789.13 484.44,790.29 484.72,791.92 483.25,791.15 481.78,791.92 482.06,790.29 480.87,789.13 482.52,788.89" fill="#111"/>
<polyline points="561.3,801.6 561.3,796.5 599.6,796.5 599.6,801.6" fill="none" stroke="#777" stroke-width="0.9" stroke-linejoin="round"/>
<polygon points="580.45,787.4 581.18,788.89 582.83,789.13 581.64,790.29 581.92,791.92 580.45,791.15 578.98,791.92 579.26,790.29 578.07,789.13 579.72,788.89" fill="#111"/>
<line x1="453.5" y1="969.3" x2="514.9" y2="969.3" stroke="#888" stroke-width="1.1"/>
<line x1="552.8" y1="969.5" x2="614.1" y2="969.5" stroke="#888" stroke-width="1.1"/>
<text x="484" y="985.3" style="font-size:14.5px" text-anchor="middle">20 Hz</text>
<text x="584" y="985.3" style="font-size:14.5px" text-anchor="middle">40 Hz</text>
<circle cx="465.4" cy="847.7" r="3.75" fill="#000"/>
<circle cx="465.4" cy="857.4" r="3.75" fill="#000"/>
<circle cx="469.9" cy="872.7" r="3.75" fill="#000"/>
<circle cx="461.4" cy="876.9" r="3.75" fill="#000"/>
<circle cx="461.4" cy="886.9" r="3.75" fill="#000"/>
<circle cx="469.9" cy="888.4" r="3.75" fill="#000"/>
<circle cx="457.2" cy="906.3" r="3.75" fill="#000"/>
<circle cx="461.4" cy="908.1" r="3.75" fill="#000"/>
<circle cx="463.6" cy="910.3" r="3.75" fill="#000"/>
<circle cx="465.4" cy="911.6" r="3.75" fill="#000"/>
<circle cx="467.6" cy="910.3" r="3.75" fill="#000"/>
<circle cx="469.9" cy="909.3" r="3.75" fill="#000"/>
<circle cx="474.1" cy="907.1" r="3.75" fill="#000"/>
<circle cx="461.4" cy="933.3" r="3.75" fill="#000"/>
<circle cx="469.9" cy="934.3" r="3.75" fill="#000"/>
<circle cx="457.2" cy="945.3" r="3.75" fill="#000"/>
<circle cx="461.4" cy="947.5" r="3.75" fill="#000"/>
<circle cx="463.6" cy="950.3" r="3.75" fill="#000"/>
<circle cx="465.4" cy="952.8" r="3.75" fill="#000"/>
<circle cx="467.6" cy="950.5" r="3.75" fill="#000"/>
<circle cx="469.9" cy="949" r="3.75" fill="#000"/>
<circle cx="474.1" cy="945.3" r="3.75" fill="#000"/>
<line x1="450.2" y1="913.8" x2="480.9" y2="913.8" stroke="#7a7a7a" stroke-width="1.3"/>
<circle cx="502.6" cy="874.6" r="3.75" fill="#f00a0a"/>
<circle cx="494.6" cy="902.9" r="3.75" fill="#f00a0a"/>
<circle cx="511.1" cy="905.1" r="3.75" fill="#f00a0a"/>
<circle cx="502.6" cy="908.9" r="3.75" fill="#f00a0a"/>
<circle cx="494.6" cy="926.6" r="3.75" fill="#f00a0a"/>
<circle cx="498.4" cy="924" r="3.75" fill="#f00a0a"/>
<circle cx="506.6" cy="924" r="3.75" fill="#f00a0a"/>
<circle cx="511.1" cy="925.8" r="3.75" fill="#f00a0a"/>
<circle cx="502.6" cy="929.6" r="3.75" fill="#f00a0a"/>
<circle cx="499.9" cy="933.3" r="3.75" fill="#f00a0a"/>
<circle cx="505.1" cy="931.8" r="3.75" fill="#f00a0a"/>
<circle cx="498.4" cy="942.3" r="3.75" fill="#f00a0a"/>
<circle cx="508.1" cy="943" r="3.75" fill="#f00a0a"/>
<circle cx="502.9" cy="946" r="3.75" fill="#f00a0a"/>
<circle cx="502.6" cy="949.8" r="3.75" fill="#f00a0a"/>
<circle cx="496.9" cy="957.2" r="3.75" fill="#f00a0a"/>
<circle cx="501.4" cy="960.2" r="3.75" fill="#f00a0a"/>
<circle cx="505.9" cy="958.7" r="3.75" fill="#f00a0a"/>
<circle cx="508.9" cy="956.5" r="3.75" fill="#f00a0a"/>
<circle cx="499" cy="953" r="3.75" fill="#f00a0a"/>
<line x1="487.6" y1="934.3" x2="518.1" y2="934.3" stroke="#333" stroke-width="1.3"/>
<circle cx="564.8" cy="822.3" r="3.75" fill="#000"/>
<circle cx="564.8" cy="855.8" r="3.75" fill="#000"/>
<circle cx="556.3" cy="878.7" r="3.75" fill="#000"/>
<circle cx="564.5" cy="879.9" r="3.75" fill="#000"/>
<circle cx="573.1" cy="879.8" r="3.75" fill="#000"/>
<circle cx="560.6" cy="891.1" r="3.75" fill="#000"/>
<circle cx="568.6" cy="894.2" r="3.75" fill="#000"/>
<circle cx="573.4" cy="892.6" r="3.75" fill="#000"/>
<circle cx="560.6" cy="902.1" r="3.75" fill="#000"/>
<circle cx="564.5" cy="917.1" r="3.75" fill="#000"/>
<circle cx="564.5" cy="937.2" r="3.75" fill="#000"/>
<circle cx="560.6" cy="942.7" r="3.75" fill="#000"/>
<circle cx="555.8" cy="949.5" r="3.75" fill="#000"/>
<circle cx="568.6" cy="946.5" r="3.75" fill="#000"/>
<circle cx="573.4" cy="950.3" r="3.75" fill="#000"/>
<circle cx="560.3" cy="954" r="3.75" fill="#000"/>
<circle cx="564.5" cy="957" r="3.75" fill="#000"/>
<circle cx="569.4" cy="954.8" r="3.75" fill="#000"/>
<circle cx="571" cy="946" r="3.75" fill="#000"/>
<line x1="549" y1="915.6" x2="579.9" y2="915.6" stroke="#7a7a7a" stroke-width="1.3"/>
<circle cx="601.7" cy="892.3" r="3.75" fill="#f00a0a"/>
<circle cx="597.2" cy="911.1" r="3.75" fill="#f00a0a"/>
<circle cx="606" cy="911.1" r="3.75" fill="#f00a0a"/>
<circle cx="597.2" cy="929.5" r="3.75" fill="#f00a0a"/>
<circle cx="611.1" cy="929.5" r="3.75" fill="#f00a0a"/>
<circle cx="593.5" cy="937.9" r="3.75" fill="#f00a0a"/>
<circle cx="604.8" cy="936" r="3.75" fill="#f00a0a"/>
<circle cx="598.7" cy="942.7" r="3.75" fill="#f00a0a"/>
<circle cx="611.1" cy="941.2" r="3.75" fill="#f00a0a"/>
<circle cx="604.8" cy="945.8" r="3.75" fill="#f00a0a"/>
<circle cx="595.7" cy="959.8" r="3.75" fill="#f00a0a"/>
<circle cx="600.2" cy="960.1" r="3.75" fill="#f00a0a"/>
<circle cx="605.5" cy="957.8" r="3.75" fill="#f00a0a"/>
<circle cx="608.5" cy="959.8" r="3.75" fill="#f00a0a"/>
<circle cx="597.5" cy="939.5" r="3.75" fill="#f00a0a"/>
<line x1="585.9" y1="939.4" x2="617.1" y2="939.4" stroke="#111" stroke-width="1.3"/>
<circle cx="616.9" cy="834.6" r="3.9" fill="#000"/>
<text x="626.2" y="838" style="font-size:12.6px">WT</text>
<circle cx="616.9" cy="863.2" r="3.9" fill="#f00a0a"/>
<text x="626.2" y="867" style="font-size:12.6px">PSKO</text>
</svg>
</body></html>
